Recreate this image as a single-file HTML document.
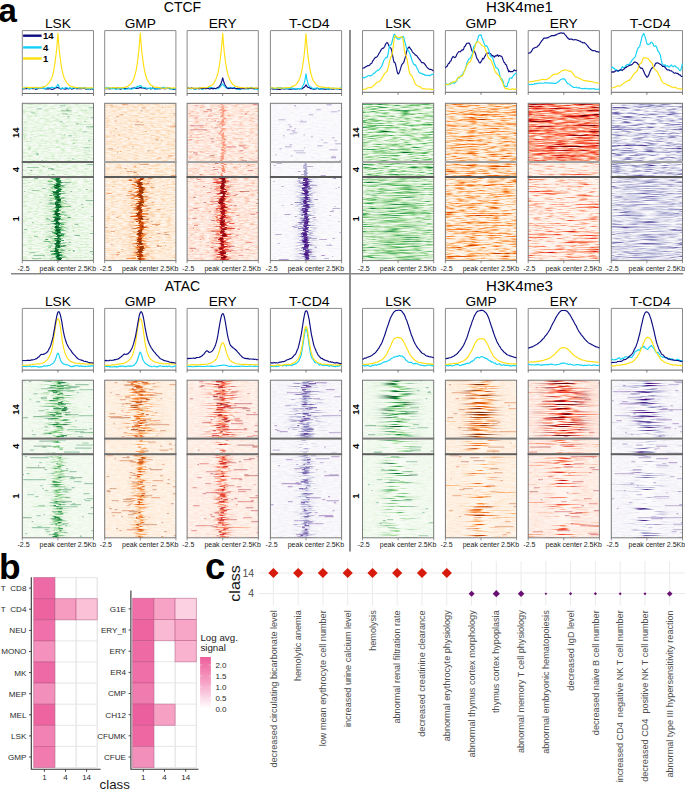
<!DOCTYPE html>
<html><head><meta charset="utf-8"><style>
html,body{margin:0;padding:0;background:#fff;}
body{width:685px;height:790px;overflow:hidden;}
svg{display:block;}
svg text{font-family:"Liberation Sans", sans-serif;}
</style></head><body>
<svg width="685" height="790" viewBox="0 0 685 790">
<defs><filter id="bl" x="-5%" y="-5%" width="110%" height="110%"><feGaussianBlur stdDeviation="0.7 0.3"/></filter>
<linearGradient id="gmN" x1="0" y1="0" x2="1" y2="0"><stop offset="0.000" stop-color="#fff" stop-opacity="0.000"/><stop offset="0.025" stop-color="#fff" stop-opacity="0.000"/><stop offset="0.050" stop-color="#fff" stop-opacity="0.000"/><stop offset="0.075" stop-color="#fff" stop-opacity="0.000"/><stop offset="0.100" stop-color="#fff" stop-opacity="0.000"/><stop offset="0.125" stop-color="#fff" stop-opacity="0.000"/><stop offset="0.150" stop-color="#fff" stop-opacity="0.000"/><stop offset="0.175" stop-color="#fff" stop-opacity="0.000"/><stop offset="0.200" stop-color="#fff" stop-opacity="0.000"/><stop offset="0.225" stop-color="#fff" stop-opacity="0.000"/><stop offset="0.250" stop-color="#fff" stop-opacity="0.000"/><stop offset="0.275" stop-color="#fff" stop-opacity="0.000"/><stop offset="0.300" stop-color="#fff" stop-opacity="0.000"/><stop offset="0.325" stop-color="#fff" stop-opacity="0.000"/><stop offset="0.350" stop-color="#fff" stop-opacity="0.000"/><stop offset="0.375" stop-color="#fff" stop-opacity="0.002"/><stop offset="0.400" stop-color="#fff" stop-opacity="0.017"/><stop offset="0.425" stop-color="#fff" stop-opacity="0.101"/><stop offset="0.450" stop-color="#fff" stop-opacity="0.360"/><stop offset="0.475" stop-color="#fff" stop-opacity="0.775"/><stop offset="0.500" stop-color="#fff" stop-opacity="1.000"/><stop offset="0.525" stop-color="#fff" stop-opacity="0.775"/><stop offset="0.550" stop-color="#fff" stop-opacity="0.360"/><stop offset="0.575" stop-color="#fff" stop-opacity="0.101"/><stop offset="0.600" stop-color="#fff" stop-opacity="0.017"/><stop offset="0.625" stop-color="#fff" stop-opacity="0.002"/><stop offset="0.650" stop-color="#fff" stop-opacity="0.000"/><stop offset="0.675" stop-color="#fff" stop-opacity="0.000"/><stop offset="0.700" stop-color="#fff" stop-opacity="0.000"/><stop offset="0.725" stop-color="#fff" stop-opacity="0.000"/><stop offset="0.750" stop-color="#fff" stop-opacity="0.000"/><stop offset="0.775" stop-color="#fff" stop-opacity="0.000"/><stop offset="0.800" stop-color="#fff" stop-opacity="0.000"/><stop offset="0.825" stop-color="#fff" stop-opacity="0.000"/><stop offset="0.850" stop-color="#fff" stop-opacity="0.000"/><stop offset="0.875" stop-color="#fff" stop-opacity="0.000"/><stop offset="0.900" stop-color="#fff" stop-opacity="0.000"/><stop offset="0.925" stop-color="#fff" stop-opacity="0.000"/><stop offset="0.950" stop-color="#fff" stop-opacity="0.000"/><stop offset="0.975" stop-color="#fff" stop-opacity="0.000"/><stop offset="1.000" stop-color="#fff" stop-opacity="0.000"/></linearGradient>
<mask id="mN" maskContentUnits="objectBoundingBox"><rect width="1" height="1" fill="url(#gmN)"/></mask>
<linearGradient id="gmM" x1="0" y1="0" x2="1" y2="0"><stop offset="0.000" stop-color="#fff" stop-opacity="0.000"/><stop offset="0.025" stop-color="#fff" stop-opacity="0.000"/><stop offset="0.050" stop-color="#fff" stop-opacity="0.000"/><stop offset="0.075" stop-color="#fff" stop-opacity="0.000"/><stop offset="0.100" stop-color="#fff" stop-opacity="0.000"/><stop offset="0.125" stop-color="#fff" stop-opacity="0.000"/><stop offset="0.150" stop-color="#fff" stop-opacity="0.000"/><stop offset="0.175" stop-color="#fff" stop-opacity="0.000"/><stop offset="0.200" stop-color="#fff" stop-opacity="0.000"/><stop offset="0.225" stop-color="#fff" stop-opacity="0.000"/><stop offset="0.250" stop-color="#fff" stop-opacity="0.002"/><stop offset="0.275" stop-color="#fff" stop-opacity="0.006"/><stop offset="0.300" stop-color="#fff" stop-opacity="0.017"/><stop offset="0.325" stop-color="#fff" stop-opacity="0.044"/><stop offset="0.350" stop-color="#fff" stop-opacity="0.101"/><stop offset="0.375" stop-color="#fff" stop-opacity="0.203"/><stop offset="0.400" stop-color="#fff" stop-opacity="0.360"/><stop offset="0.425" stop-color="#fff" stop-opacity="0.563"/><stop offset="0.450" stop-color="#fff" stop-opacity="0.775"/><stop offset="0.475" stop-color="#fff" stop-opacity="0.938"/><stop offset="0.500" stop-color="#fff" stop-opacity="1.000"/><stop offset="0.525" stop-color="#fff" stop-opacity="0.938"/><stop offset="0.550" stop-color="#fff" stop-opacity="0.775"/><stop offset="0.575" stop-color="#fff" stop-opacity="0.563"/><stop offset="0.600" stop-color="#fff" stop-opacity="0.360"/><stop offset="0.625" stop-color="#fff" stop-opacity="0.203"/><stop offset="0.650" stop-color="#fff" stop-opacity="0.101"/><stop offset="0.675" stop-color="#fff" stop-opacity="0.044"/><stop offset="0.700" stop-color="#fff" stop-opacity="0.017"/><stop offset="0.725" stop-color="#fff" stop-opacity="0.006"/><stop offset="0.750" stop-color="#fff" stop-opacity="0.002"/><stop offset="0.775" stop-color="#fff" stop-opacity="0.000"/><stop offset="0.800" stop-color="#fff" stop-opacity="0.000"/><stop offset="0.825" stop-color="#fff" stop-opacity="0.000"/><stop offset="0.850" stop-color="#fff" stop-opacity="0.000"/><stop offset="0.875" stop-color="#fff" stop-opacity="0.000"/><stop offset="0.900" stop-color="#fff" stop-opacity="0.000"/><stop offset="0.925" stop-color="#fff" stop-opacity="0.000"/><stop offset="0.950" stop-color="#fff" stop-opacity="0.000"/><stop offset="0.975" stop-color="#fff" stop-opacity="0.000"/><stop offset="1.000" stop-color="#fff" stop-opacity="0.000"/></linearGradient>
<mask id="mM" maskContentUnits="objectBoundingBox"><rect width="1" height="1" fill="url(#gmM)"/></mask>
<linearGradient id="gmW" x1="0" y1="0" x2="1" y2="0"><stop offset="0.000" stop-color="#fff" stop-opacity="0.001"/><stop offset="0.025" stop-color="#fff" stop-opacity="0.001"/><stop offset="0.050" stop-color="#fff" stop-opacity="0.003"/><stop offset="0.075" stop-color="#fff" stop-opacity="0.005"/><stop offset="0.100" stop-color="#fff" stop-opacity="0.009"/><stop offset="0.125" stop-color="#fff" stop-opacity="0.016"/><stop offset="0.150" stop-color="#fff" stop-opacity="0.027"/><stop offset="0.175" stop-color="#fff" stop-opacity="0.044"/><stop offset="0.200" stop-color="#fff" stop-opacity="0.070"/><stop offset="0.225" stop-color="#fff" stop-opacity="0.107"/><stop offset="0.250" stop-color="#fff" stop-opacity="0.157"/><stop offset="0.275" stop-color="#fff" stop-opacity="0.224"/><stop offset="0.300" stop-color="#fff" stop-opacity="0.306"/><stop offset="0.325" stop-color="#fff" stop-opacity="0.404"/><stop offset="0.350" stop-color="#fff" stop-opacity="0.514"/><stop offset="0.375" stop-color="#fff" stop-opacity="0.630"/><stop offset="0.400" stop-color="#fff" stop-opacity="0.744"/><stop offset="0.425" stop-color="#fff" stop-opacity="0.847"/><stop offset="0.450" stop-color="#fff" stop-opacity="0.929"/><stop offset="0.475" stop-color="#fff" stop-opacity="0.982"/><stop offset="0.500" stop-color="#fff" stop-opacity="1.000"/><stop offset="0.525" stop-color="#fff" stop-opacity="0.982"/><stop offset="0.550" stop-color="#fff" stop-opacity="0.929"/><stop offset="0.575" stop-color="#fff" stop-opacity="0.847"/><stop offset="0.600" stop-color="#fff" stop-opacity="0.744"/><stop offset="0.625" stop-color="#fff" stop-opacity="0.630"/><stop offset="0.650" stop-color="#fff" stop-opacity="0.514"/><stop offset="0.675" stop-color="#fff" stop-opacity="0.404"/><stop offset="0.700" stop-color="#fff" stop-opacity="0.306"/><stop offset="0.725" stop-color="#fff" stop-opacity="0.224"/><stop offset="0.750" stop-color="#fff" stop-opacity="0.157"/><stop offset="0.775" stop-color="#fff" stop-opacity="0.107"/><stop offset="0.800" stop-color="#fff" stop-opacity="0.070"/><stop offset="0.825" stop-color="#fff" stop-opacity="0.044"/><stop offset="0.850" stop-color="#fff" stop-opacity="0.027"/><stop offset="0.875" stop-color="#fff" stop-opacity="0.016"/><stop offset="0.900" stop-color="#fff" stop-opacity="0.009"/><stop offset="0.925" stop-color="#fff" stop-opacity="0.005"/><stop offset="0.950" stop-color="#fff" stop-opacity="0.003"/><stop offset="0.975" stop-color="#fff" stop-opacity="0.001"/><stop offset="1.000" stop-color="#fff" stop-opacity="0.001"/></linearGradient>
<mask id="mW" maskContentUnits="objectBoundingBox"><rect width="1" height="1" fill="url(#gmW)"/></mask>
<linearGradient id="gmX" x1="0" y1="0" x2="1" y2="0"><stop offset="0.000" stop-color="#fff" stop-opacity="0.031"/><stop offset="0.025" stop-color="#fff" stop-opacity="0.044"/><stop offset="0.050" stop-color="#fff" stop-opacity="0.061"/><stop offset="0.075" stop-color="#fff" stop-opacity="0.082"/><stop offset="0.100" stop-color="#fff" stop-opacity="0.109"/><stop offset="0.125" stop-color="#fff" stop-opacity="0.143"/><stop offset="0.150" stop-color="#fff" stop-opacity="0.183"/><stop offset="0.175" stop-color="#fff" stop-opacity="0.232"/><stop offset="0.200" stop-color="#fff" stop-opacity="0.287"/><stop offset="0.225" stop-color="#fff" stop-opacity="0.351"/><stop offset="0.250" stop-color="#fff" stop-opacity="0.421"/><stop offset="0.275" stop-color="#fff" stop-opacity="0.496"/><stop offset="0.300" stop-color="#fff" stop-opacity="0.575"/><stop offset="0.325" stop-color="#fff" stop-opacity="0.654"/><stop offset="0.350" stop-color="#fff" stop-opacity="0.732"/><stop offset="0.375" stop-color="#fff" stop-opacity="0.805"/><stop offset="0.400" stop-color="#fff" stop-opacity="0.871"/><stop offset="0.425" stop-color="#fff" stop-opacity="0.925"/><stop offset="0.450" stop-color="#fff" stop-opacity="0.966"/><stop offset="0.475" stop-color="#fff" stop-opacity="0.991"/><stop offset="0.500" stop-color="#fff" stop-opacity="1.000"/><stop offset="0.525" stop-color="#fff" stop-opacity="0.991"/><stop offset="0.550" stop-color="#fff" stop-opacity="0.966"/><stop offset="0.575" stop-color="#fff" stop-opacity="0.925"/><stop offset="0.600" stop-color="#fff" stop-opacity="0.871"/><stop offset="0.625" stop-color="#fff" stop-opacity="0.805"/><stop offset="0.650" stop-color="#fff" stop-opacity="0.732"/><stop offset="0.675" stop-color="#fff" stop-opacity="0.654"/><stop offset="0.700" stop-color="#fff" stop-opacity="0.575"/><stop offset="0.725" stop-color="#fff" stop-opacity="0.496"/><stop offset="0.750" stop-color="#fff" stop-opacity="0.421"/><stop offset="0.775" stop-color="#fff" stop-opacity="0.351"/><stop offset="0.800" stop-color="#fff" stop-opacity="0.287"/><stop offset="0.825" stop-color="#fff" stop-opacity="0.232"/><stop offset="0.850" stop-color="#fff" stop-opacity="0.183"/><stop offset="0.875" stop-color="#fff" stop-opacity="0.143"/><stop offset="0.900" stop-color="#fff" stop-opacity="0.109"/><stop offset="0.925" stop-color="#fff" stop-opacity="0.082"/><stop offset="0.950" stop-color="#fff" stop-opacity="0.061"/><stop offset="0.975" stop-color="#fff" stop-opacity="0.044"/><stop offset="1.000" stop-color="#fff" stop-opacity="0.031"/></linearGradient>
<mask id="mX" maskContentUnits="objectBoundingBox"><rect width="1" height="1" fill="url(#gmX)"/></mask>
<filter id="F0" x="0" y="0" width="1" height="1" color-interpolation-filters="sRGB"><feTurbulence type="fractalNoise" baseFrequency="0.18 0.7" numOctaves="2" seed="5"/><feColorMatrix type="matrix" values="0.5 0 0 0 -0.17 0.5 0 0 0 -0.17 0.5 0 0 0 -0.17 0 0 0 0 1" result="L0"/><feTurbulence type="fractalNoise" baseFrequency="0.25 0.8" numOctaves="2" seed="6"/><feColorMatrix type="matrix" values="3.0 0 0 0 -2.25 3.0 0 0 0 -2.25 3.0 0 0 0 -2.25 0 0 0 0 1" result="L1"/><feComposite in="L0" in2="L1" operator="arithmetic" k1="0" k2="1" k3="1" k4="0" result="S1"/><feComponentTransfer in="S1"><feFuncR type="table" tableValues="0.969 0.898 0.780 0.631 0.455 0.255 0.137 0.000 0.000"/><feFuncG type="table" tableValues="0.988 0.961 0.914 0.851 0.769 0.671 0.545 0.427 0.267"/><feFuncB type="table" tableValues="0.961 0.878 0.753 0.608 0.463 0.365 0.271 0.173 0.106"/><feFuncA type="linear" slope="0" intercept="1"/></feComponentTransfer></filter>
<clipPath id="c1"><rect x="22.3" y="103.3" width="71.2" height="57.7"/></clipPath>
<filter id="F1" x="0" y="0" width="1" height="1" color-interpolation-filters="sRGB"><feTurbulence type="fractalNoise" baseFrequency="0.18 0.7" numOctaves="2" seed="10"/><feColorMatrix type="matrix" values="0.5 0 0 0 -0.17 0.5 0 0 0 -0.17 0.5 0 0 0 -0.17 0 0 0 0 1" result="L0"/><feTurbulence type="fractalNoise" baseFrequency="0.25 0.8" numOctaves="2" seed="11"/><feColorMatrix type="matrix" values="3.0 0 0 0 -2.25 3.0 0 0 0 -2.25 3.0 0 0 0 -2.25 0 0 0 0 1" result="L1"/><feComposite in="L0" in2="L1" operator="arithmetic" k1="0" k2="1" k3="1" k4="0" result="S1"/><feComponentTransfer in="S1"><feFuncR type="table" tableValues="0.969 0.898 0.780 0.631 0.455 0.255 0.137 0.000 0.000"/><feFuncG type="table" tableValues="0.988 0.961 0.914 0.851 0.769 0.671 0.545 0.427 0.267"/><feFuncB type="table" tableValues="0.961 0.878 0.753 0.608 0.463 0.365 0.271 0.173 0.106"/><feFuncA type="linear" slope="0" intercept="1"/></feComponentTransfer></filter>
<clipPath id="c2"><rect x="22.3" y="163" width="71.2" height="13"/></clipPath>
<filter id="F2" x="0" y="0" width="1" height="1" color-interpolation-filters="sRGB"><feTurbulence type="fractalNoise" baseFrequency="0.18 0.7" numOctaves="2" seed="15"/><feColorMatrix type="matrix" values="0.5 0 0 0 -0.17 0.5 0 0 0 -0.17 0.5 0 0 0 -0.17 0 0 0 0 1" result="L0"/><feTurbulence type="fractalNoise" baseFrequency="0.25 0.8" numOctaves="2" seed="16"/><feColorMatrix type="matrix" values="3.0 0 0 0 -2.25 3.0 0 0 0 -2.25 3.0 0 0 0 -2.25 0 0 0 0 1" result="L1"/><feComposite in="L0" in2="L1" operator="arithmetic" k1="0" k2="1" k3="1" k4="0" result="S1"/><feComponentTransfer in="S1"><feFuncR type="table" tableValues="0.969 0.898 0.780 0.631 0.455 0.255 0.137 0.000 0.000"/><feFuncG type="table" tableValues="0.988 0.961 0.914 0.851 0.769 0.671 0.545 0.427 0.267"/><feFuncB type="table" tableValues="0.961 0.878 0.753 0.608 0.463 0.365 0.271 0.173 0.106"/><feFuncA type="linear" slope="0" intercept="1"/></feComponentTransfer></filter>
<filter id="F3" x="0" y="0" width="1" height="1" color-interpolation-filters="sRGB"><feTurbulence type="fractalNoise" baseFrequency="0.15 0.9" numOctaves="2" seed="100"/><feColorMatrix type="matrix" values="2.2 0 0 0 -0.8 2.2 0 0 0 -0.8 2.2 0 0 0 -0.8 0 0 0 0 1" result="L0"/><feComponentTransfer in="L0"><feFuncR type="table" tableValues="0.969 0.898 0.780 0.631 0.455 0.255 0.137 0.000 0.000"/><feFuncG type="table" tableValues="0.988 0.961 0.914 0.851 0.769 0.671 0.545 0.427 0.267"/><feFuncB type="table" tableValues="0.961 0.878 0.753 0.608 0.463 0.365 0.271 0.173 0.106"/><feFuncA type="linear" slope="0" intercept="1"/></feComponentTransfer></filter>
<clipPath id="c3"><rect x="22.3" y="178" width="71.2" height="82.6"/></clipPath>
<filter id="F4" x="0" y="0" width="1" height="1" color-interpolation-filters="sRGB"><feTurbulence type="fractalNoise" baseFrequency="0.18 0.7" numOctaves="2" seed="55"/><feColorMatrix type="matrix" values="0.5 0 0 0 -0.17 0.5 0 0 0 -0.17 0.5 0 0 0 -0.17 0 0 0 0 1" result="L0"/><feTurbulence type="fractalNoise" baseFrequency="0.25 0.8" numOctaves="2" seed="56"/><feColorMatrix type="matrix" values="3.0 0 0 0 -2.25 3.0 0 0 0 -2.25 3.0 0 0 0 -2.25 0 0 0 0 1" result="L1"/><feComposite in="L0" in2="L1" operator="arithmetic" k1="0" k2="1" k3="1" k4="0" result="S1"/><feComponentTransfer in="S1"><feFuncR type="table" tableValues="1.000 0.996 0.992 0.992 0.992 0.945 0.851 0.651 0.498"/><feFuncG type="table" tableValues="0.961 0.902 0.816 0.682 0.553 0.412 0.282 0.212 0.153"/><feFuncB type="table" tableValues="0.922 0.808 0.635 0.420 0.235 0.075 0.004 0.012 0.016"/><feFuncA type="linear" slope="0" intercept="1"/></feComponentTransfer></filter>
<clipPath id="c4"><rect x="104.7" y="103.3" width="71.2" height="57.7"/></clipPath>
<filter id="F5" x="0" y="0" width="1" height="1" color-interpolation-filters="sRGB"><feTurbulence type="fractalNoise" baseFrequency="0.18 0.7" numOctaves="2" seed="60"/><feColorMatrix type="matrix" values="0.5 0 0 0 -0.17 0.5 0 0 0 -0.17 0.5 0 0 0 -0.17 0 0 0 0 1" result="L0"/><feTurbulence type="fractalNoise" baseFrequency="0.25 0.8" numOctaves="2" seed="61"/><feColorMatrix type="matrix" values="3.0 0 0 0 -2.25 3.0 0 0 0 -2.25 3.0 0 0 0 -2.25 0 0 0 0 1" result="L1"/><feComposite in="L0" in2="L1" operator="arithmetic" k1="0" k2="1" k3="1" k4="0" result="S1"/><feComponentTransfer in="S1"><feFuncR type="table" tableValues="1.000 0.996 0.992 0.992 0.992 0.945 0.851 0.651 0.498"/><feFuncG type="table" tableValues="0.961 0.902 0.816 0.682 0.553 0.412 0.282 0.212 0.153"/><feFuncB type="table" tableValues="0.922 0.808 0.635 0.420 0.235 0.075 0.004 0.012 0.016"/><feFuncA type="linear" slope="0" intercept="1"/></feComponentTransfer></filter>
<clipPath id="c5"><rect x="104.7" y="163" width="71.2" height="13"/></clipPath>
<filter id="F6" x="0" y="0" width="1" height="1" color-interpolation-filters="sRGB"><feTurbulence type="fractalNoise" baseFrequency="0.18 0.7" numOctaves="2" seed="65"/><feColorMatrix type="matrix" values="0.5 0 0 0 -0.17 0.5 0 0 0 -0.17 0.5 0 0 0 -0.17 0 0 0 0 1" result="L0"/><feTurbulence type="fractalNoise" baseFrequency="0.25 0.8" numOctaves="2" seed="66"/><feColorMatrix type="matrix" values="3.0 0 0 0 -2.25 3.0 0 0 0 -2.25 3.0 0 0 0 -2.25 0 0 0 0 1" result="L1"/><feComposite in="L0" in2="L1" operator="arithmetic" k1="0" k2="1" k3="1" k4="0" result="S1"/><feComponentTransfer in="S1"><feFuncR type="table" tableValues="1.000 0.996 0.992 0.992 0.992 0.945 0.851 0.651 0.498"/><feFuncG type="table" tableValues="0.961 0.902 0.816 0.682 0.553 0.412 0.282 0.212 0.153"/><feFuncB type="table" tableValues="0.922 0.808 0.635 0.420 0.235 0.075 0.004 0.012 0.016"/><feFuncA type="linear" slope="0" intercept="1"/></feComponentTransfer></filter>
<filter id="F7" x="0" y="0" width="1" height="1" color-interpolation-filters="sRGB"><feTurbulence type="fractalNoise" baseFrequency="0.15 0.9" numOctaves="2" seed="150"/><feColorMatrix type="matrix" values="2.2 0 0 0 -0.8 2.2 0 0 0 -0.8 2.2 0 0 0 -0.8 0 0 0 0 1" result="L0"/><feComponentTransfer in="L0"><feFuncR type="table" tableValues="1.000 0.996 0.992 0.992 0.992 0.945 0.851 0.651 0.498"/><feFuncG type="table" tableValues="0.961 0.902 0.816 0.682 0.553 0.412 0.282 0.212 0.153"/><feFuncB type="table" tableValues="0.922 0.808 0.635 0.420 0.235 0.075 0.004 0.012 0.016"/><feFuncA type="linear" slope="0" intercept="1"/></feComponentTransfer></filter>
<clipPath id="c6"><rect x="104.7" y="178" width="71.2" height="82.6"/></clipPath>
<filter id="F8" x="0" y="0" width="1" height="1" color-interpolation-filters="sRGB"><feTurbulence type="fractalNoise" baseFrequency="0.18 0.7" numOctaves="2" seed="105"/><feColorMatrix type="matrix" values="0.5 0 0 0 -0.17 0.5 0 0 0 -0.17 0.5 0 0 0 -0.17 0 0 0 0 1" result="L0"/><feTurbulence type="fractalNoise" baseFrequency="0.25 0.8" numOctaves="2" seed="106"/><feColorMatrix type="matrix" values="3.0 0 0 0 -2.25 3.0 0 0 0 -2.25 3.0 0 0 0 -2.25 0 0 0 0 1" result="L1"/><feComposite in="L0" in2="L1" operator="arithmetic" k1="0" k2="1" k3="1" k4="0" result="S1"/><feComponentTransfer in="S1"><feFuncR type="table" tableValues="1.000 0.996 0.988 0.988 0.984 0.937 0.796 0.647 0.404"/><feFuncG type="table" tableValues="0.961 0.878 0.733 0.573 0.416 0.231 0.094 0.059 0.000"/><feFuncB type="table" tableValues="0.941 0.824 0.631 0.447 0.290 0.173 0.114 0.082 0.051"/><feFuncA type="linear" slope="0" intercept="1"/></feComponentTransfer></filter>
<clipPath id="c7"><rect x="187.1" y="103.3" width="71.2" height="57.7"/></clipPath>
<filter id="F9" x="0" y="0" width="1" height="1" color-interpolation-filters="sRGB"><feTurbulence type="fractalNoise" baseFrequency="0.18 0.7" numOctaves="2" seed="110"/><feColorMatrix type="matrix" values="0.5 0 0 0 -0.17 0.5 0 0 0 -0.17 0.5 0 0 0 -0.17 0 0 0 0 1" result="L0"/><feTurbulence type="fractalNoise" baseFrequency="0.25 0.8" numOctaves="2" seed="111"/><feColorMatrix type="matrix" values="3.0 0 0 0 -2.25 3.0 0 0 0 -2.25 3.0 0 0 0 -2.25 0 0 0 0 1" result="L1"/><feComposite in="L0" in2="L1" operator="arithmetic" k1="0" k2="1" k3="1" k4="0" result="S1"/><feComponentTransfer in="S1"><feFuncR type="table" tableValues="1.000 0.996 0.988 0.988 0.984 0.937 0.796 0.647 0.404"/><feFuncG type="table" tableValues="0.961 0.878 0.733 0.573 0.416 0.231 0.094 0.059 0.000"/><feFuncB type="table" tableValues="0.941 0.824 0.631 0.447 0.290 0.173 0.114 0.082 0.051"/><feFuncA type="linear" slope="0" intercept="1"/></feComponentTransfer></filter>
<clipPath id="c8"><rect x="187.1" y="163" width="71.2" height="13"/></clipPath>
<filter id="F10" x="0" y="0" width="1" height="1" color-interpolation-filters="sRGB"><feTurbulence type="fractalNoise" baseFrequency="0.18 0.7" numOctaves="2" seed="115"/><feColorMatrix type="matrix" values="0.5 0 0 0 -0.17 0.5 0 0 0 -0.17 0.5 0 0 0 -0.17 0 0 0 0 1" result="L0"/><feTurbulence type="fractalNoise" baseFrequency="0.25 0.8" numOctaves="2" seed="116"/><feColorMatrix type="matrix" values="3.0 0 0 0 -2.25 3.0 0 0 0 -2.25 3.0 0 0 0 -2.25 0 0 0 0 1" result="L1"/><feComposite in="L0" in2="L1" operator="arithmetic" k1="0" k2="1" k3="1" k4="0" result="S1"/><feComponentTransfer in="S1"><feFuncR type="table" tableValues="1.000 0.996 0.988 0.988 0.984 0.937 0.796 0.647 0.404"/><feFuncG type="table" tableValues="0.961 0.878 0.733 0.573 0.416 0.231 0.094 0.059 0.000"/><feFuncB type="table" tableValues="0.941 0.824 0.631 0.447 0.290 0.173 0.114 0.082 0.051"/><feFuncA type="linear" slope="0" intercept="1"/></feComponentTransfer></filter>
<filter id="F11" x="0" y="0" width="1" height="1" color-interpolation-filters="sRGB"><feTurbulence type="fractalNoise" baseFrequency="0.15 0.9" numOctaves="2" seed="200"/><feColorMatrix type="matrix" values="2.2 0 0 0 -0.8 2.2 0 0 0 -0.8 2.2 0 0 0 -0.8 0 0 0 0 1" result="L0"/><feComponentTransfer in="L0"><feFuncR type="table" tableValues="1.000 0.996 0.988 0.988 0.984 0.937 0.796 0.647 0.404"/><feFuncG type="table" tableValues="0.961 0.878 0.733 0.573 0.416 0.231 0.094 0.059 0.000"/><feFuncB type="table" tableValues="0.941 0.824 0.631 0.447 0.290 0.173 0.114 0.082 0.051"/><feFuncA type="linear" slope="0" intercept="1"/></feComponentTransfer></filter>
<clipPath id="c9"><rect x="187.1" y="178" width="71.2" height="82.6"/></clipPath>
<filter id="F12" x="0" y="0" width="1" height="1" color-interpolation-filters="sRGB"><feTurbulence type="fractalNoise" baseFrequency="0.18 0.7" numOctaves="2" seed="155"/><feColorMatrix type="matrix" values="0.2 0 0 0 -0.08 0.2 0 0 0 -0.08 0.2 0 0 0 -0.08 0 0 0 0 1" result="L0"/><feComponentTransfer in="L0"><feFuncR type="table" tableValues="0.988 0.937 0.855 0.737 0.620 0.502 0.416 0.329 0.247"/><feFuncG type="table" tableValues="0.984 0.929 0.855 0.741 0.604 0.490 0.318 0.153 0.000"/><feFuncB type="table" tableValues="0.992 0.961 0.922 0.863 0.784 0.729 0.639 0.561 0.490"/><feFuncA type="linear" slope="0" intercept="1"/></feComponentTransfer></filter>
<clipPath id="c10"><rect x="270.4" y="103.3" width="71.2" height="57.7"/></clipPath>
<filter id="F13" x="0" y="0" width="1" height="1" color-interpolation-filters="sRGB"><feTurbulence type="fractalNoise" baseFrequency="0.18 0.7" numOctaves="2" seed="160"/><feColorMatrix type="matrix" values="0.2 0 0 0 -0.08 0.2 0 0 0 -0.08 0.2 0 0 0 -0.08 0 0 0 0 1" result="L0"/><feComponentTransfer in="L0"><feFuncR type="table" tableValues="0.988 0.937 0.855 0.737 0.620 0.502 0.416 0.329 0.247"/><feFuncG type="table" tableValues="0.984 0.929 0.855 0.741 0.604 0.490 0.318 0.153 0.000"/><feFuncB type="table" tableValues="0.992 0.961 0.922 0.863 0.784 0.729 0.639 0.561 0.490"/><feFuncA type="linear" slope="0" intercept="1"/></feComponentTransfer></filter>
<clipPath id="c11"><rect x="270.4" y="163" width="71.2" height="13"/></clipPath>
<filter id="F14" x="0" y="0" width="1" height="1" color-interpolation-filters="sRGB"><feTurbulence type="fractalNoise" baseFrequency="0.18 0.7" numOctaves="2" seed="165"/><feColorMatrix type="matrix" values="0.2 0 0 0 -0.08 0.2 0 0 0 -0.08 0.2 0 0 0 -0.08 0 0 0 0 1" result="L0"/><feComponentTransfer in="L0"><feFuncR type="table" tableValues="0.988 0.937 0.855 0.737 0.620 0.502 0.416 0.329 0.247"/><feFuncG type="table" tableValues="0.984 0.929 0.855 0.741 0.604 0.490 0.318 0.153 0.000"/><feFuncB type="table" tableValues="0.992 0.961 0.922 0.863 0.784 0.729 0.639 0.561 0.490"/><feFuncA type="linear" slope="0" intercept="1"/></feComponentTransfer></filter>
<filter id="F15" x="0" y="0" width="1" height="1" color-interpolation-filters="sRGB"><feTurbulence type="fractalNoise" baseFrequency="0.15 0.9" numOctaves="2" seed="250"/><feColorMatrix type="matrix" values="2.2 0 0 0 -0.8 2.2 0 0 0 -0.8 2.2 0 0 0 -0.8 0 0 0 0 1" result="L0"/><feComponentTransfer in="L0"><feFuncR type="table" tableValues="0.988 0.937 0.855 0.737 0.620 0.502 0.416 0.329 0.247"/><feFuncG type="table" tableValues="0.984 0.929 0.855 0.741 0.604 0.490 0.318 0.153 0.000"/><feFuncB type="table" tableValues="0.992 0.961 0.922 0.863 0.784 0.729 0.639 0.561 0.490"/><feFuncA type="linear" slope="0" intercept="1"/></feComponentTransfer></filter>
<clipPath id="c12"><rect x="270.4" y="178" width="71.2" height="82.6"/></clipPath>
<filter id="F16" x="0" y="0" width="1" height="1" color-interpolation-filters="sRGB"><feTurbulence type="fractalNoise" baseFrequency="0.09 0.9" numOctaves="2" seed="5"/><feColorMatrix type="matrix" values="1.5 0 0 0 -0.54 1.5 0 0 0 -0.54 1.5 0 0 0 -0.54 0 0 0 0 1" result="L0"/><feTurbulence type="fractalNoise" baseFrequency="0.018 0.95" numOctaves="2" seed="6"/><feColorMatrix type="matrix" values="2.6 0 0 0 -1.6 2.6 0 0 0 -1.6 2.6 0 0 0 -1.6 0 0 0 0 1" result="L1"/><feComposite in="L0" in2="L1" operator="arithmetic" k1="0" k2="1" k3="1" k4="0" result="S1"/><feComponentTransfer in="S1"><feFuncR type="table" tableValues="0.969 0.898 0.780 0.631 0.455 0.255 0.137 0.000 0.000"/><feFuncG type="table" tableValues="0.988 0.961 0.914 0.851 0.769 0.671 0.545 0.427 0.267"/><feFuncB type="table" tableValues="0.961 0.878 0.753 0.608 0.463 0.365 0.271 0.173 0.106"/><feFuncA type="linear" slope="0" intercept="1"/></feComponentTransfer></filter>
<filter id="F17" x="0" y="0" width="1" height="1" color-interpolation-filters="sRGB"><feTurbulence type="fractalNoise" baseFrequency="0.09 0.9" numOctaves="2" seed="10"/><feColorMatrix type="matrix" values="1.5 0 0 0 -0.55 1.5 0 0 0 -0.55 1.5 0 0 0 -0.55 0 0 0 0 1" result="L0"/><feTurbulence type="fractalNoise" baseFrequency="0.018 0.95" numOctaves="2" seed="11"/><feColorMatrix type="matrix" values="2.6 0 0 0 -1.6 2.6 0 0 0 -1.6 2.6 0 0 0 -1.6 0 0 0 0 1" result="L1"/><feComposite in="L0" in2="L1" operator="arithmetic" k1="0" k2="1" k3="1" k4="0" result="S1"/><feComponentTransfer in="S1"><feFuncR type="table" tableValues="0.969 0.898 0.780 0.631 0.455 0.255 0.137 0.000 0.000"/><feFuncG type="table" tableValues="0.988 0.961 0.914 0.851 0.769 0.671 0.545 0.427 0.267"/><feFuncB type="table" tableValues="0.961 0.878 0.753 0.608 0.463 0.365 0.271 0.173 0.106"/><feFuncA type="linear" slope="0" intercept="1"/></feComponentTransfer></filter>
<filter id="F18" x="0" y="0" width="1" height="1" color-interpolation-filters="sRGB"><feTurbulence type="fractalNoise" baseFrequency="0.09 0.9" numOctaves="2" seed="15"/><feColorMatrix type="matrix" values="1.5 0 0 0 -0.6 1.5 0 0 0 -0.6 1.5 0 0 0 -0.6 0 0 0 0 1" result="L0"/><feTurbulence type="fractalNoise" baseFrequency="0.018 0.95" numOctaves="2" seed="16"/><feColorMatrix type="matrix" values="2.6 0 0 0 -1.6 2.6 0 0 0 -1.6 2.6 0 0 0 -1.6 0 0 0 0 1" result="L1"/><feComposite in="L0" in2="L1" operator="arithmetic" k1="0" k2="1" k3="1" k4="0" result="S1"/><feComponentTransfer in="S1"><feFuncR type="table" tableValues="0.969 0.898 0.780 0.631 0.455 0.255 0.137 0.000 0.000"/><feFuncG type="table" tableValues="0.988 0.961 0.914 0.851 0.769 0.671 0.545 0.427 0.267"/><feFuncB type="table" tableValues="0.961 0.878 0.753 0.608 0.463 0.365 0.271 0.173 0.106"/><feFuncA type="linear" slope="0" intercept="1"/></feComponentTransfer></filter>
<filter id="F19" x="0" y="0" width="1" height="1" color-interpolation-filters="sRGB"><feTurbulence type="fractalNoise" baseFrequency="0.05 0.9" numOctaves="2" seed="100"/><feColorMatrix type="matrix" values="1.5 0 0 0 -0.43 1.5 0 0 0 -0.43 1.5 0 0 0 -0.43 0 0 0 0 1" result="L0"/><feComponentTransfer in="L0"><feFuncR type="table" tableValues="0.969 0.898 0.780 0.631 0.455 0.255 0.137 0.000 0.000"/><feFuncG type="table" tableValues="0.988 0.961 0.914 0.851 0.769 0.671 0.545 0.427 0.267"/><feFuncB type="table" tableValues="0.961 0.878 0.753 0.608 0.463 0.365 0.271 0.173 0.106"/><feFuncA type="linear" slope="0" intercept="1"/></feComponentTransfer></filter>
<filter id="F20" x="0" y="0" width="1" height="1" color-interpolation-filters="sRGB"><feTurbulence type="fractalNoise" baseFrequency="0.09 0.9" numOctaves="2" seed="55"/><feColorMatrix type="matrix" values="1.5 0 0 0 -0.56 1.5 0 0 0 -0.56 1.5 0 0 0 -0.56 0 0 0 0 1" result="L0"/><feTurbulence type="fractalNoise" baseFrequency="0.018 0.95" numOctaves="2" seed="56"/><feColorMatrix type="matrix" values="2.6 0 0 0 -1.6 2.6 0 0 0 -1.6 2.6 0 0 0 -1.6 0 0 0 0 1" result="L1"/><feComposite in="L0" in2="L1" operator="arithmetic" k1="0" k2="1" k3="1" k4="0" result="S1"/><feComponentTransfer in="S1"><feFuncR type="table" tableValues="1.000 0.996 0.992 0.992 0.992 0.945 0.851 0.651 0.498"/><feFuncG type="table" tableValues="0.961 0.902 0.816 0.682 0.553 0.412 0.282 0.212 0.153"/><feFuncB type="table" tableValues="0.922 0.808 0.635 0.420 0.235 0.075 0.004 0.012 0.016"/><feFuncA type="linear" slope="0" intercept="1"/></feComponentTransfer></filter>
<filter id="F21" x="0" y="0" width="1" height="1" color-interpolation-filters="sRGB"><feTurbulence type="fractalNoise" baseFrequency="0.09 0.9" numOctaves="2" seed="60"/><feColorMatrix type="matrix" values="1.5 0 0 0 -0.57 1.5 0 0 0 -0.57 1.5 0 0 0 -0.57 0 0 0 0 1" result="L0"/><feTurbulence type="fractalNoise" baseFrequency="0.018 0.95" numOctaves="2" seed="61"/><feColorMatrix type="matrix" values="2.6 0 0 0 -1.6 2.6 0 0 0 -1.6 2.6 0 0 0 -1.6 0 0 0 0 1" result="L1"/><feComposite in="L0" in2="L1" operator="arithmetic" k1="0" k2="1" k3="1" k4="0" result="S1"/><feComponentTransfer in="S1"><feFuncR type="table" tableValues="1.000 0.996 0.992 0.992 0.992 0.945 0.851 0.651 0.498"/><feFuncG type="table" tableValues="0.961 0.902 0.816 0.682 0.553 0.412 0.282 0.212 0.153"/><feFuncB type="table" tableValues="0.922 0.808 0.635 0.420 0.235 0.075 0.004 0.012 0.016"/><feFuncA type="linear" slope="0" intercept="1"/></feComponentTransfer></filter>
<filter id="F22" x="0" y="0" width="1" height="1" color-interpolation-filters="sRGB"><feTurbulence type="fractalNoise" baseFrequency="0.09 0.9" numOctaves="2" seed="65"/><feColorMatrix type="matrix" values="1.5 0 0 0 -0.6 1.5 0 0 0 -0.6 1.5 0 0 0 -0.6 0 0 0 0 1" result="L0"/><feTurbulence type="fractalNoise" baseFrequency="0.018 0.95" numOctaves="2" seed="66"/><feColorMatrix type="matrix" values="2.6 0 0 0 -1.6 2.6 0 0 0 -1.6 2.6 0 0 0 -1.6 0 0 0 0 1" result="L1"/><feComposite in="L0" in2="L1" operator="arithmetic" k1="0" k2="1" k3="1" k4="0" result="S1"/><feComponentTransfer in="S1"><feFuncR type="table" tableValues="1.000 0.996 0.992 0.992 0.992 0.945 0.851 0.651 0.498"/><feFuncG type="table" tableValues="0.961 0.902 0.816 0.682 0.553 0.412 0.282 0.212 0.153"/><feFuncB type="table" tableValues="0.922 0.808 0.635 0.420 0.235 0.075 0.004 0.012 0.016"/><feFuncA type="linear" slope="0" intercept="1"/></feComponentTransfer></filter>
<filter id="F23" x="0" y="0" width="1" height="1" color-interpolation-filters="sRGB"><feTurbulence type="fractalNoise" baseFrequency="0.09 0.9" numOctaves="2" seed="105"/><feColorMatrix type="matrix" values="1.2 0 0 0 -0.3 1.2 0 0 0 -0.3 1.2 0 0 0 -0.3 0 0 0 0 1" result="L0"/><feTurbulence type="fractalNoise" baseFrequency="0.018 0.95" numOctaves="2" seed="106"/><feColorMatrix type="matrix" values="2.6 0 0 0 -1.4 2.6 0 0 0 -1.4 2.6 0 0 0 -1.4 0 0 0 0 1" result="L1"/><feComposite in="L0" in2="L1" operator="arithmetic" k1="0" k2="1" k3="1" k4="0" result="S1"/><feComponentTransfer in="S1"><feFuncR type="table" tableValues="1.000 0.996 0.988 0.988 0.984 0.937 0.796 0.647 0.404"/><feFuncG type="table" tableValues="0.961 0.878 0.733 0.573 0.416 0.231 0.094 0.059 0.000"/><feFuncB type="table" tableValues="0.941 0.824 0.631 0.447 0.290 0.173 0.114 0.082 0.051"/><feFuncA type="linear" slope="0" intercept="1"/></feComponentTransfer></filter>
<filter id="F24" x="0" y="0" width="1" height="1" color-interpolation-filters="sRGB"><feTurbulence type="fractalNoise" baseFrequency="0.09 0.9" numOctaves="2" seed="110"/><feColorMatrix type="matrix" values="0.8 0 0 0 -0.34 0.8 0 0 0 -0.34 0.8 0 0 0 -0.34 0 0 0 0 1" result="L0"/><feTurbulence type="fractalNoise" baseFrequency="0.018 0.95" numOctaves="2" seed="111"/><feColorMatrix type="matrix" values="2.6 0 0 0 -1.8 2.6 0 0 0 -1.8 2.6 0 0 0 -1.8 0 0 0 0 1" result="L1"/><feComposite in="L0" in2="L1" operator="arithmetic" k1="0" k2="1" k3="1" k4="0" result="S1"/><feComponentTransfer in="S1"><feFuncR type="table" tableValues="1.000 0.996 0.988 0.988 0.984 0.937 0.796 0.647 0.404"/><feFuncG type="table" tableValues="0.961 0.878 0.733 0.573 0.416 0.231 0.094 0.059 0.000"/><feFuncB type="table" tableValues="0.941 0.824 0.631 0.447 0.290 0.173 0.114 0.082 0.051"/><feFuncA type="linear" slope="0" intercept="1"/></feComponentTransfer></filter>
<filter id="F25" x="0" y="0" width="1" height="1" color-interpolation-filters="sRGB"><feTurbulence type="fractalNoise" baseFrequency="0.09 0.9" numOctaves="2" seed="115"/><feColorMatrix type="matrix" values="1.2 0 0 0 -0.56 1.2 0 0 0 -0.56 1.2 0 0 0 -0.56 0 0 0 0 1" result="L0"/><feTurbulence type="fractalNoise" baseFrequency="0.018 0.95" numOctaves="2" seed="116"/><feColorMatrix type="matrix" values="2.6 0 0 0 -1.52 2.6 0 0 0 -1.52 2.6 0 0 0 -1.52 0 0 0 0 1" result="L1"/><feComposite in="L0" in2="L1" operator="arithmetic" k1="0" k2="1" k3="1" k4="0" result="S1"/><feComponentTransfer in="S1"><feFuncR type="table" tableValues="1.000 0.996 0.988 0.988 0.984 0.937 0.796 0.647 0.404"/><feFuncG type="table" tableValues="0.961 0.878 0.733 0.573 0.416 0.231 0.094 0.059 0.000"/><feFuncB type="table" tableValues="0.941 0.824 0.631 0.447 0.290 0.173 0.114 0.082 0.051"/><feFuncA type="linear" slope="0" intercept="1"/></feComponentTransfer></filter>
<filter id="F26" x="0" y="0" width="1" height="1" color-interpolation-filters="sRGB"><feTurbulence type="fractalNoise" baseFrequency="0.09 0.9" numOctaves="2" seed="155"/><feColorMatrix type="matrix" values="1.5 0 0 0 -0.55 1.5 0 0 0 -0.55 1.5 0 0 0 -0.55 0 0 0 0 1" result="L0"/><feTurbulence type="fractalNoise" baseFrequency="0.018 0.95" numOctaves="2" seed="156"/><feColorMatrix type="matrix" values="2.6 0 0 0 -1.6 2.6 0 0 0 -1.6 2.6 0 0 0 -1.6 0 0 0 0 1" result="L1"/><feComposite in="L0" in2="L1" operator="arithmetic" k1="0" k2="1" k3="1" k4="0" result="S1"/><feComponentTransfer in="S1"><feFuncR type="table" tableValues="0.988 0.937 0.855 0.737 0.620 0.502 0.416 0.329 0.247"/><feFuncG type="table" tableValues="0.984 0.929 0.855 0.741 0.604 0.490 0.318 0.153 0.000"/><feFuncB type="table" tableValues="0.992 0.961 0.922 0.863 0.784 0.729 0.639 0.561 0.490"/><feFuncA type="linear" slope="0" intercept="1"/></feComponentTransfer></filter>
<filter id="F27" x="0" y="0" width="1" height="1" color-interpolation-filters="sRGB"><feTurbulence type="fractalNoise" baseFrequency="0.09 0.9" numOctaves="2" seed="160"/><feColorMatrix type="matrix" values="1.5 0 0 0 -0.55 1.5 0 0 0 -0.55 1.5 0 0 0 -0.55 0 0 0 0 1" result="L0"/><feTurbulence type="fractalNoise" baseFrequency="0.018 0.95" numOctaves="2" seed="161"/><feColorMatrix type="matrix" values="2.6 0 0 0 -1.6 2.6 0 0 0 -1.6 2.6 0 0 0 -1.6 0 0 0 0 1" result="L1"/><feComposite in="L0" in2="L1" operator="arithmetic" k1="0" k2="1" k3="1" k4="0" result="S1"/><feComponentTransfer in="S1"><feFuncR type="table" tableValues="0.988 0.937 0.855 0.737 0.620 0.502 0.416 0.329 0.247"/><feFuncG type="table" tableValues="0.984 0.929 0.855 0.741 0.604 0.490 0.318 0.153 0.000"/><feFuncB type="table" tableValues="0.992 0.961 0.922 0.863 0.784 0.729 0.639 0.561 0.490"/><feFuncA type="linear" slope="0" intercept="1"/></feComponentTransfer></filter>
<filter id="F28" x="0" y="0" width="1" height="1" color-interpolation-filters="sRGB"><feTurbulence type="fractalNoise" baseFrequency="0.09 0.9" numOctaves="2" seed="165"/><feColorMatrix type="matrix" values="1.5 0 0 0 -0.59 1.5 0 0 0 -0.59 1.5 0 0 0 -0.59 0 0 0 0 1" result="L0"/><feTurbulence type="fractalNoise" baseFrequency="0.018 0.95" numOctaves="2" seed="166"/><feColorMatrix type="matrix" values="2.6 0 0 0 -1.6 2.6 0 0 0 -1.6 2.6 0 0 0 -1.6 0 0 0 0 1" result="L1"/><feComposite in="L0" in2="L1" operator="arithmetic" k1="0" k2="1" k3="1" k4="0" result="S1"/><feComponentTransfer in="S1"><feFuncR type="table" tableValues="0.988 0.937 0.855 0.737 0.620 0.502 0.416 0.329 0.247"/><feFuncG type="table" tableValues="0.984 0.929 0.855 0.741 0.604 0.490 0.318 0.153 0.000"/><feFuncB type="table" tableValues="0.992 0.961 0.922 0.863 0.784 0.729 0.639 0.561 0.490"/><feFuncA type="linear" slope="0" intercept="1"/></feComponentTransfer></filter>
<filter id="F29" x="0" y="0" width="1" height="1" color-interpolation-filters="sRGB"><feTurbulence type="fractalNoise" baseFrequency="0.05 0.9" numOctaves="2" seed="250"/><feColorMatrix type="matrix" values="1.5 0 0 0 -0.49 1.5 0 0 0 -0.49 1.5 0 0 0 -0.49 0 0 0 0 1" result="L0"/><feComponentTransfer in="L0"><feFuncR type="table" tableValues="0.988 0.937 0.855 0.737 0.620 0.502 0.416 0.329 0.247"/><feFuncG type="table" tableValues="0.984 0.929 0.855 0.741 0.604 0.490 0.318 0.153 0.000"/><feFuncB type="table" tableValues="0.992 0.961 0.922 0.863 0.784 0.729 0.639 0.561 0.490"/><feFuncA type="linear" slope="0" intercept="1"/></feComponentTransfer></filter>
<filter id="F30" x="0" y="0" width="1" height="1" color-interpolation-filters="sRGB"><feTurbulence type="fractalNoise" baseFrequency="0.18 0.7" numOctaves="2" seed="5"/><feColorMatrix type="matrix" values="0.2 0 0 0 -0.06 0.2 0 0 0 -0.06 0.2 0 0 0 -0.06 0 0 0 0 1" result="L0"/><feTurbulence type="fractalNoise" baseFrequency="0.015 0.9" numOctaves="2" seed="6"/><feColorMatrix type="matrix" values="2.6 0 0 0 -2.0 2.6 0 0 0 -2.0 2.6 0 0 0 -2.0 0 0 0 0 1" result="L1"/><feComposite in="L0" in2="L1" operator="arithmetic" k1="0" k2="1" k3="1" k4="0" result="S1"/><feComponentTransfer in="S1"><feFuncR type="table" tableValues="0.969 0.898 0.780 0.631 0.455 0.255 0.137 0.000 0.000"/><feFuncG type="table" tableValues="0.988 0.961 0.914 0.851 0.769 0.671 0.545 0.427 0.267"/><feFuncB type="table" tableValues="0.961 0.878 0.753 0.608 0.463 0.365 0.271 0.173 0.106"/><feFuncA type="linear" slope="0" intercept="1"/></feComponentTransfer></filter>
<filter id="F31" x="0" y="0" width="1" height="1" color-interpolation-filters="sRGB"><feTurbulence type="fractalNoise" baseFrequency="0.07 0.9" numOctaves="3" seed="90"/><feColorMatrix type="matrix" values="2.6 0 0 0 -1.2 2.6 0 0 0 -1.2 2.6 0 0 0 -1.2 0 0 0 0 1" result="L0"/><feComponentTransfer in="L0"><feFuncR type="table" tableValues="0.969 0.898 0.780 0.631 0.455 0.255 0.137 0.000 0.000"/><feFuncG type="table" tableValues="0.988 0.961 0.914 0.851 0.769 0.671 0.545 0.427 0.267"/><feFuncB type="table" tableValues="0.961 0.878 0.753 0.608 0.463 0.365 0.271 0.173 0.106"/><feFuncA type="linear" slope="0" intercept="1"/></feComponentTransfer></filter>
<filter id="F32" x="0" y="0" width="1" height="1" color-interpolation-filters="sRGB"><feTurbulence type="fractalNoise" baseFrequency="0.1 0.9" numOctaves="3" seed="95"/><feColorMatrix type="matrix" values="1.6 0 0 0 -0.5 1.6 0 0 0 -0.5 1.6 0 0 0 -0.5 0 0 0 0 1" result="L0"/><feComponentTransfer in="L0"><feFuncR type="table" tableValues="0.969 0.898 0.780 0.631 0.455 0.255 0.137 0.000 0.000"/><feFuncG type="table" tableValues="0.988 0.961 0.914 0.851 0.769 0.671 0.545 0.427 0.267"/><feFuncB type="table" tableValues="0.961 0.878 0.753 0.608 0.463 0.365 0.271 0.173 0.106"/><feFuncA type="linear" slope="0" intercept="1"/></feComponentTransfer></filter>
<clipPath id="c13"><rect x="22.3" y="380.2" width="71.2" height="57.4"/></clipPath>
<filter id="F33" x="0" y="0" width="1" height="1" color-interpolation-filters="sRGB"><feTurbulence type="fractalNoise" baseFrequency="0.18 0.7" numOctaves="2" seed="10"/><feColorMatrix type="matrix" values="0.2 0 0 0 -0.06 0.2 0 0 0 -0.06 0.2 0 0 0 -0.06 0 0 0 0 1" result="L0"/><feTurbulence type="fractalNoise" baseFrequency="0.015 0.9" numOctaves="2" seed="11"/><feColorMatrix type="matrix" values="2.6 0 0 0 -2.0 2.6 0 0 0 -2.0 2.6 0 0 0 -2.0 0 0 0 0 1" result="L1"/><feComposite in="L0" in2="L1" operator="arithmetic" k1="0" k2="1" k3="1" k4="0" result="S1"/><feComponentTransfer in="S1"><feFuncR type="table" tableValues="0.969 0.898 0.780 0.631 0.455 0.255 0.137 0.000 0.000"/><feFuncG type="table" tableValues="0.988 0.961 0.914 0.851 0.769 0.671 0.545 0.427 0.267"/><feFuncB type="table" tableValues="0.961 0.878 0.753 0.608 0.463 0.365 0.271 0.173 0.106"/><feFuncA type="linear" slope="0" intercept="1"/></feComponentTransfer></filter>
<filter id="F34" x="0" y="0" width="1" height="1" color-interpolation-filters="sRGB"><feTurbulence type="fractalNoise" baseFrequency="0.08 0.9" numOctaves="3" seed="95"/><feColorMatrix type="matrix" values="2.4 0 0 0 -1.25 2.4 0 0 0 -1.25 2.4 0 0 0 -1.25 0 0 0 0 1" result="L0"/><feComponentTransfer in="L0"><feFuncR type="table" tableValues="0.969 0.898 0.780 0.631 0.455 0.255 0.137 0.000 0.000"/><feFuncG type="table" tableValues="0.988 0.961 0.914 0.851 0.769 0.671 0.545 0.427 0.267"/><feFuncB type="table" tableValues="0.961 0.878 0.753 0.608 0.463 0.365 0.271 0.173 0.106"/><feFuncA type="linear" slope="0" intercept="1"/></feComponentTransfer></filter>
<clipPath id="c14"><rect x="22.3" y="439.6" width="71.2" height="13.6"/></clipPath>
<filter id="F35" x="0" y="0" width="1" height="1" color-interpolation-filters="sRGB"><feTurbulence type="fractalNoise" baseFrequency="0.18 0.7" numOctaves="2" seed="15"/><feColorMatrix type="matrix" values="0.2 0 0 0 -0.06 0.2 0 0 0 -0.06 0.2 0 0 0 -0.06 0 0 0 0 1" result="L0"/><feTurbulence type="fractalNoise" baseFrequency="0.015 0.9" numOctaves="2" seed="16"/><feColorMatrix type="matrix" values="2.6 0 0 0 -2.0 2.6 0 0 0 -2.0 2.6 0 0 0 -2.0 0 0 0 0 1" result="L1"/><feComposite in="L0" in2="L1" operator="arithmetic" k1="0" k2="1" k3="1" k4="0" result="S1"/><feComponentTransfer in="S1"><feFuncR type="table" tableValues="0.969 0.898 0.780 0.631 0.455 0.255 0.137 0.000 0.000"/><feFuncG type="table" tableValues="0.988 0.961 0.914 0.851 0.769 0.671 0.545 0.427 0.267"/><feFuncB type="table" tableValues="0.961 0.878 0.753 0.608 0.463 0.365 0.271 0.173 0.106"/><feFuncA type="linear" slope="0" intercept="1"/></feComponentTransfer></filter>
<filter id="F36" x="0" y="0" width="1" height="1" color-interpolation-filters="sRGB"><feTurbulence type="fractalNoise" baseFrequency="0.08 0.9" numOctaves="3" seed="100"/><feColorMatrix type="matrix" values="2.6 0 0 0 -1.24 2.6 0 0 0 -1.24 2.6 0 0 0 -1.24 0 0 0 0 1" result="L0"/><feComponentTransfer in="L0"><feFuncR type="table" tableValues="0.969 0.898 0.780 0.631 0.455 0.255 0.137 0.000 0.000"/><feFuncG type="table" tableValues="0.988 0.961 0.914 0.851 0.769 0.671 0.545 0.427 0.267"/><feFuncB type="table" tableValues="0.961 0.878 0.753 0.608 0.463 0.365 0.271 0.173 0.106"/><feFuncA type="linear" slope="0" intercept="1"/></feComponentTransfer></filter>
<filter id="F37" x="0" y="0" width="1" height="1" color-interpolation-filters="sRGB"><feTurbulence type="fractalNoise" baseFrequency="0.1 0.9" numOctaves="3" seed="105"/><feColorMatrix type="matrix" values="1.6 0 0 0 -0.52 1.6 0 0 0 -0.52 1.6 0 0 0 -0.52 0 0 0 0 1" result="L0"/><feComponentTransfer in="L0"><feFuncR type="table" tableValues="0.969 0.898 0.780 0.631 0.455 0.255 0.137 0.000 0.000"/><feFuncG type="table" tableValues="0.988 0.961 0.914 0.851 0.769 0.671 0.545 0.427 0.267"/><feFuncB type="table" tableValues="0.961 0.878 0.753 0.608 0.463 0.365 0.271 0.173 0.106"/><feFuncA type="linear" slope="0" intercept="1"/></feComponentTransfer></filter>
<clipPath id="c15"><rect x="22.3" y="455.2" width="71.2" height="82.6"/></clipPath>
<filter id="F38" x="0" y="0" width="1" height="1" color-interpolation-filters="sRGB"><feTurbulence type="fractalNoise" baseFrequency="0.18 0.7" numOctaves="2" seed="55"/><feColorMatrix type="matrix" values="0.2 0 0 0 -0.06 0.2 0 0 0 -0.06 0.2 0 0 0 -0.06 0 0 0 0 1" result="L0"/><feTurbulence type="fractalNoise" baseFrequency="0.015 0.9" numOctaves="2" seed="56"/><feColorMatrix type="matrix" values="2.6 0 0 0 -2.0 2.6 0 0 0 -2.0 2.6 0 0 0 -2.0 0 0 0 0 1" result="L1"/><feComposite in="L0" in2="L1" operator="arithmetic" k1="0" k2="1" k3="1" k4="0" result="S1"/><feComponentTransfer in="S1"><feFuncR type="table" tableValues="1.000 0.996 0.992 0.992 0.992 0.945 0.851 0.651 0.498"/><feFuncG type="table" tableValues="0.961 0.902 0.816 0.682 0.553 0.412 0.282 0.212 0.153"/><feFuncB type="table" tableValues="0.922 0.808 0.635 0.420 0.235 0.075 0.004 0.012 0.016"/><feFuncA type="linear" slope="0" intercept="1"/></feComponentTransfer></filter>
<filter id="F39" x="0" y="0" width="1" height="1" color-interpolation-filters="sRGB"><feTurbulence type="fractalNoise" baseFrequency="0.07 0.9" numOctaves="3" seed="140"/><feColorMatrix type="matrix" values="2.6 0 0 0 -1.2 2.6 0 0 0 -1.2 2.6 0 0 0 -1.2 0 0 0 0 1" result="L0"/><feComponentTransfer in="L0"><feFuncR type="table" tableValues="1.000 0.996 0.992 0.992 0.992 0.945 0.851 0.651 0.498"/><feFuncG type="table" tableValues="0.961 0.902 0.816 0.682 0.553 0.412 0.282 0.212 0.153"/><feFuncB type="table" tableValues="0.922 0.808 0.635 0.420 0.235 0.075 0.004 0.012 0.016"/><feFuncA type="linear" slope="0" intercept="1"/></feComponentTransfer></filter>
<filter id="F40" x="0" y="0" width="1" height="1" color-interpolation-filters="sRGB"><feTurbulence type="fractalNoise" baseFrequency="0.1 0.9" numOctaves="3" seed="145"/><feColorMatrix type="matrix" values="1.6 0 0 0 -0.5 1.6 0 0 0 -0.5 1.6 0 0 0 -0.5 0 0 0 0 1" result="L0"/><feComponentTransfer in="L0"><feFuncR type="table" tableValues="1.000 0.996 0.992 0.992 0.992 0.945 0.851 0.651 0.498"/><feFuncG type="table" tableValues="0.961 0.902 0.816 0.682 0.553 0.412 0.282 0.212 0.153"/><feFuncB type="table" tableValues="0.922 0.808 0.635 0.420 0.235 0.075 0.004 0.012 0.016"/><feFuncA type="linear" slope="0" intercept="1"/></feComponentTransfer></filter>
<clipPath id="c16"><rect x="104.7" y="380.2" width="71.2" height="57.4"/></clipPath>
<filter id="F41" x="0" y="0" width="1" height="1" color-interpolation-filters="sRGB"><feTurbulence type="fractalNoise" baseFrequency="0.18 0.7" numOctaves="2" seed="60"/><feColorMatrix type="matrix" values="0.2 0 0 0 -0.06 0.2 0 0 0 -0.06 0.2 0 0 0 -0.06 0 0 0 0 1" result="L0"/><feTurbulence type="fractalNoise" baseFrequency="0.015 0.9" numOctaves="2" seed="61"/><feColorMatrix type="matrix" values="2.6 0 0 0 -2.0 2.6 0 0 0 -2.0 2.6 0 0 0 -2.0 0 0 0 0 1" result="L1"/><feComposite in="L0" in2="L1" operator="arithmetic" k1="0" k2="1" k3="1" k4="0" result="S1"/><feComponentTransfer in="S1"><feFuncR type="table" tableValues="1.000 0.996 0.992 0.992 0.992 0.945 0.851 0.651 0.498"/><feFuncG type="table" tableValues="0.961 0.902 0.816 0.682 0.553 0.412 0.282 0.212 0.153"/><feFuncB type="table" tableValues="0.922 0.808 0.635 0.420 0.235 0.075 0.004 0.012 0.016"/><feFuncA type="linear" slope="0" intercept="1"/></feComponentTransfer></filter>
<filter id="F42" x="0" y="0" width="1" height="1" color-interpolation-filters="sRGB"><feTurbulence type="fractalNoise" baseFrequency="0.08 0.9" numOctaves="3" seed="145"/><feColorMatrix type="matrix" values="2.4 0 0 0 -1.25 2.4 0 0 0 -1.25 2.4 0 0 0 -1.25 0 0 0 0 1" result="L0"/><feComponentTransfer in="L0"><feFuncR type="table" tableValues="1.000 0.996 0.992 0.992 0.992 0.945 0.851 0.651 0.498"/><feFuncG type="table" tableValues="0.961 0.902 0.816 0.682 0.553 0.412 0.282 0.212 0.153"/><feFuncB type="table" tableValues="0.922 0.808 0.635 0.420 0.235 0.075 0.004 0.012 0.016"/><feFuncA type="linear" slope="0" intercept="1"/></feComponentTransfer></filter>
<clipPath id="c17"><rect x="104.7" y="439.6" width="71.2" height="13.6"/></clipPath>
<filter id="F43" x="0" y="0" width="1" height="1" color-interpolation-filters="sRGB"><feTurbulence type="fractalNoise" baseFrequency="0.18 0.7" numOctaves="2" seed="65"/><feColorMatrix type="matrix" values="0.2 0 0 0 -0.06 0.2 0 0 0 -0.06 0.2 0 0 0 -0.06 0 0 0 0 1" result="L0"/><feTurbulence type="fractalNoise" baseFrequency="0.015 0.9" numOctaves="2" seed="66"/><feColorMatrix type="matrix" values="2.6 0 0 0 -2.0 2.6 0 0 0 -2.0 2.6 0 0 0 -2.0 0 0 0 0 1" result="L1"/><feComposite in="L0" in2="L1" operator="arithmetic" k1="0" k2="1" k3="1" k4="0" result="S1"/><feComponentTransfer in="S1"><feFuncR type="table" tableValues="1.000 0.996 0.992 0.992 0.992 0.945 0.851 0.651 0.498"/><feFuncG type="table" tableValues="0.961 0.902 0.816 0.682 0.553 0.412 0.282 0.212 0.153"/><feFuncB type="table" tableValues="0.922 0.808 0.635 0.420 0.235 0.075 0.004 0.012 0.016"/><feFuncA type="linear" slope="0" intercept="1"/></feComponentTransfer></filter>
<filter id="F44" x="0" y="0" width="1" height="1" color-interpolation-filters="sRGB"><feTurbulence type="fractalNoise" baseFrequency="0.08 0.9" numOctaves="3" seed="150"/><feColorMatrix type="matrix" values="2.6 0 0 0 -1.24 2.6 0 0 0 -1.24 2.6 0 0 0 -1.24 0 0 0 0 1" result="L0"/><feComponentTransfer in="L0"><feFuncR type="table" tableValues="1.000 0.996 0.992 0.992 0.992 0.945 0.851 0.651 0.498"/><feFuncG type="table" tableValues="0.961 0.902 0.816 0.682 0.553 0.412 0.282 0.212 0.153"/><feFuncB type="table" tableValues="0.922 0.808 0.635 0.420 0.235 0.075 0.004 0.012 0.016"/><feFuncA type="linear" slope="0" intercept="1"/></feComponentTransfer></filter>
<filter id="F45" x="0" y="0" width="1" height="1" color-interpolation-filters="sRGB"><feTurbulence type="fractalNoise" baseFrequency="0.1 0.9" numOctaves="3" seed="155"/><feColorMatrix type="matrix" values="1.6 0 0 0 -0.52 1.6 0 0 0 -0.52 1.6 0 0 0 -0.52 0 0 0 0 1" result="L0"/><feComponentTransfer in="L0"><feFuncR type="table" tableValues="1.000 0.996 0.992 0.992 0.992 0.945 0.851 0.651 0.498"/><feFuncG type="table" tableValues="0.961 0.902 0.816 0.682 0.553 0.412 0.282 0.212 0.153"/><feFuncB type="table" tableValues="0.922 0.808 0.635 0.420 0.235 0.075 0.004 0.012 0.016"/><feFuncA type="linear" slope="0" intercept="1"/></feComponentTransfer></filter>
<clipPath id="c18"><rect x="104.7" y="455.2" width="71.2" height="82.6"/></clipPath>
<filter id="F46" x="0" y="0" width="1" height="1" color-interpolation-filters="sRGB"><feTurbulence type="fractalNoise" baseFrequency="0.18 0.7" numOctaves="2" seed="105"/><feColorMatrix type="matrix" values="0.2 0 0 0 -0.06 0.2 0 0 0 -0.06 0.2 0 0 0 -0.06 0 0 0 0 1" result="L0"/><feTurbulence type="fractalNoise" baseFrequency="0.015 0.9" numOctaves="2" seed="106"/><feColorMatrix type="matrix" values="2.6 0 0 0 -2.0 2.6 0 0 0 -2.0 2.6 0 0 0 -2.0 0 0 0 0 1" result="L1"/><feComposite in="L0" in2="L1" operator="arithmetic" k1="0" k2="1" k3="1" k4="0" result="S1"/><feComponentTransfer in="S1"><feFuncR type="table" tableValues="1.000 0.996 0.988 0.988 0.984 0.937 0.796 0.647 0.404"/><feFuncG type="table" tableValues="0.961 0.878 0.733 0.573 0.416 0.231 0.094 0.059 0.000"/><feFuncB type="table" tableValues="0.941 0.824 0.631 0.447 0.290 0.173 0.114 0.082 0.051"/><feFuncA type="linear" slope="0" intercept="1"/></feComponentTransfer></filter>
<filter id="F47" x="0" y="0" width="1" height="1" color-interpolation-filters="sRGB"><feTurbulence type="fractalNoise" baseFrequency="0.07 0.9" numOctaves="3" seed="190"/><feColorMatrix type="matrix" values="2.6 0 0 0 -1.2 2.6 0 0 0 -1.2 2.6 0 0 0 -1.2 0 0 0 0 1" result="L0"/><feComponentTransfer in="L0"><feFuncR type="table" tableValues="1.000 0.996 0.988 0.988 0.984 0.937 0.796 0.647 0.404"/><feFuncG type="table" tableValues="0.961 0.878 0.733 0.573 0.416 0.231 0.094 0.059 0.000"/><feFuncB type="table" tableValues="0.941 0.824 0.631 0.447 0.290 0.173 0.114 0.082 0.051"/><feFuncA type="linear" slope="0" intercept="1"/></feComponentTransfer></filter>
<filter id="F48" x="0" y="0" width="1" height="1" color-interpolation-filters="sRGB"><feTurbulence type="fractalNoise" baseFrequency="0.1 0.9" numOctaves="3" seed="195"/><feColorMatrix type="matrix" values="1.6 0 0 0 -0.5 1.6 0 0 0 -0.5 1.6 0 0 0 -0.5 0 0 0 0 1" result="L0"/><feComponentTransfer in="L0"><feFuncR type="table" tableValues="1.000 0.996 0.988 0.988 0.984 0.937 0.796 0.647 0.404"/><feFuncG type="table" tableValues="0.961 0.878 0.733 0.573 0.416 0.231 0.094 0.059 0.000"/><feFuncB type="table" tableValues="0.941 0.824 0.631 0.447 0.290 0.173 0.114 0.082 0.051"/><feFuncA type="linear" slope="0" intercept="1"/></feComponentTransfer></filter>
<clipPath id="c19"><rect x="187.1" y="380.2" width="71.2" height="57.4"/></clipPath>
<filter id="F49" x="0" y="0" width="1" height="1" color-interpolation-filters="sRGB"><feTurbulence type="fractalNoise" baseFrequency="0.18 0.7" numOctaves="2" seed="110"/><feColorMatrix type="matrix" values="0.2 0 0 0 -0.06 0.2 0 0 0 -0.06 0.2 0 0 0 -0.06 0 0 0 0 1" result="L0"/><feTurbulence type="fractalNoise" baseFrequency="0.015 0.9" numOctaves="2" seed="111"/><feColorMatrix type="matrix" values="2.6 0 0 0 -2.0 2.6 0 0 0 -2.0 2.6 0 0 0 -2.0 0 0 0 0 1" result="L1"/><feComposite in="L0" in2="L1" operator="arithmetic" k1="0" k2="1" k3="1" k4="0" result="S1"/><feComponentTransfer in="S1"><feFuncR type="table" tableValues="1.000 0.996 0.988 0.988 0.984 0.937 0.796 0.647 0.404"/><feFuncG type="table" tableValues="0.961 0.878 0.733 0.573 0.416 0.231 0.094 0.059 0.000"/><feFuncB type="table" tableValues="0.941 0.824 0.631 0.447 0.290 0.173 0.114 0.082 0.051"/><feFuncA type="linear" slope="0" intercept="1"/></feComponentTransfer></filter>
<filter id="F50" x="0" y="0" width="1" height="1" color-interpolation-filters="sRGB"><feTurbulence type="fractalNoise" baseFrequency="0.08 0.9" numOctaves="3" seed="195"/><feColorMatrix type="matrix" values="2.4 0 0 0 -1.3 2.4 0 0 0 -1.3 2.4 0 0 0 -1.3 0 0 0 0 1" result="L0"/><feComponentTransfer in="L0"><feFuncR type="table" tableValues="1.000 0.996 0.988 0.988 0.984 0.937 0.796 0.647 0.404"/><feFuncG type="table" tableValues="0.961 0.878 0.733 0.573 0.416 0.231 0.094 0.059 0.000"/><feFuncB type="table" tableValues="0.941 0.824 0.631 0.447 0.290 0.173 0.114 0.082 0.051"/><feFuncA type="linear" slope="0" intercept="1"/></feComponentTransfer></filter>
<clipPath id="c20"><rect x="187.1" y="439.6" width="71.2" height="13.6"/></clipPath>
<filter id="F51" x="0" y="0" width="1" height="1" color-interpolation-filters="sRGB"><feTurbulence type="fractalNoise" baseFrequency="0.18 0.7" numOctaves="2" seed="115"/><feColorMatrix type="matrix" values="0.2 0 0 0 -0.06 0.2 0 0 0 -0.06 0.2 0 0 0 -0.06 0 0 0 0 1" result="L0"/><feTurbulence type="fractalNoise" baseFrequency="0.015 0.9" numOctaves="2" seed="116"/><feColorMatrix type="matrix" values="2.6 0 0 0 -2.0 2.6 0 0 0 -2.0 2.6 0 0 0 -2.0 0 0 0 0 1" result="L1"/><feComposite in="L0" in2="L1" operator="arithmetic" k1="0" k2="1" k3="1" k4="0" result="S1"/><feComponentTransfer in="S1"><feFuncR type="table" tableValues="1.000 0.996 0.988 0.988 0.984 0.937 0.796 0.647 0.404"/><feFuncG type="table" tableValues="0.961 0.878 0.733 0.573 0.416 0.231 0.094 0.059 0.000"/><feFuncB type="table" tableValues="0.941 0.824 0.631 0.447 0.290 0.173 0.114 0.082 0.051"/><feFuncA type="linear" slope="0" intercept="1"/></feComponentTransfer></filter>
<filter id="F52" x="0" y="0" width="1" height="1" color-interpolation-filters="sRGB"><feTurbulence type="fractalNoise" baseFrequency="0.08 0.9" numOctaves="3" seed="200"/><feColorMatrix type="matrix" values="2.6 0 0 0 -1.24 2.6 0 0 0 -1.24 2.6 0 0 0 -1.24 0 0 0 0 1" result="L0"/><feComponentTransfer in="L0"><feFuncR type="table" tableValues="1.000 0.996 0.988 0.988 0.984 0.937 0.796 0.647 0.404"/><feFuncG type="table" tableValues="0.961 0.878 0.733 0.573 0.416 0.231 0.094 0.059 0.000"/><feFuncB type="table" tableValues="0.941 0.824 0.631 0.447 0.290 0.173 0.114 0.082 0.051"/><feFuncA type="linear" slope="0" intercept="1"/></feComponentTransfer></filter>
<filter id="F53" x="0" y="0" width="1" height="1" color-interpolation-filters="sRGB"><feTurbulence type="fractalNoise" baseFrequency="0.1 0.9" numOctaves="3" seed="205"/><feColorMatrix type="matrix" values="1.6 0 0 0 -0.52 1.6 0 0 0 -0.52 1.6 0 0 0 -0.52 0 0 0 0 1" result="L0"/><feComponentTransfer in="L0"><feFuncR type="table" tableValues="1.000 0.996 0.988 0.988 0.984 0.937 0.796 0.647 0.404"/><feFuncG type="table" tableValues="0.961 0.878 0.733 0.573 0.416 0.231 0.094 0.059 0.000"/><feFuncB type="table" tableValues="0.941 0.824 0.631 0.447 0.290 0.173 0.114 0.082 0.051"/><feFuncA type="linear" slope="0" intercept="1"/></feComponentTransfer></filter>
<clipPath id="c21"><rect x="187.1" y="455.2" width="71.2" height="82.6"/></clipPath>
<filter id="F54" x="0" y="0" width="1" height="1" color-interpolation-filters="sRGB"><feTurbulence type="fractalNoise" baseFrequency="0.18 0.7" numOctaves="2" seed="155"/><feColorMatrix type="matrix" values="0.2 0 0 0 -0.06 0.2 0 0 0 -0.06 0.2 0 0 0 -0.06 0 0 0 0 1" result="L0"/><feTurbulence type="fractalNoise" baseFrequency="0.015 0.9" numOctaves="2" seed="156"/><feColorMatrix type="matrix" values="2.6 0 0 0 -2.0 2.6 0 0 0 -2.0 2.6 0 0 0 -2.0 0 0 0 0 1" result="L1"/><feComposite in="L0" in2="L1" operator="arithmetic" k1="0" k2="1" k3="1" k4="0" result="S1"/><feComponentTransfer in="S1"><feFuncR type="table" tableValues="0.988 0.937 0.855 0.737 0.620 0.502 0.416 0.329 0.247"/><feFuncG type="table" tableValues="0.984 0.929 0.855 0.741 0.604 0.490 0.318 0.153 0.000"/><feFuncB type="table" tableValues="0.992 0.961 0.922 0.863 0.784 0.729 0.639 0.561 0.490"/><feFuncA type="linear" slope="0" intercept="1"/></feComponentTransfer></filter>
<filter id="F55" x="0" y="0" width="1" height="1" color-interpolation-filters="sRGB"><feTurbulence type="fractalNoise" baseFrequency="0.07 0.9" numOctaves="3" seed="240"/><feColorMatrix type="matrix" values="2.6 0 0 0 -1.2 2.6 0 0 0 -1.2 2.6 0 0 0 -1.2 0 0 0 0 1" result="L0"/><feComponentTransfer in="L0"><feFuncR type="table" tableValues="0.988 0.937 0.855 0.737 0.620 0.502 0.416 0.329 0.247"/><feFuncG type="table" tableValues="0.984 0.929 0.855 0.741 0.604 0.490 0.318 0.153 0.000"/><feFuncB type="table" tableValues="0.992 0.961 0.922 0.863 0.784 0.729 0.639 0.561 0.490"/><feFuncA type="linear" slope="0" intercept="1"/></feComponentTransfer></filter>
<filter id="F56" x="0" y="0" width="1" height="1" color-interpolation-filters="sRGB"><feTurbulence type="fractalNoise" baseFrequency="0.1 0.9" numOctaves="3" seed="245"/><feColorMatrix type="matrix" values="1.6 0 0 0 -0.5 1.6 0 0 0 -0.5 1.6 0 0 0 -0.5 0 0 0 0 1" result="L0"/><feComponentTransfer in="L0"><feFuncR type="table" tableValues="0.988 0.937 0.855 0.737 0.620 0.502 0.416 0.329 0.247"/><feFuncG type="table" tableValues="0.984 0.929 0.855 0.741 0.604 0.490 0.318 0.153 0.000"/><feFuncB type="table" tableValues="0.992 0.961 0.922 0.863 0.784 0.729 0.639 0.561 0.490"/><feFuncA type="linear" slope="0" intercept="1"/></feComponentTransfer></filter>
<clipPath id="c22"><rect x="270.4" y="380.2" width="71.2" height="57.4"/></clipPath>
<filter id="F57" x="0" y="0" width="1" height="1" color-interpolation-filters="sRGB"><feTurbulence type="fractalNoise" baseFrequency="0.18 0.7" numOctaves="2" seed="160"/><feColorMatrix type="matrix" values="0.2 0 0 0 -0.06 0.2 0 0 0 -0.06 0.2 0 0 0 -0.06 0 0 0 0 1" result="L0"/><feTurbulence type="fractalNoise" baseFrequency="0.015 0.9" numOctaves="2" seed="161"/><feColorMatrix type="matrix" values="2.6 0 0 0 -2.0 2.6 0 0 0 -2.0 2.6 0 0 0 -2.0 0 0 0 0 1" result="L1"/><feComposite in="L0" in2="L1" operator="arithmetic" k1="0" k2="1" k3="1" k4="0" result="S1"/><feComponentTransfer in="S1"><feFuncR type="table" tableValues="0.988 0.937 0.855 0.737 0.620 0.502 0.416 0.329 0.247"/><feFuncG type="table" tableValues="0.984 0.929 0.855 0.741 0.604 0.490 0.318 0.153 0.000"/><feFuncB type="table" tableValues="0.992 0.961 0.922 0.863 0.784 0.729 0.639 0.561 0.490"/><feFuncA type="linear" slope="0" intercept="1"/></feComponentTransfer></filter>
<filter id="F58" x="0" y="0" width="1" height="1" color-interpolation-filters="sRGB"><feTurbulence type="fractalNoise" baseFrequency="0.08 0.9" numOctaves="3" seed="245"/><feColorMatrix type="matrix" values="2.4 0 0 0 -1.25 2.4 0 0 0 -1.25 2.4 0 0 0 -1.25 0 0 0 0 1" result="L0"/><feComponentTransfer in="L0"><feFuncR type="table" tableValues="0.988 0.937 0.855 0.737 0.620 0.502 0.416 0.329 0.247"/><feFuncG type="table" tableValues="0.984 0.929 0.855 0.741 0.604 0.490 0.318 0.153 0.000"/><feFuncB type="table" tableValues="0.992 0.961 0.922 0.863 0.784 0.729 0.639 0.561 0.490"/><feFuncA type="linear" slope="0" intercept="1"/></feComponentTransfer></filter>
<clipPath id="c23"><rect x="270.4" y="439.6" width="71.2" height="13.6"/></clipPath>
<filter id="F59" x="0" y="0" width="1" height="1" color-interpolation-filters="sRGB"><feTurbulence type="fractalNoise" baseFrequency="0.18 0.7" numOctaves="2" seed="165"/><feColorMatrix type="matrix" values="0.2 0 0 0 -0.06 0.2 0 0 0 -0.06 0.2 0 0 0 -0.06 0 0 0 0 1" result="L0"/><feTurbulence type="fractalNoise" baseFrequency="0.015 0.9" numOctaves="2" seed="166"/><feColorMatrix type="matrix" values="2.6 0 0 0 -2.0 2.6 0 0 0 -2.0 2.6 0 0 0 -2.0 0 0 0 0 1" result="L1"/><feComposite in="L0" in2="L1" operator="arithmetic" k1="0" k2="1" k3="1" k4="0" result="S1"/><feComponentTransfer in="S1"><feFuncR type="table" tableValues="0.988 0.937 0.855 0.737 0.620 0.502 0.416 0.329 0.247"/><feFuncG type="table" tableValues="0.984 0.929 0.855 0.741 0.604 0.490 0.318 0.153 0.000"/><feFuncB type="table" tableValues="0.992 0.961 0.922 0.863 0.784 0.729 0.639 0.561 0.490"/><feFuncA type="linear" slope="0" intercept="1"/></feComponentTransfer></filter>
<filter id="F60" x="0" y="0" width="1" height="1" color-interpolation-filters="sRGB"><feTurbulence type="fractalNoise" baseFrequency="0.08 0.9" numOctaves="3" seed="250"/><feColorMatrix type="matrix" values="2.6 0 0 0 -1.24 2.6 0 0 0 -1.24 2.6 0 0 0 -1.24 0 0 0 0 1" result="L0"/><feComponentTransfer in="L0"><feFuncR type="table" tableValues="0.988 0.937 0.855 0.737 0.620 0.502 0.416 0.329 0.247"/><feFuncG type="table" tableValues="0.984 0.929 0.855 0.741 0.604 0.490 0.318 0.153 0.000"/><feFuncB type="table" tableValues="0.992 0.961 0.922 0.863 0.784 0.729 0.639 0.561 0.490"/><feFuncA type="linear" slope="0" intercept="1"/></feComponentTransfer></filter>
<filter id="F61" x="0" y="0" width="1" height="1" color-interpolation-filters="sRGB"><feTurbulence type="fractalNoise" baseFrequency="0.1 0.9" numOctaves="3" seed="255"/><feColorMatrix type="matrix" values="1.6 0 0 0 -0.52 1.6 0 0 0 -0.52 1.6 0 0 0 -0.52 0 0 0 0 1" result="L0"/><feComponentTransfer in="L0"><feFuncR type="table" tableValues="0.988 0.937 0.855 0.737 0.620 0.502 0.416 0.329 0.247"/><feFuncG type="table" tableValues="0.984 0.929 0.855 0.741 0.604 0.490 0.318 0.153 0.000"/><feFuncB type="table" tableValues="0.992 0.961 0.922 0.863 0.784 0.729 0.639 0.561 0.490"/><feFuncA type="linear" slope="0" intercept="1"/></feComponentTransfer></filter>
<clipPath id="c24"><rect x="270.4" y="455.2" width="71.2" height="82.6"/></clipPath>
<filter id="F62" x="0" y="0" width="1" height="1" color-interpolation-filters="sRGB"><feTurbulence type="fractalNoise" baseFrequency="0.18 0.7" numOctaves="2" seed="5"/><feColorMatrix type="matrix" values="0.2 0 0 0 -0.06 0.2 0 0 0 -0.06 0.2 0 0 0 -0.06 0 0 0 0 1" result="L0"/><feTurbulence type="fractalNoise" baseFrequency="0.015 0.9" numOctaves="2" seed="6"/><feColorMatrix type="matrix" values="2.6 0 0 0 -1.85 2.6 0 0 0 -1.85 2.6 0 0 0 -1.85 0 0 0 0 1" result="L1"/><feComposite in="L0" in2="L1" operator="arithmetic" k1="0" k2="1" k3="1" k4="0" result="S1"/><feComponentTransfer in="S1"><feFuncR type="table" tableValues="0.969 0.898 0.780 0.631 0.455 0.255 0.137 0.000 0.000"/><feFuncG type="table" tableValues="0.988 0.961 0.914 0.851 0.769 0.671 0.545 0.427 0.267"/><feFuncB type="table" tableValues="0.961 0.878 0.753 0.608 0.463 0.365 0.271 0.173 0.106"/><feFuncA type="linear" slope="0" intercept="1"/></feComponentTransfer></filter>
<filter id="F63" x="0" y="0" width="1" height="1" color-interpolation-filters="sRGB"><feTurbulence type="fractalNoise" baseFrequency="0.035 0.9" numOctaves="3" seed="90"/><feColorMatrix type="matrix" values="3.4 0 0 0 -1.44 3.4 0 0 0 -1.44 3.4 0 0 0 -1.44 0 0 0 0 1" result="L0"/><feComponentTransfer in="L0"><feFuncR type="table" tableValues="0.969 0.898 0.780 0.631 0.455 0.255 0.137 0.000 0.000"/><feFuncG type="table" tableValues="0.988 0.961 0.914 0.851 0.769 0.671 0.545 0.427 0.267"/><feFuncB type="table" tableValues="0.961 0.878 0.753 0.608 0.463 0.365 0.271 0.173 0.106"/><feFuncA type="linear" slope="0" intercept="1"/></feComponentTransfer></filter>
<clipPath id="c25"><rect x="362.5" y="380.2" width="71.2" height="57.4"/></clipPath>
<filter id="F64" x="0" y="0" width="1" height="1" color-interpolation-filters="sRGB"><feTurbulence type="fractalNoise" baseFrequency="0.18 0.7" numOctaves="2" seed="10"/><feColorMatrix type="matrix" values="0.2 0 0 0 -0.06 0.2 0 0 0 -0.06 0.2 0 0 0 -0.06 0 0 0 0 1" result="L0"/><feTurbulence type="fractalNoise" baseFrequency="0.015 0.9" numOctaves="2" seed="11"/><feColorMatrix type="matrix" values="2.6 0 0 0 -1.85 2.6 0 0 0 -1.85 2.6 0 0 0 -1.85 0 0 0 0 1" result="L1"/><feComposite in="L0" in2="L1" operator="arithmetic" k1="0" k2="1" k3="1" k4="0" result="S1"/><feComponentTransfer in="S1"><feFuncR type="table" tableValues="0.969 0.898 0.780 0.631 0.455 0.255 0.137 0.000 0.000"/><feFuncG type="table" tableValues="0.988 0.961 0.914 0.851 0.769 0.671 0.545 0.427 0.267"/><feFuncB type="table" tableValues="0.961 0.878 0.753 0.608 0.463 0.365 0.271 0.173 0.106"/><feFuncA type="linear" slope="0" intercept="1"/></feComponentTransfer></filter>
<filter id="F65" x="0" y="0" width="1" height="1" color-interpolation-filters="sRGB"><feTurbulence type="fractalNoise" baseFrequency="0.035 0.9" numOctaves="3" seed="95"/><feColorMatrix type="matrix" values="3.0 0 0 0 -1.5 3.0 0 0 0 -1.5 3.0 0 0 0 -1.5 0 0 0 0 1" result="L0"/><feComponentTransfer in="L0"><feFuncR type="table" tableValues="0.969 0.898 0.780 0.631 0.455 0.255 0.137 0.000 0.000"/><feFuncG type="table" tableValues="0.988 0.961 0.914 0.851 0.769 0.671 0.545 0.427 0.267"/><feFuncB type="table" tableValues="0.961 0.878 0.753 0.608 0.463 0.365 0.271 0.173 0.106"/><feFuncA type="linear" slope="0" intercept="1"/></feComponentTransfer></filter>
<clipPath id="c26"><rect x="362.5" y="439.6" width="71.2" height="13.6"/></clipPath>
<filter id="F66" x="0" y="0" width="1" height="1" color-interpolation-filters="sRGB"><feTurbulence type="fractalNoise" baseFrequency="0.18 0.7" numOctaves="2" seed="15"/><feColorMatrix type="matrix" values="0.2 0 0 0 -0.06 0.2 0 0 0 -0.06 0.2 0 0 0 -0.06 0 0 0 0 1" result="L0"/><feTurbulence type="fractalNoise" baseFrequency="0.015 0.9" numOctaves="2" seed="16"/><feColorMatrix type="matrix" values="2.6 0 0 0 -1.85 2.6 0 0 0 -1.85 2.6 0 0 0 -1.85 0 0 0 0 1" result="L1"/><feComposite in="L0" in2="L1" operator="arithmetic" k1="0" k2="1" k3="1" k4="0" result="S1"/><feComponentTransfer in="S1"><feFuncR type="table" tableValues="0.969 0.898 0.780 0.631 0.455 0.255 0.137 0.000 0.000"/><feFuncG type="table" tableValues="0.988 0.961 0.914 0.851 0.769 0.671 0.545 0.427 0.267"/><feFuncB type="table" tableValues="0.961 0.878 0.753 0.608 0.463 0.365 0.271 0.173 0.106"/><feFuncA type="linear" slope="0" intercept="1"/></feComponentTransfer></filter>
<filter id="F67" x="0" y="0" width="1" height="1" color-interpolation-filters="sRGB"><feTurbulence type="fractalNoise" baseFrequency="0.035 0.9" numOctaves="3" seed="100"/><feColorMatrix type="matrix" values="3.2 0 0 0 -1.68 3.2 0 0 0 -1.68 3.2 0 0 0 -1.68 0 0 0 0 1" result="L0"/><feComponentTransfer in="L0"><feFuncR type="table" tableValues="0.969 0.898 0.780 0.631 0.455 0.255 0.137 0.000 0.000"/><feFuncG type="table" tableValues="0.988 0.961 0.914 0.851 0.769 0.671 0.545 0.427 0.267"/><feFuncB type="table" tableValues="0.961 0.878 0.753 0.608 0.463 0.365 0.271 0.173 0.106"/><feFuncA type="linear" slope="0" intercept="1"/></feComponentTransfer></filter>
<clipPath id="c27"><rect x="362.5" y="455.2" width="71.2" height="82.6"/></clipPath>
<filter id="F68" x="0" y="0" width="1" height="1" color-interpolation-filters="sRGB"><feTurbulence type="fractalNoise" baseFrequency="0.18 0.7" numOctaves="2" seed="55"/><feColorMatrix type="matrix" values="0.2 0 0 0 -0.06 0.2 0 0 0 -0.06 0.2 0 0 0 -0.06 0 0 0 0 1" result="L0"/><feTurbulence type="fractalNoise" baseFrequency="0.015 0.9" numOctaves="2" seed="56"/><feColorMatrix type="matrix" values="2.6 0 0 0 -1.85 2.6 0 0 0 -1.85 2.6 0 0 0 -1.85 0 0 0 0 1" result="L1"/><feComposite in="L0" in2="L1" operator="arithmetic" k1="0" k2="1" k3="1" k4="0" result="S1"/><feComponentTransfer in="S1"><feFuncR type="table" tableValues="1.000 0.996 0.992 0.992 0.992 0.945 0.851 0.651 0.498"/><feFuncG type="table" tableValues="0.961 0.902 0.816 0.682 0.553 0.412 0.282 0.212 0.153"/><feFuncB type="table" tableValues="0.922 0.808 0.635 0.420 0.235 0.075 0.004 0.012 0.016"/><feFuncA type="linear" slope="0" intercept="1"/></feComponentTransfer></filter>
<filter id="F69" x="0" y="0" width="1" height="1" color-interpolation-filters="sRGB"><feTurbulence type="fractalNoise" baseFrequency="0.035 0.9" numOctaves="3" seed="140"/><feColorMatrix type="matrix" values="3.4 0 0 0 -1.44 3.4 0 0 0 -1.44 3.4 0 0 0 -1.44 0 0 0 0 1" result="L0"/><feComponentTransfer in="L0"><feFuncR type="table" tableValues="1.000 0.996 0.992 0.992 0.992 0.945 0.851 0.651 0.498"/><feFuncG type="table" tableValues="0.961 0.902 0.816 0.682 0.553 0.412 0.282 0.212 0.153"/><feFuncB type="table" tableValues="0.922 0.808 0.635 0.420 0.235 0.075 0.004 0.012 0.016"/><feFuncA type="linear" slope="0" intercept="1"/></feComponentTransfer></filter>
<clipPath id="c28"><rect x="445.4" y="380.2" width="71.2" height="57.4"/></clipPath>
<filter id="F70" x="0" y="0" width="1" height="1" color-interpolation-filters="sRGB"><feTurbulence type="fractalNoise" baseFrequency="0.18 0.7" numOctaves="2" seed="60"/><feColorMatrix type="matrix" values="0.2 0 0 0 -0.06 0.2 0 0 0 -0.06 0.2 0 0 0 -0.06 0 0 0 0 1" result="L0"/><feTurbulence type="fractalNoise" baseFrequency="0.015 0.9" numOctaves="2" seed="61"/><feColorMatrix type="matrix" values="2.6 0 0 0 -1.85 2.6 0 0 0 -1.85 2.6 0 0 0 -1.85 0 0 0 0 1" result="L1"/><feComposite in="L0" in2="L1" operator="arithmetic" k1="0" k2="1" k3="1" k4="0" result="S1"/><feComponentTransfer in="S1"><feFuncR type="table" tableValues="1.000 0.996 0.992 0.992 0.992 0.945 0.851 0.651 0.498"/><feFuncG type="table" tableValues="0.961 0.902 0.816 0.682 0.553 0.412 0.282 0.212 0.153"/><feFuncB type="table" tableValues="0.922 0.808 0.635 0.420 0.235 0.075 0.004 0.012 0.016"/><feFuncA type="linear" slope="0" intercept="1"/></feComponentTransfer></filter>
<filter id="F71" x="0" y="0" width="1" height="1" color-interpolation-filters="sRGB"><feTurbulence type="fractalNoise" baseFrequency="0.035 0.9" numOctaves="3" seed="145"/><feColorMatrix type="matrix" values="3.0 0 0 0 -1.5 3.0 0 0 0 -1.5 3.0 0 0 0 -1.5 0 0 0 0 1" result="L0"/><feComponentTransfer in="L0"><feFuncR type="table" tableValues="1.000 0.996 0.992 0.992 0.992 0.945 0.851 0.651 0.498"/><feFuncG type="table" tableValues="0.961 0.902 0.816 0.682 0.553 0.412 0.282 0.212 0.153"/><feFuncB type="table" tableValues="0.922 0.808 0.635 0.420 0.235 0.075 0.004 0.012 0.016"/><feFuncA type="linear" slope="0" intercept="1"/></feComponentTransfer></filter>
<clipPath id="c29"><rect x="445.4" y="439.6" width="71.2" height="13.6"/></clipPath>
<filter id="F72" x="0" y="0" width="1" height="1" color-interpolation-filters="sRGB"><feTurbulence type="fractalNoise" baseFrequency="0.18 0.7" numOctaves="2" seed="65"/><feColorMatrix type="matrix" values="0.2 0 0 0 -0.06 0.2 0 0 0 -0.06 0.2 0 0 0 -0.06 0 0 0 0 1" result="L0"/><feTurbulence type="fractalNoise" baseFrequency="0.015 0.9" numOctaves="2" seed="66"/><feColorMatrix type="matrix" values="2.6 0 0 0 -1.85 2.6 0 0 0 -1.85 2.6 0 0 0 -1.85 0 0 0 0 1" result="L1"/><feComposite in="L0" in2="L1" operator="arithmetic" k1="0" k2="1" k3="1" k4="0" result="S1"/><feComponentTransfer in="S1"><feFuncR type="table" tableValues="1.000 0.996 0.992 0.992 0.992 0.945 0.851 0.651 0.498"/><feFuncG type="table" tableValues="0.961 0.902 0.816 0.682 0.553 0.412 0.282 0.212 0.153"/><feFuncB type="table" tableValues="0.922 0.808 0.635 0.420 0.235 0.075 0.004 0.012 0.016"/><feFuncA type="linear" slope="0" intercept="1"/></feComponentTransfer></filter>
<filter id="F73" x="0" y="0" width="1" height="1" color-interpolation-filters="sRGB"><feTurbulence type="fractalNoise" baseFrequency="0.035 0.9" numOctaves="3" seed="150"/><feColorMatrix type="matrix" values="3.2 0 0 0 -1.7 3.2 0 0 0 -1.7 3.2 0 0 0 -1.7 0 0 0 0 1" result="L0"/><feComponentTransfer in="L0"><feFuncR type="table" tableValues="1.000 0.996 0.992 0.992 0.992 0.945 0.851 0.651 0.498"/><feFuncG type="table" tableValues="0.961 0.902 0.816 0.682 0.553 0.412 0.282 0.212 0.153"/><feFuncB type="table" tableValues="0.922 0.808 0.635 0.420 0.235 0.075 0.004 0.012 0.016"/><feFuncA type="linear" slope="0" intercept="1"/></feComponentTransfer></filter>
<clipPath id="c30"><rect x="445.4" y="455.2" width="71.2" height="82.6"/></clipPath>
<filter id="F74" x="0" y="0" width="1" height="1" color-interpolation-filters="sRGB"><feTurbulence type="fractalNoise" baseFrequency="0.18 0.7" numOctaves="2" seed="105"/><feColorMatrix type="matrix" values="0.2 0 0 0 -0.05 0.2 0 0 0 -0.05 0.2 0 0 0 -0.05 0 0 0 0 1" result="L0"/><feTurbulence type="fractalNoise" baseFrequency="0.015 0.9" numOctaves="2" seed="106"/><feColorMatrix type="matrix" values="2.6 0 0 0 -1.65 2.6 0 0 0 -1.65 2.6 0 0 0 -1.65 0 0 0 0 1" result="L1"/><feComposite in="L0" in2="L1" operator="arithmetic" k1="0" k2="1" k3="1" k4="0" result="S1"/><feComponentTransfer in="S1"><feFuncR type="table" tableValues="1.000 0.996 0.988 0.988 0.984 0.937 0.796 0.647 0.404"/><feFuncG type="table" tableValues="0.961 0.878 0.733 0.573 0.416 0.231 0.094 0.059 0.000"/><feFuncB type="table" tableValues="0.941 0.824 0.631 0.447 0.290 0.173 0.114 0.082 0.051"/><feFuncA type="linear" slope="0" intercept="1"/></feComponentTransfer></filter>
<filter id="F75" x="0" y="0" width="1" height="1" color-interpolation-filters="sRGB"><feTurbulence type="fractalNoise" baseFrequency="0.035 0.9" numOctaves="3" seed="190"/><feColorMatrix type="matrix" values="3.4 0 0 0 -1.4 3.4 0 0 0 -1.4 3.4 0 0 0 -1.4 0 0 0 0 1" result="L0"/><feComponentTransfer in="L0"><feFuncR type="table" tableValues="1.000 0.996 0.988 0.988 0.984 0.937 0.796 0.647 0.404"/><feFuncG type="table" tableValues="0.961 0.878 0.733 0.573 0.416 0.231 0.094 0.059 0.000"/><feFuncB type="table" tableValues="0.941 0.824 0.631 0.447 0.290 0.173 0.114 0.082 0.051"/><feFuncA type="linear" slope="0" intercept="1"/></feComponentTransfer></filter>
<clipPath id="c31"><rect x="528.2" y="380.2" width="71.2" height="57.4"/></clipPath>
<filter id="F76" x="0" y="0" width="1" height="1" color-interpolation-filters="sRGB"><feTurbulence type="fractalNoise" baseFrequency="0.18 0.7" numOctaves="2" seed="110"/><feColorMatrix type="matrix" values="0.2 0 0 0 -0.05 0.2 0 0 0 -0.05 0.2 0 0 0 -0.05 0 0 0 0 1" result="L0"/><feTurbulence type="fractalNoise" baseFrequency="0.015 0.9" numOctaves="2" seed="111"/><feColorMatrix type="matrix" values="2.6 0 0 0 -1.65 2.6 0 0 0 -1.65 2.6 0 0 0 -1.65 0 0 0 0 1" result="L1"/><feComposite in="L0" in2="L1" operator="arithmetic" k1="0" k2="1" k3="1" k4="0" result="S1"/><feComponentTransfer in="S1"><feFuncR type="table" tableValues="1.000 0.996 0.988 0.988 0.984 0.937 0.796 0.647 0.404"/><feFuncG type="table" tableValues="0.961 0.878 0.733 0.573 0.416 0.231 0.094 0.059 0.000"/><feFuncB type="table" tableValues="0.941 0.824 0.631 0.447 0.290 0.173 0.114 0.082 0.051"/><feFuncA type="linear" slope="0" intercept="1"/></feComponentTransfer></filter>
<filter id="F77" x="0" y="0" width="1" height="1" color-interpolation-filters="sRGB"><feTurbulence type="fractalNoise" baseFrequency="0.035 0.9" numOctaves="3" seed="195"/><feColorMatrix type="matrix" values="3.0 0 0 0 -1.6 3.0 0 0 0 -1.6 3.0 0 0 0 -1.6 0 0 0 0 1" result="L0"/><feComponentTransfer in="L0"><feFuncR type="table" tableValues="1.000 0.996 0.988 0.988 0.984 0.937 0.796 0.647 0.404"/><feFuncG type="table" tableValues="0.961 0.878 0.733 0.573 0.416 0.231 0.094 0.059 0.000"/><feFuncB type="table" tableValues="0.941 0.824 0.631 0.447 0.290 0.173 0.114 0.082 0.051"/><feFuncA type="linear" slope="0" intercept="1"/></feComponentTransfer></filter>
<clipPath id="c32"><rect x="528.2" y="439.6" width="71.2" height="13.6"/></clipPath>
<filter id="F78" x="0" y="0" width="1" height="1" color-interpolation-filters="sRGB"><feTurbulence type="fractalNoise" baseFrequency="0.18 0.7" numOctaves="2" seed="115"/><feColorMatrix type="matrix" values="0.2 0 0 0 -0.05 0.2 0 0 0 -0.05 0.2 0 0 0 -0.05 0 0 0 0 1" result="L0"/><feTurbulence type="fractalNoise" baseFrequency="0.015 0.9" numOctaves="2" seed="116"/><feColorMatrix type="matrix" values="2.6 0 0 0 -1.65 2.6 0 0 0 -1.65 2.6 0 0 0 -1.65 0 0 0 0 1" result="L1"/><feComposite in="L0" in2="L1" operator="arithmetic" k1="0" k2="1" k3="1" k4="0" result="S1"/><feComponentTransfer in="S1"><feFuncR type="table" tableValues="1.000 0.996 0.988 0.988 0.984 0.937 0.796 0.647 0.404"/><feFuncG type="table" tableValues="0.961 0.878 0.733 0.573 0.416 0.231 0.094 0.059 0.000"/><feFuncB type="table" tableValues="0.941 0.824 0.631 0.447 0.290 0.173 0.114 0.082 0.051"/><feFuncA type="linear" slope="0" intercept="1"/></feComponentTransfer></filter>
<filter id="F79" x="0" y="0" width="1" height="1" color-interpolation-filters="sRGB"><feTurbulence type="fractalNoise" baseFrequency="0.035 0.9" numOctaves="3" seed="200"/><feColorMatrix type="matrix" values="3.2 0 0 0 -1.76 3.2 0 0 0 -1.76 3.2 0 0 0 -1.76 0 0 0 0 1" result="L0"/><feComponentTransfer in="L0"><feFuncR type="table" tableValues="1.000 0.996 0.988 0.988 0.984 0.937 0.796 0.647 0.404"/><feFuncG type="table" tableValues="0.961 0.878 0.733 0.573 0.416 0.231 0.094 0.059 0.000"/><feFuncB type="table" tableValues="0.941 0.824 0.631 0.447 0.290 0.173 0.114 0.082 0.051"/><feFuncA type="linear" slope="0" intercept="1"/></feComponentTransfer></filter>
<clipPath id="c33"><rect x="528.2" y="455.2" width="71.2" height="82.6"/></clipPath>
<filter id="F80" x="0" y="0" width="1" height="1" color-interpolation-filters="sRGB"><feTurbulence type="fractalNoise" baseFrequency="0.18 0.7" numOctaves="2" seed="155"/><feColorMatrix type="matrix" values="0.2 0 0 0 -0.06 0.2 0 0 0 -0.06 0.2 0 0 0 -0.06 0 0 0 0 1" result="L0"/><feTurbulence type="fractalNoise" baseFrequency="0.015 0.9" numOctaves="2" seed="156"/><feColorMatrix type="matrix" values="2.6 0 0 0 -1.85 2.6 0 0 0 -1.85 2.6 0 0 0 -1.85 0 0 0 0 1" result="L1"/><feComposite in="L0" in2="L1" operator="arithmetic" k1="0" k2="1" k3="1" k4="0" result="S1"/><feComponentTransfer in="S1"><feFuncR type="table" tableValues="0.988 0.937 0.855 0.737 0.620 0.502 0.416 0.329 0.247"/><feFuncG type="table" tableValues="0.984 0.929 0.855 0.741 0.604 0.490 0.318 0.153 0.000"/><feFuncB type="table" tableValues="0.992 0.961 0.922 0.863 0.784 0.729 0.639 0.561 0.490"/><feFuncA type="linear" slope="0" intercept="1"/></feComponentTransfer></filter>
<filter id="F81" x="0" y="0" width="1" height="1" color-interpolation-filters="sRGB"><feTurbulence type="fractalNoise" baseFrequency="0.035 0.9" numOctaves="3" seed="240"/><feColorMatrix type="matrix" values="3.4 0 0 0 -1.44 3.4 0 0 0 -1.44 3.4 0 0 0 -1.44 0 0 0 0 1" result="L0"/><feComponentTransfer in="L0"><feFuncR type="table" tableValues="0.988 0.937 0.855 0.737 0.620 0.502 0.416 0.329 0.247"/><feFuncG type="table" tableValues="0.984 0.929 0.855 0.741 0.604 0.490 0.318 0.153 0.000"/><feFuncB type="table" tableValues="0.992 0.961 0.922 0.863 0.784 0.729 0.639 0.561 0.490"/><feFuncA type="linear" slope="0" intercept="1"/></feComponentTransfer></filter>
<clipPath id="c34"><rect x="611.3" y="380.2" width="71.2" height="57.4"/></clipPath>
<filter id="F82" x="0" y="0" width="1" height="1" color-interpolation-filters="sRGB"><feTurbulence type="fractalNoise" baseFrequency="0.18 0.7" numOctaves="2" seed="160"/><feColorMatrix type="matrix" values="0.2 0 0 0 -0.06 0.2 0 0 0 -0.06 0.2 0 0 0 -0.06 0 0 0 0 1" result="L0"/><feTurbulence type="fractalNoise" baseFrequency="0.015 0.9" numOctaves="2" seed="161"/><feColorMatrix type="matrix" values="2.6 0 0 0 -1.85 2.6 0 0 0 -1.85 2.6 0 0 0 -1.85 0 0 0 0 1" result="L1"/><feComposite in="L0" in2="L1" operator="arithmetic" k1="0" k2="1" k3="1" k4="0" result="S1"/><feComponentTransfer in="S1"><feFuncR type="table" tableValues="0.988 0.937 0.855 0.737 0.620 0.502 0.416 0.329 0.247"/><feFuncG type="table" tableValues="0.984 0.929 0.855 0.741 0.604 0.490 0.318 0.153 0.000"/><feFuncB type="table" tableValues="0.992 0.961 0.922 0.863 0.784 0.729 0.639 0.561 0.490"/><feFuncA type="linear" slope="0" intercept="1"/></feComponentTransfer></filter>
<filter id="F83" x="0" y="0" width="1" height="1" color-interpolation-filters="sRGB"><feTurbulence type="fractalNoise" baseFrequency="0.035 0.9" numOctaves="3" seed="245"/><feColorMatrix type="matrix" values="3.0 0 0 0 -1.5 3.0 0 0 0 -1.5 3.0 0 0 0 -1.5 0 0 0 0 1" result="L0"/><feComponentTransfer in="L0"><feFuncR type="table" tableValues="0.988 0.937 0.855 0.737 0.620 0.502 0.416 0.329 0.247"/><feFuncG type="table" tableValues="0.984 0.929 0.855 0.741 0.604 0.490 0.318 0.153 0.000"/><feFuncB type="table" tableValues="0.992 0.961 0.922 0.863 0.784 0.729 0.639 0.561 0.490"/><feFuncA type="linear" slope="0" intercept="1"/></feComponentTransfer></filter>
<clipPath id="c35"><rect x="611.3" y="439.6" width="71.2" height="13.6"/></clipPath>
<filter id="F84" x="0" y="0" width="1" height="1" color-interpolation-filters="sRGB"><feTurbulence type="fractalNoise" baseFrequency="0.18 0.7" numOctaves="2" seed="165"/><feColorMatrix type="matrix" values="0.2 0 0 0 -0.06 0.2 0 0 0 -0.06 0.2 0 0 0 -0.06 0 0 0 0 1" result="L0"/><feTurbulence type="fractalNoise" baseFrequency="0.015 0.9" numOctaves="2" seed="166"/><feColorMatrix type="matrix" values="2.6 0 0 0 -1.85 2.6 0 0 0 -1.85 2.6 0 0 0 -1.85 0 0 0 0 1" result="L1"/><feComposite in="L0" in2="L1" operator="arithmetic" k1="0" k2="1" k3="1" k4="0" result="S1"/><feComponentTransfer in="S1"><feFuncR type="table" tableValues="0.988 0.937 0.855 0.737 0.620 0.502 0.416 0.329 0.247"/><feFuncG type="table" tableValues="0.984 0.929 0.855 0.741 0.604 0.490 0.318 0.153 0.000"/><feFuncB type="table" tableValues="0.992 0.961 0.922 0.863 0.784 0.729 0.639 0.561 0.490"/><feFuncA type="linear" slope="0" intercept="1"/></feComponentTransfer></filter>
<filter id="F85" x="0" y="0" width="1" height="1" color-interpolation-filters="sRGB"><feTurbulence type="fractalNoise" baseFrequency="0.035 0.9" numOctaves="3" seed="250"/><feColorMatrix type="matrix" values="3.2 0 0 0 -1.66 3.2 0 0 0 -1.66 3.2 0 0 0 -1.66 0 0 0 0 1" result="L0"/><feComponentTransfer in="L0"><feFuncR type="table" tableValues="0.988 0.937 0.855 0.737 0.620 0.502 0.416 0.329 0.247"/><feFuncG type="table" tableValues="0.984 0.929 0.855 0.741 0.604 0.490 0.318 0.153 0.000"/><feFuncB type="table" tableValues="0.992 0.961 0.922 0.863 0.784 0.729 0.639 0.561 0.490"/><feFuncA type="linear" slope="0" intercept="1"/></feComponentTransfer></filter>
<clipPath id="c36"><rect x="611.3" y="455.2" width="71.2" height="82.6"/></clipPath></defs>
<text x="-1.6" y="22.3" font-size="33" text-anchor="start" fill="#000" font-weight="bold">a</text>
<text x="182.5" y="11.8" font-size="14" text-anchor="middle" fill="#000">CTCF</text>
<text x="519.5" y="11.8" font-size="14.2" text-anchor="middle" fill="#000" textLength="66.94" lengthAdjust="spacingAndGlyphs">H3K4me1</text>
<text x="182.5" y="290.8" font-size="14" text-anchor="middle" fill="#000">ATAC</text>
<text x="519.5" y="290.8" font-size="14.2" text-anchor="middle" fill="#000" textLength="66.94" lengthAdjust="spacingAndGlyphs">H3K4me3</text>
<text x="57.9" y="28" font-size="13.3" text-anchor="middle" fill="#000" textLength="25.89" lengthAdjust="spacingAndGlyphs">LSK</text>
<path d="M22.3 93.5V30.6H93.5V93.5" fill="none" stroke="#8a8a8a" stroke-width="1"/>
<path d="M22.3 93.5H93.5" stroke="#666" stroke-width="1"/>
<path d="M22.3 93.5v2.4" stroke="#666" stroke-width="0.9"/>
<path d="M57.9 93.5v2.4" stroke="#666" stroke-width="0.9"/>
<path d="M93.5 93.5v2.4" stroke="#666" stroke-width="0.9"/>
<g fill="none" stroke-width="1.15" stroke-linejoin="round">
<path d="M22.3 88.6 L23.1 88.6 L23.9 89 L24.7 88.8 L25.5 88.7 L26.3 88.8 L27 88.4 L27.8 88.5 L28.6 88.7 L29.4 88.9 L30.2 88.4 L31 88.3 L31.8 88 L32.6 88.6 L33.4 88.8 L34.2 88.3 L35 88.9 L35.7 89.3 L36.5 89.1 L37.3 89 L38.1 88.5 L38.9 88.1 L39.7 88.4 L40.5 88 L41.3 88 L42.1 88 L42.9 87.8 L43.7 88.2 L44.5 88.3 L45.2 88.8 L46 88.8 L46.8 88.8 L47.6 88.8 L48.4 88.9 L49.2 88.7 L50 88.5 L50.8 89 L51.6 89.3 L52.4 89.3 L53.2 89.2 L53.9 88.7 L54.7 88.3 L55.5 88 L56.3 87.5 L57.1 87.7 L57.9 87.4 L58.7 88 L59.5 88.2 L60.3 88.8 L61.1 89.1 L61.9 88.4 L62.6 88.2 L63.4 88.8 L64.2 88.7 L65 89.2 L65.8 88.9 L66.6 88.4 L67.4 88.6 L68.2 89 L69 88.6 L69.8 88.3 L70.6 88.3 L71.3 89 L72.1 89.1 L72.9 88.6 L73.7 88.4 L74.5 88.1 L75.3 88 L76.1 88.6 L76.9 88.4 L77.7 88.6 L78.5 88.6 L79.3 88.4 L80.1 88.8 L80.8 88.4 L81.6 88.7 L82.4 88.4 L83.2 88.5 L84 88.3 L84.8 88.3 L85.6 89 L86.4 89.2 L87.2 88.8 L88 89.2 L88.8 88.7 L89.5 88.6 L90.3 89.1 L91.1 89.1 L91.9 88.6 L92.7 89.2 L93.5 88.7" stroke="#0c0c82"/>
<path d="M22.3 88.2 L23.1 88.4 L23.9 88.6 L24.7 87.8 L25.5 87.2 L26.3 87.5 L27 87.4 L27.8 88.3 L28.6 88.6 L29.4 88.6 L30.2 88.5 L31 88.6 L31.8 87.9 L32.6 87.9 L33.4 87.5 L34.2 88.5 L35 87.7 L35.7 88.4 L36.5 87.7 L37.3 88.2 L38.1 88 L38.9 87.9 L39.7 88.6 L40.5 87.7 L41.3 87.2 L42.1 88.3 L42.9 88.3 L43.7 87.6 L44.5 88.7 L45.2 89.2 L46 88.1 L46.8 88 L47.6 87.5 L48.4 87.5 L49.2 88 L50 87.5 L50.8 88.1 L51.6 87.4 L52.4 87.1 L53.2 88 L53.9 87.7 L54.7 87.5 L55.5 87.4 L56.3 86.8 L57.1 85.6 L57.9 84.2 L58.7 85.7 L59.5 87.5 L60.3 88.5 L61.1 88.6 L61.9 88.2 L62.6 87.9 L63.4 88.4 L64.2 88.6 L65 87.8 L65.8 87.6 L66.6 87.7 L67.4 88 L68.2 88.6 L69 88.5 L69.8 87.6 L70.6 88.4 L71.3 88.3 L72.1 88.3 L72.9 87.9 L73.7 88 L74.5 87.9 L75.3 88.6 L76.1 87.8 L76.9 88.1 L77.7 87.7 L78.5 88.3 L79.3 87.6 L80.1 87.6 L80.8 87.7 L81.6 88.2 L82.4 87.6 L83.2 87.9 L84 87.6 L84.8 87.6 L85.6 87.9 L86.4 88.9 L87.2 88.6 L88 89.2 L88.8 88.3 L89.5 89 L90.3 88.5 L91.1 88 L91.9 88.6 L92.7 89.1 L93.5 88" stroke="#14d2f5"/>
<path d="M22.3 87.6 L23.1 87.7 L23.9 87.8 L24.7 88 L25.5 87.7 L26.3 87.5 L27 87.4 L27.8 87.4 L28.6 87.7 L29.4 87.4 L30.2 87.6 L31 87.5 L31.8 87.4 L32.6 87.5 L33.4 87.8 L34.2 87.8 L35 87.4 L35.7 87.3 L36.5 87.2 L37.3 87.6 L38.1 87.7 L38.9 87.7 L39.7 87.7 L40.5 87.6 L41.3 87.6 L42.1 87.4 L42.9 86.9 L43.7 86.9 L44.5 86.5 L45.2 86.2 L46 85.7 L46.8 85.1 L47.6 84.4 L48.4 83.5 L49.2 82.5 L50 81.1 L50.8 79.9 L51.6 78.2 L52.4 76 L53.2 73.1 L53.9 69.4 L54.7 65 L55.5 59.2 L56.3 52.5 L57.1 44 L57.9 33.4 L58.7 43.8 L59.5 52.3 L60.3 59 L61.1 64.6 L61.9 69.2 L62.6 72.7 L63.4 75.4 L64.2 77.9 L65 79.7 L65.8 81.1 L66.6 82.3 L67.4 83.4 L68.2 84.1 L69 85 L69.8 85.8 L70.6 86.1 L71.3 86.6 L72.1 87 L72.9 86.8 L73.7 86.8 L74.5 87.3 L75.3 87.6 L76.1 87.7 L76.9 87.4 L77.7 87.5 L78.5 87.8 L79.3 88 L80.1 88.1 L80.8 87.8 L81.6 88 L82.4 87.8 L83.2 88 L84 87.7 L84.8 88 L85.6 88 L86.4 88.1 L87.2 87.8 L88 87.9 L88.8 87.9 L89.5 88 L90.3 87.9 L91.1 88 L91.9 87.9 L92.7 87.8 L93.5 87.6" stroke="#ffdf10"/>
</g>
<rect x="22.3" y="103.3" width="71.2" height="57.7" filter="url(#F0)"/>
<g clip-path="url(#c1)"><g filter="url(#bl)">
<path d="M31 112.8h4.1M83.6 147.8h5.8" stroke="#2f984f" stroke-opacity="0.4" stroke-width="1"/>
<path d="M59.7 105.8h5.8M88.8 107.8h4.7M36.6 108.8h5.4M62 113.8h5.5M59.4 121.8h3.7M82.8 131.8h4.4M64.1 134.8h1.2M30.3 137.8h1M28.9 148.8h1.9M72.2 158.8h1.9M41.3 160.8h1.9" stroke="#238b45" stroke-opacity="0.4" stroke-width="1"/>
<path d="M88 140.8h2.5M88.7 150.8h1.2M35.9 153.8h2.8M36.9 154.8h1.5" stroke="#157f3b" stroke-opacity="0.4" stroke-width="1"/>
<path d="M76.4 103.8h2.8M90.3 117.8h3.2M86.1 126.8h6.6M68 135.8h3.9" stroke="#077331" stroke-opacity="0.4" stroke-width="1"/>
<path d="M61.3 110.8h10.4M67.1 116.8h2.8M75.8 123.8h3" stroke="#006529" stroke-opacity="0.4" stroke-width="1"/>
<path d="M66.3 109.8h2.3" stroke="#005422" stroke-opacity="0.4" stroke-width="1"/>
</g></g>
<rect x="22.3" y="163" width="71.2" height="13" filter="url(#F1)"/>
<g clip-path="url(#c2)"><g filter="url(#bl)">
<path d="M27.2 167.5h11.6M50.7 169.5h4" stroke="#238b45" stroke-opacity="0.4" stroke-width="1"/>
<path d="M87.2 164.5h6.3M48 168.5h5.4M52 174.5h2.4" stroke="#157f3b" stroke-opacity="0.4" stroke-width="1"/>
<path d="M42.6 166.5h1.8" stroke="#077331" stroke-opacity="0.4" stroke-width="1"/>
<path d="M30.1 170.5h2.1" stroke="#006529" stroke-opacity="0.4" stroke-width="1"/>
</g></g>
<rect x="22.3" y="178" width="71.2" height="82.6" filter="url(#F2)"/>
<rect x="22.3" y="178" width="71.2" height="82.6" filter="url(#F3)" mask="url(#mM)"/>
<g clip-path="url(#c3)"><g filter="url(#bl)">
<path d="M31.7 190.5h7.5M52.9 195.5h3.3M57.6 197.5h1M60.5 198.5h3.9M49.7 203.5h11.6M82.1 207.5h1.4M73.2 209.5h1.1M90.8 216.5h2.7M46.5 219.5h4M24.1 229.5h3.1M90 233.5h3.5M34.3 236.5h3.6M68.9 242.5h1.9M57.7 243.5h7.1M29.6 252.5h5.6M32.1 258.5h8.9" stroke="#238b45" stroke-opacity="0.4" stroke-width="1"/>
<path d="M59.3 182.5h12M42 188.5h3.6M81.2 204.5h2M45.9 218.5h2.5M32.1 222.5h1.4M58.3 225.5h3.3M57.6 244.5h3.5M72.6 250.5h2.2M52.3 253.5h5.5M33.5 255.5h11.5" stroke="#157f3b" stroke-opacity="0.4" stroke-width="1"/>
<path d="M34.2 178.5h3.9M85.5 200.5h8M65.3 201.5h1.5M53 214.5h3.4M52.8 217.5h7.3M74.6 224.5h3.9M74.2 235.5h5.9M56.7 249.5h1.8M89.8 251.5h3.7M92.1 254.5h1.4" stroke="#077331" stroke-opacity="0.4" stroke-width="1"/>
<path d="M85.7 189.5h2M56.8 234.5h2.3" stroke="#006529" stroke-opacity="0.4" stroke-width="1"/>
<path d="M70.6 191.5h1.2" stroke="#005422" stroke-opacity="0.4" stroke-width="1"/>
<path d="M50.1 187.5h7.6M50.6 198.5h4.1M58.9 222.5h3.8M60.9 238.5h2.2M53.6 243.5h5.5" stroke="#98d594" stroke-opacity="0.9" stroke-width="1"/>
<path d="M59.8 183.5h1.8M55 212.5h1.7M64.3 215.5h2.3M55.4 220.5h2.7M62.7 242.5h1.8M48.3 247.5h2.8M63.9 260.5h3.3" stroke="#86cc85" stroke-opacity="0.9" stroke-width="1"/>
<path d="M65.8 206.5h5M60.2 249.5h2.5M68.7 250.5h1.5" stroke="#74c476" stroke-opacity="0.9" stroke-width="1"/>
<path d="M53.5 179.5h1.7M47.6 181.5h4.9M56.6 207.5h5.7M57.7 228.5h3.6M43.7 241.5h6.6" stroke="#60ba6c" stroke-opacity="0.9" stroke-width="1"/>
<path d="M50.8 178.5h5.7M51.2 254.5h10.3" stroke="#4bb062" stroke-opacity="0.9" stroke-width="1"/>
<path d="M51.9 191.5h2.7M53 194.5h2.8M49.3 195.5h3.1M67.7 217.5h3M51.5 221.5h2.3M61.1 224.5h2.7M57.2 226.5h1.6M52 232.5h8.2M58 235.5h6" stroke="#3ba558" stroke-opacity="0.9" stroke-width="1"/>
<path d="M57 182.5h1.7M56.4 188.5h4.5M56.6 188.5h3.8M60.3 189.5h1.9M52.4 191.5h4.6M56.9 222.5h1.6M55.7 225.5h3.1M57 231.5h3.1M55.1 231.5h2.3M56.3 234.5h1.7M56.3 234.5h3.5M60.6 234.5h3.8M57.9 235.5h3.2M45.4 239.5h2.8M61.5 240.5h2.6M55.8 244.5h2.5M56.1 245.5h2.9M62.8 245.5h3.4M54.5 251.5h1.8M50.2 251.5h3.4M54.9 253.5h1.8M56.1 254.5h3.7M57 255.5h2.8" stroke="#2f984f" stroke-opacity="0.9" stroke-width="1"/>
<path d="M55.9 178.5h4.2M56.8 180.5h4.3M57.6 182.5h4.2M55.6 183.5h3.5M57.3 183.5h2.6M56.6 185.5h2.8M54.4 187.5h4.5M58.3 189.5h3.1M56.1 190.5h4.6M55.1 193.5h4.4M55.2 198.5h4.3M57.9 201.5h2.8M55.6 201.5h4M56.6 202.5h2.3M57.6 202.5h3.1M56.9 205.5h4.1M56.2 207.5h3.9M57.8 208.5h1.1M56.7 210.5h4M54.1 211.5h4.7M54.6 213.5h4.2M57.8 214.5h2.6M55 214.5h3.7M56 215.5h3M56.2 217.5h2.8M54.6 224.5h3M56.2 225.5h2.8M56.5 228.5h2.6M55.1 228.5h2.6M55.8 230.5h1.5M58.1 232.5h2.9M53.7 233.5h4.4M57.9 236.5h2.5M58.4 239.5h2.9M56.2 241.5h4.5M57.3 243.5h2.6M55.1 247.5h3.8M55.2 248.5h1.6M57.9 255.5h4.4M55.4 256.5h4M57.8 257.5h2.1" stroke="#238b45" stroke-opacity="0.9" stroke-width="1"/>
<path d="M55.8 180.5h1.8M55.5 180.5h3.1M58 183.5h1.4M57.6 184.5h1.8M56.7 184.5h4.1M54.4 187.5h4.5M57.4 190.5h2.3M56.2 191.5h2.8M56.1 194.5h4.6M55.3 196.5h3.4M54.2 196.5h4.5M57 198.5h2.4M56.2 203.5h2.3M55.8 206.5h4.6M54.7 207.5h4.4M56.7 208.5h2.2M56.2 209.5h1.7M56.1 211.5h1.7M55.2 212.5h2.5M58.6 216.5h2.3M56.6 216.5h3.1M57.1 220.5h1.4M56.9 223.5h3.8M55.3 226.5h1.2M55.1 226.5h3.7M58 229.5h1.5M55.5 230.5h4.5M56.9 231.5h3.6M57.8 232.5h1.2M57.6 237.5h1.4M57.3 238.5h3.6M56.9 239.5h1.5M56.4 242.5h4M55.8 244.5h1.6M54.7 244.5h4.7M55 249.5h3.6M56.4 249.5h2.1M55.5 252.5h3.6M56.2 257.5h4.5M57.5 258.5h4.5M59 259.5h2M58.3 259.5h3M56.3 260.5h2.8" stroke="#157f3b" stroke-opacity="0.9" stroke-width="1"/>
<path d="M56.2 178.5h3.3M56.4 178.5h3.3M56.5 179.5h1.9M56.1 179.5h3.3M58 181.5h2.8M56.1 181.5h4.2M56.2 186.5h4.5M54.7 188.5h2.9M57.3 189.5h3.8M56.9 190.5h2.8M56.1 191.5h4.7M54.9 192.5h4M56.7 193.5h1.2M55.5 194.5h4.4M56.6 195.5h2.3M56.3 196.5h4M56.5 210.5h1.8M55.7 215.5h2.6M53.9 217.5h1.5M54.3 219.5h4M55.6 222.5h2.9M58 224.5h2.1M55.7 234.5h2.4M56.6 236.5h3.6M57.5 240.5h1.8M55.1 240.5h4M55.4 250.5h2.9M58.2 252.5h1.3M53.9 253.5h4.2M54.7 253.5h3.8M56.6 253.5h2.9M57.7 254.5h1.7M56.6 258.5h3.7" stroke="#077331" stroke-opacity="0.9" stroke-width="1"/>
<path d="M56.2 184.5h3.8M56.6 185.5h1.7M57.4 186.5h2.8M55.1 187.5h2.7M53.1 192.5h4.4M55.2 192.5h3.4M56.8 195.5h1.4M55.6 197.5h4.1M57.1 199.5h2.5M57.9 199.5h2.3M56.4 200.5h4.5M54.9 202.5h3.6M54.9 203.5h1.7M54.9 204.5h3.6M56.1 205.5h2.6M58.3 206.5h3.1M56.6 207.5h3.9M56.6 209.5h1.2M55.9 209.5h3.3M57.3 210.5h1.1M54.9 211.5h3.7M57 215.5h1.9M56.9 218.5h3.8M53.8 220.5h3.4M55.7 221.5h1.8M56.3 221.5h2.1M56.2 222.5h3.2M56 223.5h3M56.6 223.5h2.6M55.1 226.5h2.2M56 227.5h4.5M56.3 229.5h4.5M55.8 229.5h1.5M56.9 231.5h1.3M57.5 235.5h4.3M58.3 237.5h1.3M57.5 238.5h1.2M54.3 238.5h3.4M57.1 241.5h3.5M56.4 242.5h3.2M54.5 243.5h4.6M55.6 245.5h4.5M57.6 246.5h1.5M55.4 246.5h4.6M57.5 247.5h3M54.9 250.5h2.9M54 251.5h4.6M57.8 252.5h3.7M57.4 254.5h1.3M56.1 256.5h3.1M59.7 260.5h1.4M56 260.5h2.5" stroke="#006529" stroke-opacity="0.9" stroke-width="1"/>
<path d="M54.1 185.5h4.6M56.2 197.5h1.2M58.7 199.5h2.4M57.8 200.5h2.6M56.9 204.5h3.1M55.8 205.5h1.5M55.4 212.5h1.5M54.7 213.5h3.6M57.7 213.5h2.5M55.5 214.5h2.5M54.8 218.5h4.4M55.5 219.5h4.4M54.4 227.5h3.7M55.7 230.5h3.9M57.1 232.5h2.8M55.7 233.5h2.1M57.2 235.5h1.4M57.6 241.5h2.7M55.1 248.5h1.2M56.6 255.5h3.6M58.1 258.5h3.6M57.8 259.5h3.2" stroke="#005422" stroke-opacity="0.9" stroke-width="1"/>
</g></g>
<rect x="22.3" y="103.3" width="71.2" height="157.3" fill="none" stroke="#7a7a7a" stroke-width="1"/>
<rect x="21.8" y="161" width="72.2" height="2" fill="#646464"/>
<rect x="21.8" y="176" width="72.2" height="2" fill="#6a6a6a"/>
<path d="M22.3 260.6v2.6" stroke="#777" stroke-width="0.8"/>
<path d="M57.9 260.6v2.6" stroke="#777" stroke-width="0.8"/>
<path d="M93.5 260.6v2.6" stroke="#777" stroke-width="0.8"/>
<text x="23.5" y="270.5" font-size="7" text-anchor="middle" fill="#222">-2.5</text>
<text x="57.9" y="270.5" font-size="7" text-anchor="middle" fill="#222">peak center</text>
<text x="96.1" y="270.5" font-size="7" text-anchor="end" fill="#222">2.5Kb</text>
<text x="140.3" y="28" font-size="13.3" text-anchor="middle" fill="#000" textLength="31.20" lengthAdjust="spacingAndGlyphs">GMP</text>
<path d="M104.7 93.5V30.6H175.9V93.5" fill="none" stroke="#8a8a8a" stroke-width="1"/>
<path d="M104.7 93.5H175.9" stroke="#666" stroke-width="1"/>
<path d="M104.7 93.5v2.4" stroke="#666" stroke-width="0.9"/>
<path d="M140.3 93.5v2.4" stroke="#666" stroke-width="0.9"/>
<path d="M175.9 93.5v2.4" stroke="#666" stroke-width="0.9"/>
<g fill="none" stroke-width="1.15" stroke-linejoin="round">
<path d="M104.7 88.3 L105.5 88.6 L106.3 88.7 L107.1 88.6 L107.9 88.3 L108.7 88.7 L109.4 89 L110.2 88.8 L111 88.7 L111.8 88.4 L112.6 88 L113.4 88.1 L114.2 88.4 L115 88.1 L115.8 88.6 L116.6 88.3 L117.4 88.2 L118.1 87.9 L118.9 88.7 L119.7 88.9 L120.5 89.1 L121.3 89 L122.1 88.3 L122.9 88.3 L123.7 88.4 L124.5 88.1 L125.3 88.8 L126.1 88.5 L126.9 88.2 L127.6 88.7 L128.4 88.2 L129.2 88.8 L130 88.6 L130.8 88.6 L131.6 88.4 L132.4 88.4 L133.2 88.1 L134 87.8 L134.8 88.4 L135.6 88.1 L136.3 88.4 L137.1 87.9 L137.9 88.3 L138.7 88.2 L139.5 87.8 L140.3 87.6 L141.1 87.6 L141.9 88.1 L142.7 87.8 L143.5 88 L144.3 88.5 L145 88.2 L145.8 88.8 L146.6 89 L147.4 88.7 L148.2 88.5 L149 88.5 L149.8 88.4 L150.6 89 L151.4 88.7 L152.2 88.1 L153 87.9 L153.7 88.4 L154.5 89 L155.3 88.8 L156.1 88.7 L156.9 88.7 L157.7 88.9 L158.5 88.5 L159.3 88.6 L160.1 88.7 L160.9 88.8 L161.7 88.4 L162.5 88.1 L163.2 88.2 L164 88.8 L164.8 88.5 L165.6 88.7 L166.4 88.4 L167.2 88.1 L168 87.9 L168.8 88.5 L169.6 88.8 L170.4 88.6 L171.2 88.8 L171.9 88.9 L172.7 89.1 L173.5 89.4 L174.3 88.9 L175.1 89.3 L175.9 89.4" stroke="#0c0c82"/>
<path d="M104.7 89 L105.5 88.1 L106.3 87.4 L107.1 88.6 L107.9 88 L108.7 87.5 L109.4 88.1 L110.2 87.9 L111 88.7 L111.8 88.1 L112.6 88.9 L113.4 88.4 L114.2 88.5 L115 89.1 L115.8 89 L116.6 89.4 L117.4 89.2 L118.1 88.1 L118.9 88.8 L119.7 88.7 L120.5 88.2 L121.3 87.8 L122.1 88.6 L122.9 88.6 L123.7 89.1 L124.5 89.2 L125.3 89.5 L126.1 89.1 L126.9 89 L127.6 88.9 L128.4 88.2 L129.2 88.9 L130 88.3 L130.8 88.7 L131.6 89.2 L132.4 89 L133.2 88 L134 88.5 L134.8 88.5 L135.6 87.7 L136.3 86.9 L137.1 87.1 L137.9 86.2 L138.7 86.8 L139.5 86 L140.3 85.6 L141.1 85.8 L141.9 86.8 L142.7 88 L143.5 87.7 L144.3 87.6 L145 88 L145.8 87.7 L146.6 88.1 L147.4 88.2 L148.2 88.1 L149 88.5 L149.8 88.4 L150.6 87.7 L151.4 88.8 L152.2 88.3 L153 88.2 L153.7 88.1 L154.5 88.9 L155.3 89.4 L156.1 88.9 L156.9 88.5 L157.7 87.8 L158.5 88.7 L159.3 88 L160.1 88.2 L160.9 88 L161.7 87.9 L162.5 87.9 L163.2 87.6 L164 87.2 L164.8 87.8 L165.6 88.5 L166.4 88.7 L167.2 88.1 L168 88.5 L168.8 87.7 L169.6 87.9 L170.4 88.6 L171.2 89.2 L171.9 88.8 L172.7 89.2 L173.5 88.8 L174.3 88.7 L175.1 88.7 L175.9 89.3" stroke="#14d2f5"/>
<path d="M104.7 88.3 L105.5 88.4 L106.3 88.5 L107.1 88 L107.9 88 L108.7 88 L109.4 88 L110.2 87.8 L111 87.7 L111.8 87.8 L112.6 87.7 L113.4 87.8 L114.2 87.6 L115 87.5 L115.8 87.8 L116.6 87.8 L117.4 87.8 L118.1 88 L118.9 87.8 L119.7 87.5 L120.5 87.8 L121.3 87.7 L122.1 87.7 L122.9 87.6 L123.7 87.7 L124.5 87.4 L125.3 87.3 L126.1 86.9 L126.9 86.6 L127.6 86.3 L128.4 85.8 L129.2 85 L130 84.4 L130.8 83.8 L131.6 82.9 L132.4 81.6 L133.2 80.1 L134 78 L134.8 75.5 L135.6 72.6 L136.3 69.3 L137.1 64.6 L137.9 58.9 L138.7 52 L139.5 43.4 L140.3 33 L141.1 43.7 L141.9 52.5 L142.7 59.2 L143.5 64.7 L144.3 69.1 L145 72.6 L145.8 75.8 L146.6 78.2 L147.4 79.9 L148.2 81.3 L149 82.8 L149.8 83.9 L150.6 84.9 L151.4 85.3 L152.2 85.8 L153 86.5 L153.7 86.8 L154.5 87.2 L155.3 87.1 L156.1 87.5 L156.9 87.3 L157.7 87.4 L158.5 87.3 L159.3 87.7 L160.1 87.8 L160.9 88.1 L161.7 88.2 L162.5 88.3 L163.2 88.2 L164 88.4 L164.8 88.3 L165.6 88.1 L166.4 88.3 L167.2 88.1 L168 87.9 L168.8 87.7 L169.6 87.8 L170.4 87.7 L171.2 88.1 L171.9 88.3 L172.7 88 L173.5 87.8 L174.3 87.9 L175.1 87.7 L175.9 87.9" stroke="#ffdf10"/>
</g>
<rect x="104.7" y="103.3" width="71.2" height="57.7" filter="url(#F4)"/>
<g clip-path="url(#c4)"><g filter="url(#bl)">
<path d="M118.8 134.8h1.1M117.1 147.8h1.4" stroke="#e35508" stroke-opacity="0.4" stroke-width="1"/>
<path d="M116.3 116.8h2.2M169.9 126.8h6M110.3 132.8h1.2M113.1 135.8h1.4M132.1 146.8h1.7M117 152.8h1.2M168.1 155.8h5.4M158.4 157.8h2.7" stroke="#d94801" stroke-opacity="0.4" stroke-width="1"/>
<path d="M122.1 104.8h6.2M110 105.8h3.3M141.8 107.8h4M120.7 114.8h2.6M114.6 120.8h1.9M174.3 125.8h1.3M128.3 138.8h1.2M174.4 140.8h1.5" stroke="#c54102" stroke-opacity="0.4" stroke-width="1"/>
<path d="M136.4 121.8h3M155.3 139.8h3.3M108.1 148.8h5" stroke="#b03a03" stroke-opacity="0.4" stroke-width="1"/>
<path d="M162 106.8h1.1M173.4 113.8h2.5M134.7 124.8h9.6M115.2 128.8h1.4" stroke="#9e3303" stroke-opacity="0.4" stroke-width="1"/>
<path d="M140.3 110.8h2.4M147 150.8h2.9" stroke="#8f2d04" stroke-opacity="0.4" stroke-width="1"/>
</g></g>
<rect x="104.7" y="163" width="71.2" height="13" filter="url(#F5)"/>
<g clip-path="url(#c5)"><g filter="url(#bl)">
<path d="M170.7 175.5h5.2" stroke="#e35508" stroke-opacity="0.4" stroke-width="1"/>
<path d="M134.3 166.5h1.6M124.2 168.5h2.5M137 174.5h1.3" stroke="#d94801" stroke-opacity="0.4" stroke-width="1"/>
<path d="M139.4 164.5h9.6" stroke="#c54102" stroke-opacity="0.4" stroke-width="1"/>
<path d="M126.7 171.5h5.9" stroke="#b03a03" stroke-opacity="0.4" stroke-width="1"/>
<path d="M133.3 172.5h3.5" stroke="#9e3303" stroke-opacity="0.4" stroke-width="1"/>
</g></g>
<rect x="104.7" y="178" width="71.2" height="82.6" filter="url(#F6)"/>
<rect x="104.7" y="178" width="71.2" height="82.6" filter="url(#F7)" mask="url(#mM)"/>
<g clip-path="url(#c6)"><g filter="url(#bl)">
<path d="M107 193.5h4.6M126.4 195.5h11.9M139.1 241.5h1.3M116.7 252.5h3.3" stroke="#e35508" stroke-opacity="0.4" stroke-width="1"/>
<path d="M147.2 181.5h2.5M151.5 202.5h2.3M146.5 208.5h4.4M156.5 209.5h4.2M141.3 213.5h7.3M110.6 231.5h4.4M149.2 237.5h2.4M132.6 243.5h2.2M121.3 249.5h1.6" stroke="#d94801" stroke-opacity="0.4" stroke-width="1"/>
<path d="M162.9 185.5h1.4M150.8 187.5h3.7M135.4 205.5h3.3M112.7 214.5h1M116.5 217.5h1.9M151.8 224.5h8.3M155.3 225.5h2.6M105.1 227.5h2.5M164.2 232.5h3M156.7 246.5h4.6M115.9 254.5h3.6" stroke="#c54102" stroke-opacity="0.4" stroke-width="1"/>
<path d="M148.2 178.5h4.3M128.9 179.5h2.8M140.9 182.5h1.2M133.3 196.5h14.2M143.4 206.5h3.5M146.4 210.5h2.6M151.1 221.5h1.6M143.6 226.5h3.3M131.4 228.5h4.2M111.2 244.5h1.3" stroke="#b03a03" stroke-opacity="0.4" stroke-width="1"/>
<path d="M146.6 183.5h2.2M137.4 188.5h4.7M130.7 194.5h4.2M134 219.5h15M156.8 233.5h3.8" stroke="#9e3303" stroke-opacity="0.4" stroke-width="1"/>
<path d="M164.4 234.5h4.8M157.1 245.5h1.9" stroke="#8f2d04" stroke-opacity="0.4" stroke-width="1"/>
<path d="M137.8 218.5h6.8M137.4 225.5h3.6M142.8 245.5h2.4M143.2 254.5h3.5" stroke="#fdb576" stroke-opacity="0.9" stroke-width="1"/>
<path d="M137.3 190.5h2M134.1 213.5h2.8M143 226.5h2.2M145.1 247.5h5.2M132.6 255.5h7.5M132.8 257.5h2.8" stroke="#fda762" stroke-opacity="0.9" stroke-width="1"/>
<path d="M144.9 199.5h2.8M142.2 203.5h2.3M139.2 210.5h3.1M135.1 240.5h4.1M142.6 243.5h3.7" stroke="#fd9a4f" stroke-opacity="0.9" stroke-width="1"/>
<path d="M139.2 182.5h3.6M130.9 198.5h3.3M145.9 214.5h2M126.4 258.5h9.7" stroke="#fd8d3c" stroke-opacity="0.9" stroke-width="1"/>
<path d="M134.7 185.5h1.7M128.5 191.5h3.8M134.5 196.5h5.3M130.8 205.5h1.6M138.6 212.5h1.6M138.8 221.5h3.7M146.2 227.5h2.3" stroke="#f87f2c" stroke-opacity="0.9" stroke-width="1"/>
<path d="M131.6 184.5h3.8" stroke="#f3701b" stroke-opacity="0.9" stroke-width="1"/>
<path d="M137.7 179.5h4.2M128.7 180.5h3.6M140.3 189.5h1.8" stroke="#ec620f" stroke-opacity="0.9" stroke-width="1"/>
<path d="M140.7 178.5h2.6M137.6 179.5h4M137 183.5h2.4M139.3 186.5h2.9M135.4 188.5h1.9M137.6 188.5h1.7M139.2 190.5h1.3M139.3 191.5h2.2M137.1 192.5h1.5M137.9 201.5h2.2M140.5 210.5h1.8M137.9 214.5h4.1M138.8 215.5h3.3M130.3 216.5h8.5M139.9 219.5h1.2M137.9 220.5h3.3M140.3 224.5h3.4M139.7 228.5h3M139.5 230.5h2.2M137.4 231.5h3.2M138.3 233.5h3.4M139 235.5h3.1M139.4 237.5h3.4M138.3 259.5h3.7M137.2 260.5h3.7M138.4 260.5h1.2" stroke="#e35508" stroke-opacity="0.9" stroke-width="1"/>
<path d="M138.2 180.5h1.6M136.7 181.5h3.3M138.5 183.5h3.9M139.5 185.5h2.1M137.4 186.5h4.4M140 187.5h1.3M138.5 189.5h4.6M139.5 196.5h2.8M136.8 206.5h3.8M137.3 207.5h2.2M138.4 212.5h3.4M139 214.5h1.9M138 216.5h3.7M139.2 217.5h1.9M139.4 224.5h2M138.2 225.5h3.9M139.8 228.5h3.9M139.5 229.5h3.7M137.6 231.5h1.6M136.7 234.5h4.4M139.5 236.5h1.4M137.9 240.5h2M138.1 241.5h3.6M137.8 244.5h1.6M138.5 245.5h1.1M141.2 250.5h1.6M138.8 253.5h2.8M139.4 253.5h1.8M139.2 257.5h1.3" stroke="#d94801" stroke-opacity="0.9" stroke-width="1"/>
<path d="M140.5 178.5h1.7M139.7 179.5h3.5M137.4 181.5h2.8M139.2 184.5h4.1M137.8 185.5h3.3M139.8 188.5h1.8M138.6 193.5h4.3M140 194.5h1.5M139.4 196.5h4.2M140.7 198.5h1.3M140.3 200.5h3.4M140.5 200.5h1.7M140.8 201.5h3.1M138.5 201.5h2.8M138.6 202.5h4.1M139.3 204.5h1.2M138.4 211.5h4.5M137.9 215.5h3.9M137.7 217.5h4.4M139.7 219.5h3.9M138.6 220.5h1.9M135.8 221.5h2.6M138.9 222.5h1.4M141 222.5h1.4M141.2 223.5h2.4M139 225.5h4.5M140.9 225.5h2M139.5 226.5h2.8M141.7 226.5h1.8M137.4 227.5h4M138.2 237.5h1.2M138.1 238.5h1.6M137.7 240.5h3.8M138.3 240.5h2M140.7 243.5h2.2M139.8 246.5h3.5M139.3 248.5h3.5M137.7 249.5h4M138.7 255.5h1.7M139.9 257.5h1.6" stroke="#c54102" stroke-opacity="0.9" stroke-width="1"/>
<path d="M139.3 180.5h1.7M138.3 182.5h2.4M137.4 184.5h4.2M139.4 186.5h1.3M139.2 187.5h1.9M140.4 189.5h4.2M140.2 191.5h3.1M140.6 192.5h1.9M138.3 193.5h3.1M140.3 194.5h1.1M136.9 194.5h3.8M141.5 197.5h1.6M138.3 197.5h3.4M141.2 198.5h1.1M139.1 199.5h1.9M139.7 202.5h2.9M136.2 203.5h3.8M139.2 205.5h4.6M137.4 206.5h2.6M136.2 208.5h4.4M137 209.5h4.7M137.9 209.5h4.5M140.3 211.5h1.2M135.9 213.5h2M140.2 213.5h1.1M135.8 215.5h3.3M140.6 217.5h1.9M138.6 218.5h4.3M140.8 219.5h2.2M138.4 223.5h2.2M141.1 227.5h4.6M137.4 231.5h4.7M138.9 232.5h1.9M138.5 236.5h2.5M136.9 239.5h3.9M138.7 243.5h2.6M140.1 247.5h3.9M139.6 249.5h3.6M138.9 250.5h4.7M137.3 251.5h4.4M140.9 254.5h1.7M138.9 255.5h4.4M139.1 255.5h3.5M137.1 256.5h2.6M141.2 256.5h1.2" stroke="#b03a03" stroke-opacity="0.9" stroke-width="1"/>
<path d="M139.8 178.5h4.5M138.9 182.5h3.5M138.5 184.5h4.4M136.8 186.5h1.8M141.9 190.5h1.3M139 190.5h4.6M140.3 192.5h2.6M139.3 192.5h4.6M138.9 195.5h2.8M139.4 197.5h2.9M141.2 198.5h2.3M139.4 204.5h3.6M137.9 207.5h3.9M138.2 208.5h3M139 210.5h3M136.6 213.5h3.3M139.2 216.5h3.4M139.1 221.5h1.9M140.8 229.5h1.2M138.2 230.5h3.9M137.2 233.5h2.5M137.5 234.5h3.2M138.4 235.5h3.3M138.9 238.5h2.6M138.7 238.5h3.2M137.6 239.5h4M138.9 241.5h2.6M137 241.5h4.4M139.8 243.5h3M140.4 246.5h1.2M138.9 247.5h3.6M139.9 248.5h4.6M137.7 249.5h4.3M138.3 250.5h3.3M138 251.5h3.3M138.8 252.5h2.3M140.4 252.5h2.3M140.2 254.5h1.2M137.2 256.5h3.8M138.5 258.5h2.8M137.5 258.5h2.6M139 259.5h1.8" stroke="#9e3303" stroke-opacity="0.9" stroke-width="1"/>
<path d="M139.5 179.5h3.4M136.8 183.5h4.6M138.6 187.5h4.5M140.9 188.5h1.7M138.6 191.5h3.1M138.6 195.5h4M140.1 196.5h2.2M141.2 199.5h2.3M140.7 202.5h3.4M138.6 203.5h2.5M138.6 203.5h3M137.8 205.5h3.2M138.2 212.5h3.5M137 214.5h2.9M138.4 218.5h4.4M141.6 226.5h2M138.7 232.5h3.2M138.6 233.5h4.6M139.3 242.5h2.1M138.9 242.5h2.3M139.2 244.5h3.3M136.9 245.5h1.1M141.7 246.5h2.1M140 248.5h1.9M138.4 251.5h3.8" stroke="#8f2d04" stroke-opacity="0.9" stroke-width="1"/>
</g></g>
<rect x="104.7" y="103.3" width="71.2" height="157.3" fill="none" stroke="#7a7a7a" stroke-width="1"/>
<rect x="104.2" y="161" width="72.2" height="2" fill="#a2a2a2"/>
<rect x="104.2" y="176" width="72.2" height="2" fill="#5a5a5a"/>
<path d="M104.7 260.6v2.6" stroke="#777" stroke-width="0.8"/>
<path d="M140.3 260.6v2.6" stroke="#777" stroke-width="0.8"/>
<path d="M175.9 260.6v2.6" stroke="#777" stroke-width="0.8"/>
<text x="105.9" y="270.5" font-size="7" text-anchor="middle" fill="#222">-2.5</text>
<text x="140.3" y="270.5" font-size="7" text-anchor="middle" fill="#222">peak center</text>
<text x="178.5" y="270.5" font-size="7" text-anchor="end" fill="#222">2.5Kb</text>
<text x="222.7" y="28" font-size="13.3" text-anchor="middle" fill="#000" textLength="27.92" lengthAdjust="spacingAndGlyphs">ERY</text>
<path d="M187.1 93.5V30.6H258.3V93.5" fill="none" stroke="#8a8a8a" stroke-width="1"/>
<path d="M187.1 93.5H258.3" stroke="#666" stroke-width="1"/>
<path d="M187.1 93.5v2.4" stroke="#666" stroke-width="0.9"/>
<path d="M222.7 93.5v2.4" stroke="#666" stroke-width="0.9"/>
<path d="M258.3 93.5v2.4" stroke="#666" stroke-width="0.9"/>
<g fill="none" stroke-width="1.15" stroke-linejoin="round">
<path d="M187.1 88 L187.9 87.9 L188.7 87.9 L189.5 88.8 L190.3 88.7 L191.1 89 L191.8 88.2 L192.6 88.4 L193.4 89 L194.2 88.8 L195 89.4 L195.8 89.5 L196.6 88.9 L197.4 88.1 L198.2 88.7 L199 88.1 L199.8 87.6 L200.5 88.4 L201.3 89 L202.1 89.3 L202.9 89.6 L203.7 88.7 L204.5 88.1 L205.3 87.8 L206.1 88.8 L206.9 88.2 L207.7 87.9 L208.5 87.5 L209.3 87.4 L210 87.3 L210.8 87.7 L211.6 87.6 L212.4 87.8 L213.2 88.7 L214 88.2 L214.8 88.8 L215.6 89 L216.4 88.8 L217.2 88.7 L218 88.8 L218.7 88.4 L219.5 87.6 L220.3 86.9 L221.1 85.9 L221.9 84.8 L222.7 83.8 L223.5 85.4 L224.3 85.9 L225.1 86.9 L225.9 88 L226.7 88.1 L227.4 88.5 L228.2 88 L229 87.6 L229.8 88.3 L230.6 87.8 L231.4 87.9 L232.2 88 L233 87.9 L233.8 87.5 L234.6 87.3 L235.4 88.5 L236.1 88.8 L236.9 89.4 L237.7 89 L238.5 89.5 L239.3 89.6 L240.1 89.3 L240.9 89 L241.7 88.8 L242.5 88.4 L243.3 88.3 L244.1 88.7 L244.9 88.3 L245.6 88.9 L246.4 88.8 L247.2 88.8 L248 89.2 L248.8 89.1 L249.6 88.4 L250.4 88.1 L251.2 87.6 L252 87.4 L252.8 88.6 L253.6 88.7 L254.3 89.3 L255.1 89.4 L255.9 88.8 L256.7 89.4 L257.5 89.6 L258.3 89.1" stroke="#14d2f5"/>
<path d="M187.1 88.2 L187.9 88.1 L188.7 88.2 L189.5 88.5 L190.3 88.3 L191.1 88.1 L191.8 88.1 L192.6 88.5 L193.4 88.3 L194.2 88.6 L195 88.7 L195.8 88.4 L196.6 88.5 L197.4 88.5 L198.2 88.4 L199 88.9 L199.8 88.4 L200.5 88.1 L201.3 88.7 L202.1 88.5 L202.9 88.3 L203.7 88.3 L204.5 88.3 L205.3 88.8 L206.1 88.4 L206.9 88.2 L207.7 88.4 L208.5 88.5 L209.3 88.9 L210 89 L210.8 88.6 L211.6 88.3 L212.4 88.6 L213.2 88.9 L214 88.2 L214.8 88.4 L215.6 88.5 L216.4 88.3 L217.2 87.6 L218 87.5 L218.7 87.1 L219.5 86 L220.3 85.1 L221.1 83.3 L221.9 80.9 L222.7 77.9 L223.5 81 L224.3 83.3 L225.1 85 L225.9 86.3 L226.7 87.3 L227.4 88 L228.2 88.4 L229 88.6 L229.8 88.3 L230.6 88 L231.4 88.3 L232.2 88.4 L233 88.5 L233.8 88.2 L234.6 88 L235.4 88.6 L236.1 88.6 L236.9 88.7 L237.7 88.3 L238.5 88.3 L239.3 88.7 L240.1 88.7 L240.9 89 L241.7 88.5 L242.5 88.4 L243.3 88.7 L244.1 88.5 L244.9 88.7 L245.6 88.6 L246.4 88.2 L247.2 88 L248 88.6 L248.8 88.2 L249.6 88.1 L250.4 88.1 L251.2 88.4 L252 88.7 L252.8 88.5 L253.6 88.5 L254.3 88.7 L255.1 88.4 L255.9 88.3 L256.7 88.4 L257.5 88.5 L258.3 88.1" stroke="#0c0c82"/>
<path d="M187.1 88 L187.9 88.1 L188.7 88.2 L189.5 88 L190.3 88.1 L191.1 88.3 L191.8 88.4 L192.6 88 L193.4 88.1 L194.2 88.1 L195 88 L195.8 88.3 L196.6 88.1 L197.4 88 L198.2 88.2 L199 88.2 L199.8 87.9 L200.5 87.8 L201.3 87.8 L202.1 87.5 L202.9 87.6 L203.7 87.8 L204.5 87.6 L205.3 87.7 L206.1 87.8 L206.9 87.5 L207.7 87.3 L208.5 86.7 L209.3 86.2 L210 86.3 L210.8 85.7 L211.6 85.1 L212.4 84.7 L213.2 84 L214 82.7 L214.8 81.4 L215.6 79.8 L216.4 77.9 L217.2 75.4 L218 72.7 L218.7 69 L219.5 64.6 L220.3 59 L221.1 52.1 L221.9 43.5 L222.7 33.4 L223.5 44.1 L224.3 52.6 L225.1 59.1 L225.9 64.5 L226.7 68.9 L227.4 72.6 L228.2 75.4 L229 77.8 L229.8 79.7 L230.6 81.2 L231.4 82.7 L232.2 83.7 L233 84.5 L233.8 85.1 L234.6 85.8 L235.4 86.4 L236.1 86.5 L236.9 86.6 L237.7 86.9 L238.5 87.1 L239.3 87.5 L240.1 87.3 L240.9 87.7 L241.7 87.5 L242.5 87.6 L243.3 87.7 L244.1 87.7 L244.9 88 L245.6 88.1 L246.4 87.8 L247.2 87.9 L248 88 L248.8 87.7 L249.6 87.6 L250.4 87.8 L251.2 88 L252 88 L252.8 87.9 L253.6 88 L254.3 87.8 L255.1 88.1 L255.9 88.3 L256.7 88.2 L257.5 87.8 L258.3 87.8" stroke="#ffdf10"/>
</g>
<rect x="187.1" y="103.3" width="71.2" height="57.7" filter="url(#F8)"/>
<g clip-path="url(#c7)"><g filter="url(#bl)">
<path d="M208.2 115.8h4.4M242.9 147.8h3.5" stroke="#d92623" stroke-opacity="0.4" stroke-width="1"/>
<path d="M195.2 105.8h3.1M203.7 111.8h4.1M245.2 113.8h1.8M194.3 117.8h3.5M206.8 119.8h1.3M218.3 133.8h2.7M188.5 139.8h3.6M211.1 141.8h3.3M195.3 154.8h2.1" stroke="#cb181d" stroke-opacity="0.4" stroke-width="1"/>
<path d="M210.3 110.8h1.8M214.4 120.8h1.7M189.9 135.8h1.8M226.3 146.8h9.7M239.7 150.8h3.4M189.5 158.8h1.2" stroke="#bc141a" stroke-opacity="0.4" stroke-width="1"/>
<path d="M254 103.8h1.6M253.2 104.8h5M190.2 125.8h13.9M190.7 129.8h16.1" stroke="#ad1117" stroke-opacity="0.4" stroke-width="1"/>
<path d="M217.3 121.8h2.1M214.8 127.8h3.1M210.4 138.8h3.4M239.2 145.8h6M193.1 152.8h4.5" stroke="#990c13" stroke-opacity="0.4" stroke-width="1"/>
<path d="M206.8 109.8h4.5M209.1 155.8h5.4M241.4 160.8h5.5" stroke="#800610" stroke-opacity="0.4" stroke-width="1"/>
<path d="M220.2 153.8h1.8M221.5 155.8h2.7" stroke="#fc9a7b" stroke-opacity="0.9" stroke-width="1"/>
<path d="M222.4 103.8h1.2M221 104.8h1.8M223.2 105.8h1.2M220.2 112.8h3.4M222 113.8h2.7M221.7 114.8h1.5M221 115.8h3.1M220.1 116.8h3.3M223.1 118.8h3.4M220.9 122.8h3.4M221.8 125.8h1.7M221.5 126.8h1M221.6 128.8h3.9M219.9 131.8h2.3M221.7 135.8h2.8M221.2 137.8h2.3M220.7 140.8h2M222.7 141.8h2.7M223.2 143.8h1.2M222.7 145.8h3.5M222.7 146.8h1.1M220.9 147.8h3.8M224 148.8h2.3M221.7 150.8h3.9M221.8 154.8h2.2M221.1 159.8h1.9" stroke="#fc8a6a" stroke-opacity="0.9" stroke-width="1"/>
<path d="M221.5 106.8h2.1M222.3 107.8h1M221.7 108.8h2.6M219.6 109.8h3.3M223.5 117.8h1.6M221.6 120.8h2.5M220.6 121.8h3.6M219.3 123.8h3M219.6 127.8h0.9M221.5 129.8h1.8M221.1 130.8h1.6M223.1 132.8h1.1M220.7 134.8h3M222 136.8h2.1M222 138.8h3.2M221.5 142.8h3.1M222.1 144.8h3.6M224.5 151.8h1.1M221.8 152.8h2.4M219.9 156.8h3.6M221.6 157.8h2.2M220.5 158.8h3.7" stroke="#fb7a5a" stroke-opacity="0.9" stroke-width="1"/>
<path d="M222.9 110.8h3.4M222.2 111.8h2.1M222 119.8h1.7M221.6 124.8h3.5M222.2 133.8h1.9M223.4 139.8h3M221 149.8h3M220.1 160.8h2.4" stroke="#fb6a4a" stroke-opacity="0.9" stroke-width="1"/>
</g></g>
<rect x="187.1" y="163" width="71.2" height="13" filter="url(#F9)"/>
<g clip-path="url(#c8)"><g filter="url(#bl)">
<path d="M247.4 170.5h5.7M199.7 174.5h2.1" stroke="#cb181d" stroke-opacity="0.4" stroke-width="1"/>
<path d="M213.5 169.5h4.7M217.8 172.5h1" stroke="#bc141a" stroke-opacity="0.4" stroke-width="1"/>
<path d="M247.4 165.5h2.7M212.8 167.5h2.2" stroke="#ad1117" stroke-opacity="0.4" stroke-width="1"/>
<path d="M215 163.5h3.6" stroke="#990c13" stroke-opacity="0.4" stroke-width="1"/>
<path d="M220.6 163.5h3.7M222.2 166.5h1.9M222.8 167.5h1.3M221.6 169.5h3.3M221.9 171.5h2.7M223.9 172.5h1.4M220.5 174.5h1.7" stroke="#fc8a6a" stroke-opacity="0.9" stroke-width="1"/>
<path d="M223.8 164.5h2.7M221.4 168.5h3.2M221.9 170.5h3.5" stroke="#fb7a5a" stroke-opacity="0.9" stroke-width="1"/>
<path d="M221.6 165.5h1.9M221.5 173.5h1M221.2 175.5h1.7" stroke="#fb6a4a" stroke-opacity="0.9" stroke-width="1"/>
</g></g>
<rect x="187.1" y="178" width="71.2" height="82.6" filter="url(#F10)"/>
<rect x="187.1" y="178" width="71.2" height="82.6" filter="url(#F11)" mask="url(#mM)"/>
<g clip-path="url(#c9)"><g filter="url(#bl)">
<path d="M207.1 192.5h4M237.5 229.5h2.6M238.5 255.5h4.5" stroke="#d92623" stroke-opacity="0.4" stroke-width="1"/>
<path d="M197.1 179.5h4M216.2 181.5h6.7M257.2 199.5h1.1M203.3 202.5h2.9M236.1 215.5h3.2M192.6 218.5h3.9M193.8 225.5h4.2M225.7 227.5h1.1M245.2 242.5h6.4M210.6 247.5h2.9M245.4 249.5h3.7M222.8 250.5h11.3" stroke="#cb181d" stroke-opacity="0.4" stroke-width="1"/>
<path d="M233.5 195.5h2.5M209.8 201.5h19.4M256.2 203.5h2.1M256.5 212.5h1.8M250.7 214.5h4.3M229.5 238.5h1.9M199.7 239.5h1.3M207.5 245.5h1.1M211.8 260.5h7.2" stroke="#bc141a" stroke-opacity="0.4" stroke-width="1"/>
<path d="M193.2 208.5h4.5M231.2 228.5h1.1M235.9 235.5h2.5M190.2 248.5h5.6" stroke="#ad1117" stroke-opacity="0.4" stroke-width="1"/>
<path d="M203 186.5h2M210.5 188.5h1.1M235.6 194.5h2.1M234.2 205.5h2.5M215.8 209.5h2M211.1 220.5h3.6M211.1 231.5h4.4M228.7 246.5h5.9" stroke="#990c13" stroke-opacity="0.4" stroke-width="1"/>
<path d="M239.7 191.5h9.6M193.5 197.5h2.3M221.2 256.5h3.5M216.7 257.5h3.8" stroke="#800610" stroke-opacity="0.4" stroke-width="1"/>
<path d="M222.1 198.5h1.6M220.5 206.5h3M223.8 212.5h10.7M225.1 213.5h2.3M221.9 224.5h2.7M210 230.5h13.2" stroke="#fc9a7b" stroke-opacity="0.9" stroke-width="1"/>
<path d="M232.8 195.5h2.2M223.5 201.5h5.1M215.8 233.5h3.3M214.1 237.5h6.8M218.8 238.5h1.7M211.7 242.5h1.8M220.4 252.5h3.1M216.4 256.5h6.5" stroke="#fc8a6a" stroke-opacity="0.9" stroke-width="1"/>
<path d="M219.5 192.5h3.2M217.7 194.5h2.7M210.7 204.5h2.5M217.8 205.5h1.6M223.5 210.5h3.8M214.9 216.5h2.8M217.2 222.5h3M221 240.5h2M219.2 243.5h2.7M218.2 254.5h2.3" stroke="#fb7a5a" stroke-opacity="0.9" stroke-width="1"/>
<path d="M216 217.5h2M216.1 220.5h4.9M215.9 226.5h3.2M216.5 231.5h4.6M229.1 251.5h2.1" stroke="#fb6a4a" stroke-opacity="0.9" stroke-width="1"/>
<path d="M221.5 244.5h6.4" stroke="#f6573e" stroke-opacity="0.9" stroke-width="1"/>
<path d="M225.2 196.5h2.7M216.2 208.5h2.3M219.5 221.5h2.9M229.3 223.5h5.1M219.9 232.5h2.4M223.3 234.5h7.9M219 247.5h4M219.6 253.5h4.5" stroke="#f14432" stroke-opacity="0.9" stroke-width="1"/>
<path d="M213 182.5h8.7M221.9 203.5h1.8M226.8 228.5h8M225.2 249.5h3.4M215.2 250.5h2.8M221.8 259.5h6.9" stroke="#e83429" stroke-opacity="0.9" stroke-width="1"/>
<path d="M221 188.5h2M222.2 195.5h2.7M220.5 198.5h2.2M218.8 199.5h4.4M219.8 202.5h2.1M219.9 204.5h3.4M221.7 214.5h2.3M223.3 216.5h2.7M222.4 217.5h1.8M219.7 224.5h4.5M221.8 225.5h3.1M221.3 225.5h3M221.1 226.5h3.2M219.8 227.5h1.7M223.5 228.5h3.1M220.2 233.5h2.8M223.9 233.5h2.3M221.2 239.5h2.7M218.2 239.5h2.8M220.9 244.5h2.2M224 246.5h3.5M219.3 249.5h2.7M217.8 254.5h4.6" stroke="#d92623" stroke-opacity="0.9" stroke-width="1"/>
<path d="M222 179.5h2.9M221.7 184.5h2.4M220.2 186.5h4.6M221.4 189.5h3.1M221.8 190.5h1.9M219.7 190.5h2.7M220.5 191.5h2.1M221.2 196.5h3.8M220.6 197.5h3.4M219.8 199.5h3.6M219.6 201.5h2.8M221.7 203.5h1.9M222.3 206.5h1.1M221.4 209.5h3.4M222.8 210.5h1.3M221.4 211.5h3.4M221.7 212.5h1.4M221.4 212.5h3.2M221.3 213.5h2M223.4 219.5h1.5M219.3 220.5h3.3M220.8 223.5h3.7M222.4 224.5h4.1M223.1 229.5h3.8M222.4 229.5h3M221.9 236.5h4.7M221.3 237.5h1.3M219.9 240.5h3.2M222.9 241.5h2.9M221.9 242.5h1.8M220.8 243.5h1.5M219.7 243.5h1.7M221 244.5h2M221.4 246.5h3M221.9 250.5h2.5M221.7 251.5h3.8M220 252.5h3.8M220.8 255.5h4.5M220.7 257.5h3.3M222.9 258.5h3M220.4 260.5h1.4" stroke="#cb181d" stroke-opacity="0.9" stroke-width="1"/>
<path d="M220.5 178.5h4.4M223.2 180.5h2.5M220.4 181.5h3.5M221.7 189.5h4.7M223.2 189.5h1.9M220.9 191.5h3.6M222.6 193.5h3.3M220.8 201.5h1.4M222.8 205.5h2.4M220.6 205.5h3.6M221 206.5h1.9M220.4 209.5h4.1M220.9 212.5h3.9M221.8 213.5h1.3M220.8 216.5h3.3M220.5 222.5h2.5M220.6 223.5h4.3M220.5 223.5h4M220.8 225.5h4.1M222.5 230.5h2M221.4 231.5h3.2M219.8 232.5h3.7M220.4 235.5h4.6M223.4 236.5h3.1M223.1 236.5h2.2M220.3 237.5h1.2M221.7 237.5h1.3M219.5 238.5h2.2M219.8 239.5h3.1M220 240.5h2.7M222 245.5h1.4M223.3 246.5h3.2M221.4 247.5h1.9M220.4 247.5h4.4M221 248.5h2.8M219.7 249.5h3M220.5 249.5h2.2M222.5 250.5h1.7M220.3 251.5h3.7M219 254.5h4.7M221.4 259.5h3.7M220.4 259.5h1.1M218 260.5h4.5M218.6 260.5h4.5" stroke="#bc141a" stroke-opacity="0.9" stroke-width="1"/>
<path d="M221.5 179.5h3M221.1 181.5h2.3M222.4 182.5h2M220.6 183.5h1.3M221.2 184.5h2.6M221 185.5h4.6M221.4 187.5h2.8M221.5 192.5h3.1M222.8 193.5h1.4M221.9 197.5h2.1M222.7 198.5h2.8M219.5 198.5h4.6M219.2 201.5h4.2M221 204.5h1.8M222 206.5h3.5M223.4 207.5h4.2M221.1 208.5h2.7M221.4 208.5h1.7M222.1 210.5h4.3M219.7 211.5h4.6M220.7 213.5h4.6M220.7 217.5h4.4M220.8 220.5h1.2M220.7 220.5h4.3M221.6 221.5h2.4M222 222.5h2.1M221.9 226.5h2.6M224.5 227.5h1.9M221.1 227.5h1.1M221.2 228.5h4.1M220.3 232.5h4M223 234.5h2M219.7 238.5h3.4M218.2 239.5h4.3M221.2 241.5h2.7M219.6 243.5h1.5M220.8 245.5h3.3M218.4 248.5h4.4M222.7 250.5h1.9M220.1 251.5h3.2M223.6 256.5h1.3M222.5 257.5h4.2M221.2 258.5h3.8" stroke="#ad1117" stroke-opacity="0.9" stroke-width="1"/>
<path d="M219.3 178.5h4.1M222 181.5h4.1M222 182.5h4.1M221.2 183.5h1.7M221 185.5h3.5M220.1 186.5h4M220.4 188.5h1.5M222.9 194.5h1.3M223.3 194.5h1.5M222.2 196.5h3.6M220.9 196.5h4.5M219.2 200.5h2.7M220.3 200.5h4.3M219.9 200.5h3.3M218.7 203.5h4.1M221.9 203.5h3M219.5 208.5h3.8M221.7 211.5h3.1M222 214.5h2.6M224.2 215.5h1.2M224 215.5h1.4M221.7 216.5h2.2M221.7 218.5h1.5M219.7 218.5h1.6M220.5 218.5h3.1M220.5 219.5h2.4M220.6 221.5h2.4M221 221.5h4.2M224.8 227.5h2.2M220.9 230.5h1.5M221.5 231.5h2.8M220.2 231.5h3.2M222.7 233.5h2.4M222.1 234.5h1.9M222.9 234.5h3.4M224.7 235.5h2.6M221.1 241.5h2M220.7 242.5h3.4M220.7 244.5h3.2M219.6 248.5h3.5M218.4 252.5h3.5M222.5 252.5h3.9M220.6 253.5h3.1" stroke="#990c13" stroke-opacity="0.9" stroke-width="1"/>
<path d="M222.1 178.5h3.2M222.7 179.5h2.5M221.6 180.5h2.7M222 183.5h2.5M223.4 184.5h1.3M220.7 187.5h3.1M220.7 187.5h1.8M221.2 188.5h3.5M222.6 191.5h4.5M220.3 192.5h2.2M221.6 193.5h3.9M223.2 195.5h1.5M220 199.5h3.3M218.1 202.5h4.1M221.1 202.5h2M221.3 207.5h1.3M220.3 222.5h3.2M220.2 224.5h4M221.4 229.5h4.5M222.1 235.5h3.5M219.8 238.5h3.8M221.5 253.5h4.5M221.3 253.5h2.6M221.4 255.5h1.6M223.4 256.5h3.4M221 257.5h4.7" stroke="#800610" stroke-opacity="0.9" stroke-width="1"/>
</g></g>
<rect x="187.1" y="103.3" width="71.2" height="157.3" fill="none" stroke="#7a7a7a" stroke-width="1"/>
<rect x="186.6" y="161" width="72.2" height="2" fill="#a2a2a2"/>
<rect x="186.6" y="176" width="72.2" height="2" fill="#5a5a5a"/>
<path d="M187.1 260.6v2.6" stroke="#777" stroke-width="0.8"/>
<path d="M222.7 260.6v2.6" stroke="#777" stroke-width="0.8"/>
<path d="M258.3 260.6v2.6" stroke="#777" stroke-width="0.8"/>
<text x="188.3" y="270.5" font-size="7" text-anchor="middle" fill="#222">-2.5</text>
<text x="222.7" y="270.5" font-size="7" text-anchor="middle" fill="#222">peak center</text>
<text x="260.9" y="270.5" font-size="7" text-anchor="end" fill="#222">2.5Kb</text>
<text x="309.3" y="28" font-size="13.3" text-anchor="middle" fill="#000" textLength="40.73" lengthAdjust="spacingAndGlyphs">T-CD4</text>
<path d="M270.4 93.5V30.6H341.6V93.5" fill="none" stroke="#8a8a8a" stroke-width="1"/>
<path d="M270.4 93.5H341.6" stroke="#666" stroke-width="1"/>
<path d="M270.4 93.5v2.4" stroke="#666" stroke-width="0.9"/>
<path d="M306 93.5v2.4" stroke="#666" stroke-width="0.9"/>
<path d="M341.6 93.5v2.4" stroke="#666" stroke-width="0.9"/>
<g fill="none" stroke-width="1.15" stroke-linejoin="round">
<path d="M270.4 88.9 L271.2 88.7 L272 88.6 L272.8 89.1 L273.6 89.1 L274.4 89.2 L275.1 89.1 L275.9 89 L276.7 89.2 L277.5 89.1 L278.3 89.3 L279.1 89.3 L279.9 89.4 L280.7 89.2 L281.5 88.8 L282.3 88.6 L283.1 88.9 L283.8 88.7 L284.6 88.9 L285.4 89 L286.2 88.6 L287 89 L287.8 88.6 L288.6 89.1 L289.4 89.3 L290.2 88.9 L291 89.1 L291.8 89.2 L292.6 88.8 L293.3 89 L294.1 88.7 L294.9 89.1 L295.7 89.2 L296.5 89.4 L297.3 88.8 L298.1 88.7 L298.9 88.8 L299.7 88.9 L300.5 88.5 L301.3 88.8 L302 88.8 L302.8 88.2 L303.6 87.5 L304.4 87.2 L305.2 86.1 L306 84.8 L306.8 86.2 L307.6 87.1 L308.4 87.4 L309.2 87.6 L310 88.1 L310.7 88.6 L311.5 88.6 L312.3 88.9 L313.1 88.9 L313.9 89.2 L314.7 89.2 L315.5 88.9 L316.3 88.6 L317.1 88.4 L317.9 88.2 L318.7 88.8 L319.4 89.1 L320.2 89.2 L321 88.7 L321.8 88.9 L322.6 88.6 L323.4 89 L324.2 89.1 L325 89.2 L325.8 89.1 L326.6 88.9 L327.4 89.2 L328.2 89.4 L328.9 88.9 L329.7 88.8 L330.5 89 L331.3 89.1 L332.1 88.9 L332.9 88.8 L333.7 89.2 L334.5 88.8 L335.3 88.6 L336.1 88.8 L336.9 88.7 L337.6 89 L338.4 88.8 L339.2 89.1 L340 88.9 L340.8 89.2 L341.6 89.2" stroke="#0c0c82"/>
<path d="M270.4 88.6 L271.2 87.8 L272 87.8 L272.8 87.7 L273.6 88.3 L274.4 88.6 L275.1 89.1 L275.9 88.2 L276.7 88.2 L277.5 87.6 L278.3 87.6 L279.1 88 L279.9 87.5 L280.7 87.5 L281.5 88.1 L282.3 88.3 L283.1 88 L283.8 88.3 L284.6 88.8 L285.4 88 L286.2 88.6 L287 88.8 L287.8 88.4 L288.6 88 L289.4 88.8 L290.2 88.4 L291 87.9 L291.8 87.6 L292.6 88.5 L293.3 88.6 L294.1 89 L294.9 89.1 L295.7 88.8 L296.5 89.3 L297.3 88.7 L298.1 88.6 L298.9 88.9 L299.7 88.6 L300.5 88.7 L301.3 88.2 L302 87.7 L302.8 86 L303.6 84.5 L304.4 82.5 L305.2 78.9 L306 73.8 L306.8 78.8 L307.6 82.2 L308.4 84.8 L309.2 86 L310 86.8 L310.7 87.1 L311.5 87.3 L312.3 88.4 L313.1 88.7 L313.9 88.7 L314.7 88.2 L315.5 88.6 L316.3 88.1 L317.1 88.1 L317.9 89 L318.7 89 L319.4 88.9 L320.2 89 L321 89.3 L321.8 89.3 L322.6 88.6 L323.4 87.9 L324.2 87.9 L325 87.9 L325.8 87.8 L326.6 88.8 L327.4 89.2 L328.2 88.7 L328.9 88.8 L329.7 88.6 L330.5 89.1 L331.3 88.8 L332.1 88.4 L332.9 88.1 L333.7 88.4 L334.5 88.2 L335.3 88.5 L336.1 89.1 L336.9 88.7 L337.6 88.3 L338.4 89.1 L339.2 88.9 L340 88.2 L340.8 87.7 L341.6 87.6" stroke="#14d2f5"/>
<path d="M270.4 87.7 L271.2 88 L272 87.8 L272.8 87.8 L273.6 88 L274.4 88.2 L275.1 88.1 L275.9 88 L276.7 87.7 L277.5 87.8 L278.3 87.8 L279.1 88.1 L279.9 88 L280.7 88.1 L281.5 88 L282.3 87.8 L283.1 88 L283.8 88.1 L284.6 87.9 L285.4 87.6 L286.2 87.6 L287 87.6 L287.8 87.7 L288.6 87.6 L289.4 87.5 L290.2 87.3 L291 87 L291.8 86.6 L292.6 86.1 L293.3 86.3 L294.1 86 L294.9 85.3 L295.7 84.9 L296.5 84 L297.3 82.7 L298.1 81.7 L298.9 80.2 L299.7 78.5 L300.5 76.1 L301.3 72.8 L302 69.3 L302.8 65 L303.6 59.6 L304.4 52.5 L305.2 44.1 L306 33.7 L306.8 43.9 L307.6 52.6 L308.4 59.6 L309.2 64.7 L310 69.3 L310.7 72.8 L311.5 75.6 L312.3 78.1 L313.1 80.3 L313.9 81.7 L314.7 82.7 L315.5 83.7 L316.3 84.7 L317.1 85.6 L317.9 86.1 L318.7 86.1 L319.4 86.8 L320.2 87 L321 86.9 L321.8 86.9 L322.6 87 L323.4 87.4 L324.2 87.3 L325 87.7 L325.8 87.5 L326.6 87.7 L327.4 87.7 L328.2 87.5 L328.9 87.4 L329.7 87.9 L330.5 88.2 L331.3 87.9 L332.1 88.1 L332.9 88.3 L333.7 88.4 L334.5 88.4 L335.3 88.1 L336.1 88.2 L336.9 88.1 L337.6 88.3 L338.4 88.3 L339.2 88.4 L340 88.4 L340.8 88.2 L341.6 88.2" stroke="#ffdf10"/>
</g>
<rect x="270.4" y="103.3" width="71.2" height="57.7" filter="url(#F12)"/>
<g clip-path="url(#c10)"><g filter="url(#bl)">
<path d="M289.4 133.8h4.3M323.4 142.8h4.1M293.8 150.8h10M296.3 152.8h9.3" stroke="#7363ac" stroke-opacity="0.4" stroke-width="1"/>
<path d="M316.3 109.8h4.5M337.5 110.8h2.6M331.1 111.8h6M278.5 119.8h6.8M301.3 120.8h1.3M299.3 121.8h7.6M303.5 134.8h1.5M310.8 136.8h2.4M321.2 139.8h1.7M334.6 140.8h2.2M304 147.8h1.1" stroke="#6a51a3" stroke-opacity="0.4" stroke-width="1"/>
<path d="M308.8 114.8h4.3M288.4 124.8h2.2M294.4 128.8h1.4M286.5 129.8h3.8M293 132.8h3.9M335.3 143.8h6.3M317.4 145.8h5.1M285 146.8h6.4M279.6 148.8h2M329.5 149.8h8M275.4 154.8h1.4M290.8 155.8h1.7M330.9 157.8h5.1M339.2 160.8h2.4" stroke="#61409b" stroke-opacity="0.4" stroke-width="1"/>
<path d="M326.4 104.8h5.1M289.3 126.8h2.7M289.7 144.8h2.4" stroke="#582f93" stroke-opacity="0.4" stroke-width="1"/>
<path d="M291.6 130.8h3.6M283 135.8h1.4M332.4 137.8h2M331.4 156.8h4.5" stroke="#501f8b" stroke-opacity="0.4" stroke-width="1"/>
<path d="M294.2 105.8h1.8" stroke="#471084" stroke-opacity="0.4" stroke-width="1"/>
</g></g>
<rect x="270.4" y="163" width="71.2" height="13" filter="url(#F13)"/>
<g clip-path="url(#c11)"><g filter="url(#bl)">
<path d="M276.5 163.5h5.4M274 165.5h1.8M301.2 174.5h2.3" stroke="#6a51a3" stroke-opacity="0.4" stroke-width="1"/>
<path d="M305.3 166.5h7.6" stroke="#61409b" stroke-opacity="0.4" stroke-width="1"/>
<path d="M320.7 175.5h5.1" stroke="#582f93" stroke-opacity="0.4" stroke-width="1"/>
<path d="M298 171.5h2.6" stroke="#501f8b" stroke-opacity="0.4" stroke-width="1"/>
<path d="M304.5 163.5h1.9M303.5 166.5h1.1M303.1 167.5h3.9M303.4 168.5h3.8M303.9 170.5h3.4M304.1 175.5h3.3" stroke="#aaa8d0" stroke-opacity="0.9" stroke-width="1"/>
<path d="M304.7 164.5h2.2M304 172.5h3.3M303.3 174.5h3.6" stroke="#9e9ac8" stroke-opacity="0.9" stroke-width="1"/>
<path d="M303.3 165.5h3.1M305.2 169.5h1.9M303.3 171.5h3.3M304.2 173.5h3.7" stroke="#928ec2" stroke-opacity="0.9" stroke-width="1"/>
</g></g>
<rect x="270.4" y="178" width="71.2" height="82.6" filter="url(#F14)"/>
<rect x="270.4" y="178" width="71.2" height="82.6" filter="url(#F15)" mask="url(#mM)"/>
<g clip-path="url(#c12)"><g filter="url(#bl)">
<path d="M338.1 221.5h1.5M339.3 232.5h2.3M326.1 245.5h6.2" stroke="#7363ac" stroke-opacity="0.4" stroke-width="1"/>
<path d="M335.5 188.5h1.2M282.2 205.5h1.5M331.8 210.5h1.9M329.6 215.5h1.2M308.1 219.5h1.1M295.4 225.5h1.8M293.7 227.5h4.9M277.8 243.5h2M329.4 244.5h1.3M332 256.5h1.1M304.2 257.5h1.8M324 258.5h5" stroke="#6a51a3" stroke-opacity="0.4" stroke-width="1"/>
<path d="M273.4 181.5h1.4M281.5 186.5h2.1M332.4 208.5h7.9M329.9 211.5h3.7M294.8 216.5h1.8M292 226.5h3.4M275.2 234.5h6.2M301.3 237.5h7.9M319.2 239.5h7.6M314.5 247.5h2.4" stroke="#61409b" stroke-opacity="0.4" stroke-width="1"/>
<path d="M298.5 182.5h5.5M305.9 185.5h11.2M338 187.5h1.4M314.3 199.5h3.8M290.8 204.5h2.1M334.5 206.5h1M299.4 223.5h2.8M303.4 224.5h1M332.5 238.5h2.2" stroke="#582f93" stroke-opacity="0.4" stroke-width="1"/>
<path d="M333.4 178.5h2.6M284.5 214.5h6M312.7 217.5h3.3M278.9 259.5h9.8" stroke="#501f8b" stroke-opacity="0.4" stroke-width="1"/>
<path d="M302.8 184.5h5M321.3 255.5h3.5" stroke="#471084" stroke-opacity="0.4" stroke-width="1"/>
<path d="M301.5 181.5h1.7M305.8 193.5h5.8M300.7 198.5h2M303.1 214.5h1.8M299.3 240.5h2M310.3 253.5h1.7" stroke="#c2c3df" stroke-opacity="0.9" stroke-width="1"/>
<path d="M303.6 190.5h4.1M305.7 194.5h4.4M305.8 195.5h3.7M300.7 235.5h1.9M308.9 254.5h2M307.6 255.5h2.9M304.1 260.5h3.6" stroke="#b6b6d8" stroke-opacity="0.9" stroke-width="1"/>
<path d="M298.6 180.5h1.7M299.6 197.5h3.5M302.5 211.5h1.8M304.9 213.5h1.9M303.9 230.5h3.3M304.3 232.5h2.1M304.8 237.5h4.4M308.7 238.5h8M301.2 248.5h4.3M299.5 250.5h4.3" stroke="#aaa8d0" stroke-opacity="0.9" stroke-width="1"/>
<path d="M299.4 204.5h14.9M307.6 221.5h2.8M302.7 251.5h3M311.7 256.5h4.1" stroke="#9e9ac8" stroke-opacity="0.9" stroke-width="1"/>
<path d="M305.1 207.5h5.2M304 215.5h7.1" stroke="#928ec2" stroke-opacity="0.9" stroke-width="1"/>
<path d="M298 178.5h3.6M303.1 182.5h3.9M300 183.5h9.9M294.6 202.5h6.7M306 206.5h4M304.3 217.5h3M306.4 218.5h2.9M300.4 236.5h2.4M301.6 239.5h2M304 245.5h3.6" stroke="#8683bd" stroke-opacity="0.9" stroke-width="1"/>
<path d="M298 228.5h3.5M302.6 229.5h2" stroke="#7c74b5" stroke-opacity="0.9" stroke-width="1"/>
<path d="M303.6 187.5h2.7M304.5 189.5h2.7M305.7 199.5h4.7M305.5 203.5h1.5M304.8 208.5h2.3M303.1 210.5h4.7M302.8 212.5h4.2M304.2 215.5h2.9M298.5 222.5h7.2M304.3 224.5h1.3M301.8 234.5h1.7M302.9 247.5h3.2M305.2 256.5h2.4" stroke="#7363ac" stroke-opacity="0.9" stroke-width="1"/>
<path d="M305.3 185.5h2.8M303.4 187.5h1.7M302.2 189.5h3.8M306.2 190.5h1.3M304 191.5h4.6M305.4 192.5h3.2M303.6 193.5h4.5M305.4 195.5h2.2M305 196.5h2.4M305 198.5h3M303.9 200.5h2.4M306.8 204.5h1.8M305.5 206.5h3.7M304.2 212.5h2.4M305.3 214.5h1.8M301.4 215.5h1.6M303.9 216.5h4.1M304.4 217.5h2.4M304.1 220.5h3.7M304.5 221.5h3.5M305.3 221.5h2.5M303.9 224.5h4.3M305.9 231.5h1.5M304.6 231.5h2.4M302 232.5h4.3M305.2 233.5h1.7M304.4 240.5h4.4M305.2 243.5h2.6M305.6 251.5h1.9M305.5 251.5h3.8M305.5 252.5h4.2M305.3 256.5h1.8M305.5 257.5h3.3M307.3 259.5h1.2M305.1 259.5h1.8M306.4 259.5h2" stroke="#6a51a3" stroke-opacity="0.9" stroke-width="1"/>
<path d="M303.4 179.5h3.9M305 181.5h1.3M305.8 186.5h4.1M304.6 186.5h3.6M305.9 194.5h1.4M306.7 199.5h1.7M303.6 200.5h2.9M306 201.5h2.2M303.6 202.5h2.7M303.8 206.5h1.7M306 207.5h2.1M302.4 210.5h3.8M305.3 216.5h3.4M303.6 218.5h4.2M304.2 222.5h2.6M305.1 223.5h1.7M305.4 224.5h1.3M304.9 227.5h1.2M304.6 229.5h3.8M303.8 229.5h3M301 233.5h4.4M304.3 234.5h2.1M303 235.5h3.6M303.1 236.5h1.8M304.1 239.5h3.1M304 240.5h1.4M303.9 241.5h2.1M305.5 243.5h1.6M305 245.5h3.5M302.2 247.5h3.8M302.9 248.5h3.1M306.1 248.5h2.2M303.3 249.5h2M305.6 251.5h2.3M305.6 254.5h2.7M305.2 256.5h3.6M303.8 260.5h4.1M303.7 260.5h3.8" stroke="#61409b" stroke-opacity="0.9" stroke-width="1"/>
<path d="M305.6 179.5h3.3M303 180.5h3.1M306 181.5h2.7M305.3 183.5h2.5M303.7 187.5h4.3M305.6 188.5h1.2M306.6 192.5h1.3M301.7 193.5h3.6M305.3 194.5h2.2M305.4 196.5h1.1M305 197.5h4.6M304.4 198.5h3.1M303.4 202.5h4M303.7 202.5h2.4M305.9 204.5h1.3M305.5 204.5h4.4M303.1 205.5h4.6M305.2 206.5h3.5M305.6 207.5h3.8M305.1 208.5h1.1M305.1 210.5h2.6M305 211.5h3.1M303.8 211.5h1.4M302.8 212.5h3.3M304.7 216.5h1.3M304.2 220.5h4.3M304.5 221.5h4.3M304.1 225.5h4.2M303.2 225.5h2.3M303.5 226.5h3M305.2 227.5h3.8M306.7 227.5h1.8M303.9 229.5h2M303 234.5h2.3M303.1 235.5h4.1M302 236.5h2.8M301.8 236.5h3.8M305.1 238.5h3.3M303.3 238.5h2.9M304.5 242.5h1.2M304.3 245.5h4.1M303.9 246.5h4.2M303.9 247.5h4.4M303 249.5h3.3M305 250.5h3.4M304.7 253.5h2" stroke="#582f93" stroke-opacity="0.9" stroke-width="1"/>
<path d="M304.4 178.5h2M303 180.5h4M304.5 182.5h3.9M303.7 182.5h1.5M302.6 182.5h3.8M302.9 184.5h4.4M304.9 185.5h2M302.9 190.5h4.5M304.2 191.5h4.1M302.6 193.5h4.5M304.4 194.5h1.3M306.6 195.5h2.3M303.4 197.5h4.6M305.3 199.5h2.7M303 201.5h3.7M304 203.5h2.2M306.1 205.5h1.1M304.9 205.5h3.7M302.1 208.5h3.6M305.4 209.5h2.8M303.4 211.5h4.7M303.3 214.5h3.6M305.3 217.5h2.8M304.4 218.5h2.4M306.2 219.5h3.2M305.7 219.5h1.3M304.6 222.5h3.7M303.8 223.5h4.3M305.9 225.5h1.5M304.6 228.5h2.9M305.3 228.5h2.3M304.7 231.5h3.6M304.8 232.5h1.6M304.6 235.5h1.7M304 237.5h3.5M302.6 240.5h4.6M303.5 241.5h4.3M303.9 242.5h2.4M307.1 244.5h2.4M305.4 245.5h3.6M305.5 246.5h3.2M305.7 250.5h3.5M304.9 252.5h4.1M304.2 253.5h4.2M304.7 253.5h2M304.8 255.5h4M304.7 255.5h3.9M305.1 257.5h3.6M306 258.5h3.1M307.4 258.5h2M306.3 258.5h1.5" stroke="#501f8b" stroke-opacity="0.9" stroke-width="1"/>
<path d="M303.5 178.5h4.5M306.7 183.5h1.5M305.1 184.5h3.6M304.3 185.5h3M301.9 188.5h3.6M304.6 192.5h3.6M303.8 200.5h2.1M304.6 209.5h1.9M305.6 213.5h1.8M304.7 213.5h2.1M306.3 222.5h1.7M304.2 226.5h2.5M302.9 230.5h2.8M303 230.5h2.4M302.9 233.5h4M303.1 234.5h4.4M305.9 237.5h1.2M304.6 239.5h2.8M304.4 239.5h2.1M302.2 241.5h3.3M304.2 244.5h2.9M304.6 246.5h3M303.6 254.5h4.3M305.3 260.5h4.1" stroke="#471084" stroke-opacity="0.9" stroke-width="1"/>
</g></g>
<rect x="270.4" y="103.3" width="71.2" height="157.3" fill="none" stroke="#7a7a7a" stroke-width="1"/>
<rect x="269.9" y="161" width="72.2" height="2" fill="#a2a2a2"/>
<rect x="269.9" y="176" width="72.2" height="2" fill="#5a5a5a"/>
<path d="M270.4 260.6v2.6" stroke="#777" stroke-width="0.8"/>
<path d="M306 260.6v2.6" stroke="#777" stroke-width="0.8"/>
<path d="M341.6 260.6v2.6" stroke="#777" stroke-width="0.8"/>
<text x="271.6" y="270.5" font-size="7" text-anchor="middle" fill="#222">-2.5</text>
<text x="306" y="270.5" font-size="7" text-anchor="middle" fill="#222">peak center</text>
<text x="344.2" y="270.5" font-size="7" text-anchor="end" fill="#222">2.5Kb</text>
<text x="19" y="132.7" font-size="9.5" text-anchor="middle" fill="#000" font-weight="bold" transform="rotate(-90 19 132.7)">14</text>
<text x="19" y="169.5" font-size="9.5" text-anchor="middle" fill="#000" font-weight="bold" transform="rotate(-90 19 169.5)">4</text>
<text x="19" y="218.8" font-size="9.5" text-anchor="middle" fill="#000" font-weight="bold" transform="rotate(-90 19 218.8)">1</text>
<text x="398.1" y="28" font-size="13.3" text-anchor="middle" fill="#000" textLength="25.89" lengthAdjust="spacingAndGlyphs">LSK</text>
<path d="M362.5 92.3V30.6H433.7V92.3" fill="none" stroke="#8a8a8a" stroke-width="1"/>
<path d="M362.5 92.3H433.7" stroke="#666" stroke-width="1"/>
<path d="M362.5 92.3v2.4" stroke="#666" stroke-width="0.9"/>
<path d="M398.1 92.3v2.4" stroke="#666" stroke-width="0.9"/>
<path d="M433.7 92.3v2.4" stroke="#666" stroke-width="0.9"/>
<g fill="none" stroke-width="1.15" stroke-linejoin="round">
<path d="M362.5 68.4 L363.3 68 L364.1 68 L364.9 67.2 L365.7 66.9 L366.5 66.3 L367.2 66.1 L368 65.6 L368.8 65.6 L369.6 65.2 L370.4 64.1 L371.2 63.6 L372 62.8 L372.8 60.9 L373.6 59.8 L374.4 58.6 L375.2 57.6 L375.9 57.2 L376.7 57.2 L377.5 56.2 L378.3 54.8 L379.1 53.3 L379.9 52 L380.7 50.6 L381.5 49.3 L382.3 48.3 L383.1 48.3 L383.9 47.7 L384.7 46.5 L385.4 44.5 L386.2 43.3 L387 42.5 L387.8 43.1 L388.6 45.1 L389.4 46.8 L390.2 47.8 L391 48.2 L391.8 50.8 L392.6 55.4 L393.4 59.7 L394.1 62.3 L394.9 62.3 L395.7 64.9 L396.5 68.5 L397.3 72.3 L398.1 73.9 L398.9 73.4 L399.7 71.4 L400.5 68.8 L401.3 66.1 L402.1 64.3 L402.8 63.4 L403.6 62.8 L404.4 60.3 L405.2 57.7 L406 54.1 L406.8 50.7 L407.6 49 L408.4 47.4 L409.2 46.9 L410 48.1 L410.8 49.3 L411.5 49.9 L412.3 51.8 L413.1 52.6 L413.9 53.4 L414.7 54.1 L415.5 55.1 L416.3 55.4 L417.1 56.2 L417.9 57.4 L418.7 58.4 L419.5 59.3 L420.3 60.4 L421 61.5 L421.8 62.6 L422.6 62.5 L423.4 62.7 L424.2 63.5 L425 64.4 L425.8 65.6 L426.6 66.8 L427.4 67.7 L428.2 68.4 L429 69.1 L429.7 69.5 L430.5 69.3 L431.3 69.5 L432.1 70.1 L432.9 70.6 L433.7 70.8" stroke="#0c0c82"/>
<path d="M362.5 78 L363.3 77.3 L364.1 77.9 L364.9 77.4 L365.7 77 L366.5 76.9 L367.2 76.2 L368 75.7 L368.8 75.7 L369.6 75.5 L370.4 75.9 L371.2 75.7 L372 75.2 L372.8 74.4 L373.6 73.4 L374.4 73.1 L375.2 72.8 L375.9 71.5 L376.7 71.2 L377.5 70.2 L378.3 70.4 L379.1 69.6 L379.9 69 L380.7 67.7 L381.5 66.7 L382.3 65.1 L383.1 62.5 L383.9 60.4 L384.7 59.2 L385.4 58 L386.2 57.4 L387 57.7 L387.8 55.5 L388.6 50.7 L389.4 46.6 L390.2 45 L391 45 L391.8 43 L392.6 39.5 L393.4 36.4 L394.1 34.2 L394.9 34.5 L395.7 37.3 L396.5 37.7 L397.3 38.5 L398.1 39.3 L398.9 38.9 L399.7 39 L400.5 37.7 L401.3 37.6 L402.1 37 L402.8 36.3 L403.6 37 L404.4 40.1 L405.2 43.1 L406 46.1 L406.8 49.2 L407.6 50.6 L408.4 50.4 L409.2 52.3 L410 54 L410.8 56.5 L411.5 58.7 L412.3 61.5 L413.1 63 L413.9 64.6 L414.7 65.1 L415.5 64.8 L416.3 66.8 L417.1 68.6 L417.9 69.8 L418.7 71.8 L419.5 72.9 L420.3 73.2 L421 73 L421.8 73.4 L422.6 74.5 L423.4 74 L424.2 74.5 L425 75.3 L425.8 75 L426.6 75.3 L427.4 75.3 L428.2 75.5 L429 75.2 L429.7 75.8 L430.5 75.3 L431.3 74.7 L432.1 74.3 L432.9 74.3 L433.7 74.1" stroke="#14d2f5"/>
<path d="M362.5 89.4 L363.3 89.4 L364.1 89.3 L364.9 89.2 L365.7 89.1 L366.5 88.8 L367.2 88.1 L368 87.7 L368.8 87.6 L369.6 87.4 L370.4 87.7 L371.2 87.6 L372 87.1 L372.8 86.4 L373.6 85.5 L374.4 84.9 L375.2 84.3 L375.9 83.2 L376.7 82.6 L377.5 82.1 L378.3 82 L379.1 81.7 L379.9 80.8 L380.7 80.1 L381.5 78.7 L382.3 77.4 L383.1 76.2 L383.9 74.7 L384.7 73.7 L385.4 72.8 L386.2 71.9 L387 71.3 L387.8 69.3 L388.6 65.9 L389.4 61.8 L390.2 58.8 L391 56.6 L391.8 55.7 L392.6 51.7 L393.4 45.2 L394.1 39.1 L394.9 35.5 L395.7 35.7 L396.5 36.6 L397.3 36.9 L398.1 37.3 L398.9 37.4 L399.7 37.5 L400.5 37 L401.3 36.8 L402.1 36.8 L402.8 38 L403.6 43.3 L404.4 50.2 L405.2 54.7 L406 55.7 L406.8 58.4 L407.6 62.4 L408.4 67.2 L409.2 71.5 L410 74.3 L410.8 74.8 L411.5 75.3 L412.3 76.7 L413.1 78.5 L413.9 80.4 L414.7 82.5 L415.5 83.9 L416.3 85.1 L417.1 85.8 L417.9 86 L418.7 86.3 L419.5 86.8 L420.3 86.9 L421 87.5 L421.8 88.2 L422.6 88.7 L423.4 88.9 L424.2 88.8 L425 88.8 L425.8 89 L426.6 89.2 L427.4 89 L428.2 89 L429 89 L429.7 88.9 L430.5 89.4 L431.3 89.3 L432.1 89.3 L432.9 89.6 L433.7 89.7" stroke="#ffdf10"/>
</g>
<rect x="362.5" y="103.3" width="71.2" height="57.7" filter="url(#F16)"/>
<rect x="362.5" y="163" width="71.2" height="13" filter="url(#F17)"/>
<rect x="362.5" y="178" width="71.2" height="82.6" filter="url(#F18)"/>
<rect x="362.5" y="178" width="71.2" height="82.6" filter="url(#F19)" mask="url(#mX)"/>
<rect x="362.5" y="103.3" width="71.2" height="157.3" fill="none" stroke="#7a7a7a" stroke-width="1"/>
<rect x="362" y="161" width="72.2" height="2" fill="#a2a2a2"/>
<rect x="362" y="176" width="72.2" height="2" fill="#5a5a5a"/>
<path d="M362.5 260.6v2.6" stroke="#777" stroke-width="0.8"/>
<path d="M398.1 260.6v2.6" stroke="#777" stroke-width="0.8"/>
<path d="M433.7 260.6v2.6" stroke="#777" stroke-width="0.8"/>
<text x="363.7" y="270.5" font-size="7" text-anchor="middle" fill="#222">-2.5</text>
<text x="398.1" y="270.5" font-size="7" text-anchor="middle" fill="#222">peak center</text>
<text x="436.3" y="270.5" font-size="7" text-anchor="end" fill="#222">2.5Kb</text>
<text x="481" y="28" font-size="13.3" text-anchor="middle" fill="#000" textLength="31.20" lengthAdjust="spacingAndGlyphs">GMP</text>
<path d="M445.4 92.3V30.6H516.6V92.3" fill="none" stroke="#8a8a8a" stroke-width="1"/>
<path d="M445.4 92.3H516.6" stroke="#666" stroke-width="1"/>
<path d="M445.4 92.3v2.4" stroke="#666" stroke-width="0.9"/>
<path d="M481 92.3v2.4" stroke="#666" stroke-width="0.9"/>
<path d="M516.6 92.3v2.4" stroke="#666" stroke-width="0.9"/>
<g fill="none" stroke-width="1.15" stroke-linejoin="round">
<path d="M445.4 68 L446.2 66.7 L447 66.6 L447.8 64.8 L448.6 63.2 L449.4 63.2 L450.1 61.3 L450.9 61 L451.7 58.8 L452.5 57.2 L453.3 56.4 L454.1 57.2 L454.9 57.7 L455.7 56.9 L456.5 55.2 L457.3 53.5 L458.1 52.5 L458.8 51.6 L459.6 51.7 L460.4 51.8 L461.2 50.7 L462 49.9 L462.8 50.2 L463.6 49.2 L464.4 46.6 L465.2 46.3 L466 44.6 L466.8 43.2 L467.6 43.2 L468.3 43 L469.1 43.1 L469.9 44.3 L470.7 46.6 L471.5 49.6 L472.3 51.6 L473.1 51.4 L473.9 50.9 L474.7 52.1 L475.5 53.6 L476.3 56.5 L477 58.6 L477.8 59.5 L478.6 61.2 L479.4 62.7 L480.2 63 L481 61.6 L481.8 60.6 L482.6 58.4 L483.4 58.9 L484.2 57.6 L485 56.1 L485.7 55 L486.5 52.9 L487.3 53.2 L488.1 53 L488.9 53.3 L489.7 53.2 L490.5 53.7 L491.3 54.7 L492.1 56.1 L492.9 55.5 L493.7 56.5 L494.4 57.2 L495.2 55.7 L496 56.1 L496.8 55.5 L497.6 54.8 L498.4 56.4 L499.2 55.6 L500 55.6 L500.8 56.2 L501.6 56.3 L502.4 57.8 L503.2 60.4 L503.9 62.1 L504.7 62.8 L505.5 64.5 L506.3 64.8 L507.1 67.2 L507.9 69.3 L508.7 71.8 L509.5 71 L510.3 71.8 L511.1 71.6 L511.9 71.5 L512.6 71.7 L513.4 70.8 L514.2 69.9 L515 70.6 L515.8 70.7 L516.6 70.3" stroke="#0c0c82"/>
<path d="M445.4 83.6 L446.2 84.3 L447 84 L447.8 85 L448.6 84.5 L449.4 83.8 L450.1 84.3 L450.9 82.7 L451.7 83.3 L452.5 82.4 L453.3 82.6 L454.1 83.4 L454.9 83 L455.7 81.9 L456.5 81.3 L457.3 78.6 L458.1 77.8 L458.8 78.1 L459.6 77.8 L460.4 76.6 L461.2 75.5 L462 75.1 L462.8 74.2 L463.6 71.8 L464.4 71.5 L465.2 69.3 L466 66.7 L466.8 63.4 L467.6 61.4 L468.3 60.1 L469.1 58.8 L469.9 58.6 L470.7 57.3 L471.5 55.9 L472.3 54 L473.1 49.3 L473.9 46.1 L474.7 45.9 L475.5 43.9 L476.3 42.8 L477 41.4 L477.8 38.9 L478.6 35.7 L479.4 35 L480.2 35.2 L481 34.6 L481.8 37.4 L482.6 39.2 L483.4 41.6 L484.2 43.8 L485 45.3 L485.7 46.1 L486.5 45.7 L487.3 46.7 L488.1 48.5 L488.9 50.4 L489.7 53.9 L490.5 56.3 L491.3 56.1 L492.1 57 L492.9 58.8 L493.7 61.3 L494.4 63.6 L495.2 65.4 L496 67.7 L496.8 67.9 L497.6 68.4 L498.4 69.5 L499.2 72.6 L500 76 L500.8 78.9 L501.6 78.6 L502.4 79.8 L503.2 81.7 L503.9 84.7 L504.7 86.4 L505.5 86.2 L506.3 86.5 L507.1 86.3 L507.9 82.9 L508.7 81.8 L509.5 78.2 L510.3 78 L511.1 77.9 L511.9 78.3 L512.6 76.6 L513.4 75.7 L514.2 74.6 L515 73.9 L515.8 73.2 L516.6 73.6" stroke="#14d2f5"/>
<path d="M445.4 84.7 L446.2 84.7 L447 84.2 L447.8 84.6 L448.6 84.3 L449.4 83.9 L450.1 83.2 L450.9 83.1 L451.7 82.8 L452.5 82.5 L453.3 81.7 L454.1 81.7 L454.9 81.9 L455.7 81.1 L456.5 80 L457.3 79.3 L458.1 77.9 L458.8 77.1 L459.6 76.9 L460.4 76.3 L461.2 75.9 L462 76.3 L462.8 75.1 L463.6 73.5 L464.4 71.1 L465.2 69.5 L466 67.5 L466.8 65.3 L467.6 64.3 L468.3 63 L469.1 62.3 L469.9 62.3 L470.7 60.7 L471.5 59.2 L472.3 56.6 L473.1 53.3 L473.9 50.2 L474.7 47.9 L475.5 45.2 L476.3 42.5 L477 42 L477.8 41.7 L478.6 41.8 L479.4 42.6 L480.2 43.2 L481 44.5 L481.8 45.5 L482.6 46 L483.4 46.3 L484.2 46.5 L485 48.2 L485.7 50.6 L486.5 52.1 L487.3 54.7 L488.1 57 L488.9 58.5 L489.7 58.8 L490.5 59.7 L491.3 60.9 L492.1 62.9 L492.9 65.1 L493.7 66.8 L494.4 69.3 L495.2 71.4 L496 72.9 L496.8 73.5 L497.6 74.4 L498.4 75.1 L499.2 76.2 L500 77.1 L500.8 78.4 L501.6 80.2 L502.4 82.3 L503.2 84.2 L503.9 86.4 L504.7 87.5 L505.5 89 L506.3 88.4 L507.1 88.5 L507.9 89.1 L508.7 89 L509.5 89.2 L510.3 89.5 L511.1 89.5 L511.9 88.9 L512.6 88.5 L513.4 89.5 L514.2 89.3 L515 89.4 L515.8 88.9 L516.6 89.2" stroke="#ffdf10"/>
</g>
<rect x="445.4" y="103.3" width="71.2" height="57.7" filter="url(#F20)"/>
<rect x="445.4" y="163" width="71.2" height="13" filter="url(#F21)"/>
<rect x="445.4" y="178" width="71.2" height="82.6" filter="url(#F22)"/>
<rect x="445.4" y="103.3" width="71.2" height="157.3" fill="none" stroke="#7a7a7a" stroke-width="1"/>
<rect x="444.9" y="161" width="72.2" height="2" fill="#a2a2a2"/>
<rect x="444.9" y="176" width="72.2" height="2" fill="#5a5a5a"/>
<path d="M445.4 260.6v2.6" stroke="#777" stroke-width="0.8"/>
<path d="M481 260.6v2.6" stroke="#777" stroke-width="0.8"/>
<path d="M516.6 260.6v2.6" stroke="#777" stroke-width="0.8"/>
<text x="446.6" y="270.5" font-size="7" text-anchor="middle" fill="#222">-2.5</text>
<text x="481" y="270.5" font-size="7" text-anchor="middle" fill="#222">peak center</text>
<text x="519.2" y="270.5" font-size="7" text-anchor="end" fill="#222">2.5Kb</text>
<text x="563.8" y="28" font-size="13.3" text-anchor="middle" fill="#000" textLength="27.92" lengthAdjust="spacingAndGlyphs">ERY</text>
<path d="M528.2 92.3V30.6H599.4V92.3" fill="none" stroke="#8a8a8a" stroke-width="1"/>
<path d="M528.2 92.3H599.4" stroke="#666" stroke-width="1"/>
<path d="M528.2 92.3v2.4" stroke="#666" stroke-width="0.9"/>
<path d="M563.8 92.3v2.4" stroke="#666" stroke-width="0.9"/>
<path d="M599.4 92.3v2.4" stroke="#666" stroke-width="0.9"/>
<g fill="none" stroke-width="1.15" stroke-linejoin="round">
<path d="M528.2 53.4 L529 53 L529.8 52.9 L530.6 52.4 L531.4 51.5 L532.2 50 L532.9 48.9 L533.7 48.1 L534.5 48 L535.3 47.5 L536.1 47.2 L536.9 47.1 L537.7 46.1 L538.5 45.6 L539.3 44.7 L540.1 43.3 L540.9 42.1 L541.6 40.9 L542.4 40.3 L543.2 39.1 L544 38 L544.8 38.1 L545.6 38.3 L546.4 37.8 L547.2 37.8 L548 37.8 L548.8 37.1 L549.6 36.8 L550.4 36.3 L551.1 35.9 L551.9 35.6 L552.7 35.6 L553.5 35.6 L554.3 35.7 L555.1 34.9 L555.9 35.1 L556.7 34.5 L557.5 34 L558.3 33.7 L559.1 33.3 L559.8 33.3 L560.6 32.9 L561.4 32.9 L562.2 33.3 L563 33.1 L563.8 33 L564.6 34.1 L565.4 35.1 L566.2 35.9 L567 37.1 L567.8 38 L568.5 38.8 L569.3 39.4 L570.1 39 L570.9 39.1 L571.7 39.1 L572.5 39.5 L573.3 40 L574.1 39.7 L574.9 39.6 L575.7 39.7 L576.5 39.9 L577.2 40 L578 40.5 L578.8 40.6 L579.6 41.2 L580.4 41.3 L581.2 42 L582 42.2 L582.8 42.8 L583.6 42.8 L584.4 42.6 L585.2 43.4 L586 44 L586.7 44.9 L587.5 45.6 L588.3 47 L589.1 47.9 L589.9 48.5 L590.7 49.6 L591.5 50.1 L592.3 50.6 L593.1 50.6 L593.9 50.6 L594.7 50.7 L595.4 50.8 L596.2 51.7 L597 51.6 L597.8 51.8 L598.6 52.1 L599.4 51.9" stroke="#0c0c82"/>
<path d="M528.2 81.8 L529 82 L529.8 81.7 L530.6 81.6 L531.4 81.6 L532.2 81.7 L532.9 81.4 L533.7 81.3 L534.5 81 L535.3 80.8 L536.1 80.8 L536.9 80.7 L537.7 80.6 L538.5 80.4 L539.3 80.2 L540.1 79.9 L540.9 79.7 L541.6 79.5 L542.4 79.4 L543.2 79.4 L544 79.5 L544.8 79.6 L545.6 79.6 L546.4 79.5 L547.2 79.2 L548 78.6 L548.8 78.3 L549.6 77.7 L550.4 77.1 L551.1 76.3 L551.9 75.6 L552.7 75 L553.5 74.5 L554.3 74.4 L555.1 74.1 L555.9 74.1 L556.7 74.2 L557.5 73.9 L558.3 73.3 L559.1 72.7 L559.8 72.4 L560.6 71.8 L561.4 71.1 L562.2 70.8 L563 70.2 L563.8 70.2 L564.6 69.9 L565.4 70 L566.2 70.1 L567 70.6 L567.8 70.7 L568.5 70.9 L569.3 71.1 L570.1 71.1 L570.9 71.4 L571.7 72.2 L572.5 73 L573.3 74.1 L574.1 75.3 L574.9 76.3 L575.7 77.1 L576.5 77.1 L577.2 77.5 L578 77.7 L578.8 78 L579.6 78.2 L580.4 78.8 L581.2 79.2 L582 79.8 L582.8 80 L583.6 80.5 L584.4 80.6 L585.2 80.8 L586 80.8 L586.7 80.8 L587.5 81.1 L588.3 81.4 L589.1 81.2 L589.9 81.5 L590.7 81.4 L591.5 81.6 L592.3 81.8 L593.1 82 L593.9 82 L594.7 82.4 L595.4 82.8 L596.2 82.7 L597 82.8 L597.8 83.1 L598.6 83.2 L599.4 83.2" stroke="#ffdf10"/>
<path d="M528.2 84.2 L529 84.2 L529.8 84.5 L530.6 84.7 L531.4 84.2 L532.2 84.4 L532.9 84.5 L533.7 84.4 L534.5 83.7 L535.3 84 L536.1 83.5 L536.9 83.7 L537.7 83.2 L538.5 83.2 L539.3 83 L540.1 83.1 L540.9 83.2 L541.6 83.2 L542.4 83.2 L543.2 83.2 L544 83 L544.8 82.8 L545.6 82.9 L546.4 82.9 L547.2 83 L548 82.7 L548.8 83.1 L549.6 83.3 L550.4 82.8 L551.1 83.1 L551.9 83 L552.7 83.1 L553.5 83.3 L554.3 83.3 L555.1 83.3 L555.9 83.4 L556.7 82.9 L557.5 82.3 L558.3 81.8 L559.1 81.3 L559.8 80.4 L560.6 79.6 L561.4 79.2 L562.2 79.1 L563 78.9 L563.8 78.5 L564.6 79.1 L565.4 80.2 L566.2 81.6 L567 82.6 L567.8 83.6 L568.5 83.8 L569.3 84 L570.1 84.8 L570.9 85.8 L571.7 86.3 L572.5 86.8 L573.3 87.4 L574.1 87.4 L574.9 87.5 L575.7 87.3 L576.5 87.2 L577.2 87.7 L578 88 L578.8 87.6 L579.6 87.9 L580.4 88.3 L581.2 88.5 L582 88.6 L582.8 88.7 L583.6 88.5 L584.4 88.6 L585.2 88.4 L586 88.5 L586.7 88.7 L587.5 88.9 L588.3 88.9 L589.1 88.9 L589.9 88.5 L590.7 88.9 L591.5 88.7 L592.3 89 L593.1 88.6 L593.9 88.8 L594.7 88.8 L595.4 89.3 L596.2 89.3 L597 89.2 L597.8 89.3 L598.6 89.1 L599.4 89.4" stroke="#14d2f5"/>
</g>
<rect x="528.2" y="103.3" width="71.2" height="57.7" filter="url(#F23)"/>
<rect x="528.2" y="163" width="71.2" height="13" filter="url(#F24)"/>
<rect x="528.2" y="178" width="71.2" height="82.6" filter="url(#F25)"/>
<rect x="528.2" y="103.3" width="71.2" height="157.3" fill="none" stroke="#7a7a7a" stroke-width="1"/>
<rect x="527.7" y="161" width="72.2" height="2" fill="#a2a2a2"/>
<rect x="527.7" y="176" width="72.2" height="2" fill="#5a5a5a"/>
<path d="M528.2 260.6v2.6" stroke="#777" stroke-width="0.8"/>
<path d="M563.8 260.6v2.6" stroke="#777" stroke-width="0.8"/>
<path d="M599.4 260.6v2.6" stroke="#777" stroke-width="0.8"/>
<text x="529.4" y="270.5" font-size="7" text-anchor="middle" fill="#222">-2.5</text>
<text x="563.8" y="270.5" font-size="7" text-anchor="middle" fill="#222">peak center</text>
<text x="602" y="270.5" font-size="7" text-anchor="end" fill="#222">2.5Kb</text>
<text x="650.2" y="28" font-size="13.3" text-anchor="middle" fill="#000" textLength="40.73" lengthAdjust="spacingAndGlyphs">T-CD4</text>
<path d="M611.3 92.3V30.6H682.5V92.3" fill="none" stroke="#8a8a8a" stroke-width="1"/>
<path d="M611.3 92.3H682.5" stroke="#666" stroke-width="1"/>
<path d="M611.3 92.3v2.4" stroke="#666" stroke-width="0.9"/>
<path d="M646.9 92.3v2.4" stroke="#666" stroke-width="0.9"/>
<path d="M682.5 92.3v2.4" stroke="#666" stroke-width="0.9"/>
<g fill="none" stroke-width="1.15" stroke-linejoin="round">
<path d="M611.3 68.3 L612.1 67.1 L612.9 67.4 L613.7 68.5 L614.5 68.3 L615.3 70.2 L616 69.6 L616.8 69.8 L617.6 71 L618.4 71.5 L619.2 70.2 L620 70.6 L620.8 70.1 L621.6 67.9 L622.4 66.6 L623.2 67.5 L624 67.6 L624.7 67.9 L625.5 65.7 L626.3 65.4 L627.1 64.6 L627.9 64.3 L628.7 64.6 L629.5 64.5 L630.3 62.4 L631.1 61.9 L631.9 60.3 L632.7 59.3 L633.5 58.7 L634.2 57.9 L635 57.1 L635.8 55.1 L636.6 52.2 L637.4 49.5 L638.2 48 L639 47.1 L639.8 46 L640.6 42.5 L641.4 39.7 L642.2 36 L642.9 34.9 L643.7 33.4 L644.5 35.1 L645.3 37.7 L646.1 40.7 L646.9 43.7 L647.7 44.4 L648.5 44.6 L649.3 43.9 L650.1 43.9 L650.9 42.2 L651.6 42.1 L652.4 42.9 L653.2 44.1 L654 46.2 L654.8 46.1 L655.6 45.8 L656.4 46.5 L657.2 48.7 L658 51.2 L658.8 51.8 L659.6 53.7 L660.3 54.9 L661.1 59.2 L661.9 62.7 L662.7 64.4 L663.5 65 L664.3 65.2 L665.1 64.6 L665.9 66.6 L666.7 65.8 L667.5 65.6 L668.3 66.5 L669.1 67.2 L669.8 66.5 L670.6 65.7 L671.4 65 L672.2 66.1 L673 66.7 L673.8 66 L674.6 65.9 L675.4 66.1 L676.2 67.1 L677 67.5 L677.8 67.9 L678.5 68.7 L679.3 70.1 L680.1 70.7 L680.9 69.8 L681.7 66.3 L682.5 63.5" stroke="#14d2f5"/>
<path d="M611.3 72.4 L612.1 71.8 L612.9 72.3 L613.7 71.7 L614.5 71.9 L615.3 71 L616 70.7 L616.8 70.8 L617.6 70.9 L618.4 71 L619.2 70.4 L620 69.9 L620.8 69.7 L621.6 70.1 L622.4 70.3 L623.2 69.3 L624 69.2 L624.7 68.3 L625.5 67.5 L626.3 67.4 L627.1 66.5 L627.9 66.2 L628.7 65.7 L629.5 65.5 L630.3 65 L631.1 65.1 L631.9 64.6 L632.7 63.8 L633.5 62.9 L634.2 62.2 L635 61.9 L635.8 62.3 L636.6 62.8 L637.4 63.3 L638.2 64.4 L639 65.6 L639.8 67 L640.6 68.1 L641.4 68.1 L642.2 68.4 L642.9 69.5 L643.7 71.2 L644.5 73.2 L645.3 74.9 L646.1 75.9 L646.9 77.3 L647.7 76.7 L648.5 75.6 L649.3 73.4 L650.1 71.3 L650.9 69.7 L651.6 68.5 L652.4 67.8 L653.2 67.2 L654 66.4 L654.8 65.3 L655.6 63.4 L656.4 63.1 L657.2 62.9 L658 63 L658.8 63.5 L659.6 63.7 L660.3 64.5 L661.1 64.7 L661.9 65.6 L662.7 66.5 L663.5 66.4 L664.3 66.4 L665.1 67.4 L665.9 68.5 L666.7 69.4 L667.5 69.9 L668.3 70 L669.1 69.8 L669.8 70.7 L670.6 70.7 L671.4 70.8 L672.2 71.7 L673 72 L673.8 73 L674.6 73.2 L675.4 72.8 L676.2 73.2 L677 73.6 L677.8 73.4 L678.5 74.1 L679.3 75 L680.1 74.8 L680.9 76 L681.7 76.5 L682.5 76.2" stroke="#0c0c82"/>
<path d="M611.3 87.9 L612.1 88 L612.9 87.8 L613.7 87.5 L614.5 87.2 L615.3 87.1 L616 86.6 L616.8 86.2 L617.6 85.9 L618.4 85.9 L619.2 86.2 L620 86 L620.8 85.4 L621.6 84.9 L622.4 84.2 L623.2 83.6 L624 83 L624.7 82.7 L625.5 82 L626.3 81.6 L627.1 81.3 L627.9 80.7 L628.7 80.4 L629.5 80.4 L630.3 79.2 L631.1 78.2 L631.9 77.2 L632.7 75.7 L633.5 74.7 L634.2 73.7 L635 72.9 L635.8 72.1 L636.6 71.7 L637.4 70.4 L638.2 68 L639 65.6 L639.8 64 L640.6 63.5 L641.4 62.7 L642.2 60.7 L642.9 58.7 L643.7 57.8 L644.5 57.8 L645.3 57.8 L646.1 58.2 L646.9 58.2 L647.7 58.3 L648.5 59 L649.3 60.2 L650.1 61.3 L650.9 62 L651.6 62.6 L652.4 63.9 L653.2 66.2 L654 68.2 L654.8 69.4 L655.6 69.9 L656.4 70.7 L657.2 71.5 L658 72.9 L658.8 74.7 L659.6 76.1 L660.3 77.6 L661.1 79.7 L661.9 81.3 L662.7 82.4 L663.5 83.2 L664.3 83.5 L665.1 83.6 L665.9 84 L666.7 84.4 L667.5 84.9 L668.3 85.4 L669.1 85.5 L669.8 86.1 L670.6 86.3 L671.4 87 L672.2 87.1 L673 87.5 L673.8 87.7 L674.6 87.4 L675.4 87.3 L676.2 87.7 L677 88.2 L677.8 88.6 L678.5 88.8 L679.3 88.9 L680.1 88.8 L680.9 89.1 L681.7 89.1 L682.5 89" stroke="#ffdf10"/>
</g>
<rect x="611.3" y="103.3" width="71.2" height="57.7" filter="url(#F26)"/>
<rect x="611.3" y="163" width="71.2" height="13" filter="url(#F27)"/>
<rect x="611.3" y="178" width="71.2" height="82.6" filter="url(#F28)"/>
<rect x="611.3" y="178" width="71.2" height="82.6" filter="url(#F29)" mask="url(#mX)"/>
<rect x="611.3" y="103.3" width="71.2" height="157.3" fill="none" stroke="#7a7a7a" stroke-width="1"/>
<rect x="610.8" y="161" width="72.2" height="2" fill="#a2a2a2"/>
<rect x="610.8" y="176" width="72.2" height="2" fill="#5a5a5a"/>
<path d="M611.3 260.6v2.6" stroke="#777" stroke-width="0.8"/>
<path d="M646.9 260.6v2.6" stroke="#777" stroke-width="0.8"/>
<path d="M682.5 260.6v2.6" stroke="#777" stroke-width="0.8"/>
<text x="612.5" y="270.5" font-size="7" text-anchor="middle" fill="#222">-2.5</text>
<text x="646.9" y="270.5" font-size="7" text-anchor="middle" fill="#222">peak center</text>
<text x="685.1" y="270.5" font-size="7" text-anchor="end" fill="#222">2.5Kb</text>
<text x="359.2" y="132.7" font-size="9.5" text-anchor="middle" fill="#000" font-weight="bold" transform="rotate(-90 359.2 132.7)">14</text>
<text x="359.2" y="169.5" font-size="9.5" text-anchor="middle" fill="#000" font-weight="bold" transform="rotate(-90 359.2 169.5)">4</text>
<text x="359.2" y="218.8" font-size="9.5" text-anchor="middle" fill="#000" font-weight="bold" transform="rotate(-90 359.2 218.8)">1</text>
<text x="57.9" y="306.2" font-size="13.3" text-anchor="middle" fill="#000" textLength="25.89" lengthAdjust="spacingAndGlyphs">LSK</text>
<path d="M22.3 370.1V308.4H93.5V370.1" fill="none" stroke="#8a8a8a" stroke-width="1"/>
<path d="M22.3 370.1H93.5" stroke="#666" stroke-width="1"/>
<path d="M22.3 370.1v2.4" stroke="#666" stroke-width="0.9"/>
<path d="M57.9 370.1v2.4" stroke="#666" stroke-width="0.9"/>
<path d="M93.5 370.1v2.4" stroke="#666" stroke-width="0.9"/>
<g fill="none" stroke-width="1.15" stroke-linejoin="round">
<path d="M22.3 366.5 L23.1 366.3 L23.9 366.5 L24.7 366.3 L25.5 366.3 L26.3 366.9 L27 366.3 L27.8 366.2 L28.6 366.5 L29.4 366.1 L30.2 365.9 L31 366.5 L31.8 366.9 L32.6 366.5 L33.4 366.1 L34.2 366.7 L35 366.4 L35.7 366.5 L36.5 366.5 L37.3 366.6 L38.1 366.9 L38.9 367.1 L39.7 366.9 L40.5 366.9 L41.3 366.9 L42.1 366.7 L42.9 366.3 L43.7 365.9 L44.5 365.7 L45.2 366.2 L46 366.2 L46.8 365.6 L47.6 366 L48.4 365.5 L49.2 365.5 L50 365.2 L50.8 364.7 L51.6 364.1 L52.4 363.8 L53.2 363.1 L53.9 362.3 L54.7 361.1 L55.5 359.3 L56.3 356.9 L57.1 354.1 L57.9 353.2 L58.7 354.1 L59.5 356.9 L60.3 359.5 L61.1 361.5 L61.9 362.3 L62.6 363.3 L63.4 364 L64.2 364.1 L65 364.5 L65.8 364.9 L66.6 364.7 L67.4 364.7 L68.2 365.3 L69 365.5 L69.8 366.1 L70.6 366.4 L71.3 366.6 L72.1 366.7 L72.9 366.1 L73.7 366.4 L74.5 365.9 L75.3 365.6 L76.1 365.8 L76.9 365.7 L77.7 365.5 L78.5 365.8 L79.3 366.5 L80.1 366 L80.8 365.8 L81.6 366.5 L82.4 366.4 L83.2 366.3 L84 366.2 L84.8 366.6 L85.6 366.4 L86.4 366.3 L87.2 366.2 L88 366.5 L88.8 365.9 L89.5 366.1 L90.3 366.3 L91.1 365.8 L91.9 365.9 L92.7 365.9 L93.5 366.2" stroke="#14d2f5"/>
<path d="M22.3 365.5 L23.1 365.2 L23.9 365.2 L24.7 365.2 L25.5 365.3 L26.3 365.2 L27 365.2 L27.8 365 L28.6 365.1 L29.4 365 L30.2 364.8 L31 364.7 L31.8 364.7 L32.6 364.5 L33.4 364.4 L34.2 364.2 L35 364.1 L35.7 364 L36.5 364 L37.3 363.9 L38.1 364 L38.9 363.8 L39.7 363.8 L40.5 363.7 L41.3 363.5 L42.1 363.3 L42.9 362.9 L43.7 362.5 L44.5 362.2 L45.2 361.6 L46 360.8 L46.8 360.2 L47.6 359.3 L48.4 358.1 L49.2 356.7 L50 355 L50.8 353.1 L51.6 350.5 L52.4 347.2 L53.2 342.9 L53.9 337.7 L54.7 331.9 L55.5 326.6 L56.3 322.1 L57.1 319.4 L57.9 318.6 L58.7 319.2 L59.5 321.8 L60.3 326.3 L61.1 332 L61.9 337.6 L62.6 342.6 L63.4 346.8 L64.2 350.2 L65 353 L65.8 355.1 L66.6 356.6 L67.4 358.1 L68.2 359.2 L69 360.1 L69.8 360.6 L70.6 361.3 L71.3 361.8 L72.1 361.9 L72.9 362.3 L73.7 362.7 L74.5 362.9 L75.3 363.2 L76.1 363.2 L76.9 363.3 L77.7 363.2 L78.5 363.4 L79.3 363.4 L80.1 363.6 L80.8 363.8 L81.6 363.8 L82.4 363.6 L83.2 363.6 L84 363.7 L84.8 363.7 L85.6 363.9 L86.4 364 L87.2 364 L88 364.1 L88.8 363.9 L89.5 363.9 L90.3 363.8 L91.1 363.9 L91.9 364.1 L92.7 364 L93.5 364.1" stroke="#ffdf10"/>
<path d="M22.3 360.9 L23.1 360.5 L23.9 360.5 L24.7 360.5 L25.5 360.7 L26.3 360.5 L27 360.4 L27.8 360.4 L28.6 360.2 L29.4 360.4 L30.2 360.4 L31 360.3 L31.8 359.7 L32.6 359.9 L33.4 359.7 L34.2 359.5 L35 359.2 L35.7 358.9 L36.5 358.7 L37.3 358 L38.1 357.2 L38.9 356.9 L39.7 355.9 L40.5 355 L41.3 354.4 L42.1 354.5 L42.9 354.4 L43.7 354.1 L44.5 354 L45.2 353.6 L46 352.9 L46.8 352.5 L47.6 351.7 L48.4 350.2 L49.2 348.6 L50 347.2 L50.8 345.2 L51.6 342.5 L52.4 339.5 L53.2 336.2 L53.9 331.9 L54.7 327.6 L55.5 322.7 L56.3 318.5 L57.1 314.7 L57.9 312.3 L58.7 311.6 L59.5 312.3 L60.3 314.9 L61.1 318.2 L61.9 322.2 L62.6 326.9 L63.4 331.4 L64.2 335.3 L65 338.4 L65.8 341 L66.6 343.5 L67.4 345.1 L68.2 346.5 L69 348 L69.8 349 L70.6 350.2 L71.3 351.1 L72.1 352.5 L72.9 353.4 L73.7 354.3 L74.5 355.1 L75.3 355.9 L76.1 356.9 L76.9 357.8 L77.7 358.5 L78.5 359.1 L79.3 359.5 L80.1 359.7 L80.8 360 L81.6 360.1 L82.4 360.4 L83.2 360.8 L84 361.3 L84.8 361.5 L85.6 361.4 L86.4 361.7 L87.2 361.8 L88 362.2 L88.8 362.5 L89.5 362.6 L90.3 362.7 L91.1 362.7 L91.9 362.7 L92.7 363 L93.5 363.2" stroke="#0c0c82"/>
</g>
<rect x="22.3" y="380.2" width="71.2" height="57.4" filter="url(#F30)"/>
<rect x="22.3" y="380.2" width="71.2" height="57.4" filter="url(#F31)" mask="url(#mW)"/>
<rect x="22.3" y="380.2" width="71.2" height="57.4" filter="url(#F32)" mask="url(#mN)"/>
<g clip-path="url(#c13)"><g filter="url(#bl)">
<path d="M79.5 389.7h14M33.2 393.7h4.5M29.5 399.7h1.6M79 415.7h14.5M75.4 420.7h1.4M56 423.7h3.9M44.5 426.7h3.1M66.9 429.7h20.3M31.9 430.7h1.2M75 431.7h9.1" stroke="#238b45" stroke-opacity="0.42" stroke-width="1"/>
<path d="M22.4 380.7h3.1M68.5 387.7h8M41.1 388.7h29.2M77 392.7h1.3M40.8 397.7h5.8M41.3 398.7h5.7M51.5 400.7h3.3M57.8 404.7h1.4M38.6 410.7h5.6M48.1 419.7h4.9M89.3 428.7h2.8M80.1 432.7h13.4" stroke="#157f3b" stroke-opacity="0.42" stroke-width="1"/>
<path d="M47.7 390.7h26.6M36.3 401.7h3.8M88.6 406.7h1.2M22.3 417.7h5.8M32.4 434.7h3.5M78 436.7h4.9" stroke="#077331" stroke-opacity="0.42" stroke-width="1"/>
<path d="M28.9 381.7h2.4M75.1 384.7h13.6M67.3 386.7h12.2M65.4 414.7h13.2M33.1 416.7h21.4M61 427.7h2M48.7 433.7h2.8" stroke="#006529" stroke-opacity="0.42" stroke-width="1"/>
<path d="M65 412.7h5.5M54.5 422.7h4" stroke="#005422" stroke-opacity="0.42" stroke-width="1"/>
<path d="M58.5 388.7h5.2M56 391.7h2.3M52.8 398.7h3M60.6 401.7h2.6M58.2 404.7h7.6M58.2 416.7h3.6" stroke="#2f984f" stroke-opacity="0.9" stroke-width="1"/>
<path d="M57.6 380.7h5.3M50.4 385.7h5.5M57 386.7h6.7M56.5 397.7h7.3M49.2 400.7h4M52.4 415.7h3.2M51.6 418.7h6.6" stroke="#238b45" stroke-opacity="0.9" stroke-width="1"/>
<path d="M57.8 382.7h7.1M52.9 392.7h4.5M59.4 393.7h3.7M61.5 435.7h5.5M56.7 436.7h7.2" stroke="#157f3b" stroke-opacity="0.9" stroke-width="1"/>
<path d="M58.4 383.7h2.2M57.7 394.7h1.8M60.8 403.7h2.5M64 407.7h3.1M53.3 408.7h7.7M62.2 409.7h5.4M56.2 413.7h5.3M52.7 424.7h5.1M56.5 426.7h5" stroke="#077331" stroke-opacity="0.9" stroke-width="1"/>
<path d="M51.7 390.7h4.8M58.1 402.7h3.8M61.3 410.7h4.6" stroke="#006529" stroke-opacity="0.9" stroke-width="1"/>
</g></g>
<rect x="22.3" y="439.6" width="71.2" height="13.6" filter="url(#F33)"/>
<rect x="22.3" y="439.6" width="71.2" height="13.6" filter="url(#F34)" mask="url(#mM)"/>
<g clip-path="url(#c14)"><g filter="url(#bl)">
<path d="M82.5 443.1h6M76.4 445.1h16.6" stroke="#238b45" stroke-opacity="0.42" stroke-width="1"/>
<path d="M56.9 440.1h9M47.4 453.1h1.9" stroke="#157f3b" stroke-opacity="0.42" stroke-width="1"/>
<path d="M75 448.1h16.8M29.8 450.1h4.1M64.1 452.1h15.7" stroke="#077331" stroke-opacity="0.42" stroke-width="1"/>
<path d="M39.4 441.1h18.7M33.7 446.1h17.7M42.4 447.1h4" stroke="#005422" stroke-opacity="0.42" stroke-width="1"/>
<path d="M55.7 446.1h4.4M51.6 453.1h4" stroke="#60ba6c" stroke-opacity="0.9" stroke-width="1"/>
<path d="M59.5 449.1h3.5" stroke="#4bb062" stroke-opacity="0.9" stroke-width="1"/>
<path d="M58 447.1h1.2" stroke="#3ba558" stroke-opacity="0.9" stroke-width="1"/>
</g></g>
<rect x="22.3" y="455.2" width="71.2" height="82.6" filter="url(#F35)"/>
<rect x="22.3" y="455.2" width="71.2" height="82.6" filter="url(#F36)" mask="url(#mM)"/>
<rect x="22.3" y="455.2" width="71.2" height="82.6" filter="url(#F37)" mask="url(#mN)"/>
<g clip-path="url(#c15)"><g filter="url(#bl)">
<path d="M60.6 470.7h7.5M40.3 485.7h2.3M50.9 486.7h14.6M62.7 491.7h5.4M83.4 493.7h6.2M27.4 494.7h6.3M83.9 499.7h2M49.6 502.7h7M57.3 506.7h20.3M57.8 512.7h3M36.6 515.7h4M37.1 526.7h4.5M25.1 533.7h2.2M48.9 534.7h1.8M80.3 535.7h1.2" stroke="#238b45" stroke-opacity="0.42" stroke-width="1"/>
<path d="M24.9 456.7h2M39.2 462.7h2.7M58.3 476.7h14.8M69.4 478.7h5.9M73.8 481.7h7.6M44.7 490.7h3.7M35.4 496.7h3M85.1 500.7h5.2M72.5 503.7h3M38.4 505.7h6.7M88 513.7h5.5M50.3 518.7h5.1M65.2 525.7h1.8M44.6 529.7h4M46 531.7h4.2M63.9 532.7h3.6M80.2 536.7h1.5" stroke="#157f3b" stroke-opacity="0.42" stroke-width="1"/>
<path d="M30.2 457.7h18.5M66.2 468.7h1.8M44.2 469.7h2.6M69.6 471.7h7.1M26.7 473.7h2.6M22.5 474.7h1.5M23.2 479.7h22.7M71.6 487.7h3.2M42.3 488.7h1.5M59.9 489.7h11.7M86.7 498.7h6.8M70.3 504.7h10.6M52.1 511.7h9.7M62.6 523.7h5.8M31.8 527.7h18M91.6 530.7h1.9" stroke="#077331" stroke-opacity="0.42" stroke-width="1"/>
<path d="M70.8 477.7h11.6M84.4 483.7h9.1M54.1 484.7h2.6M64.9 497.7h5.2M58.6 501.7h13.4M43.7 514.7h1.2M82.1 516.7h1.6M51.9 519.7h9.2" stroke="#006529" stroke-opacity="0.42" stroke-width="1"/>
<path d="M38 465.7h1.3M26.4 467.7h18.7M90.6 507.7h2.9M22.5 517.7h9.2M31.7 521.7h1.6" stroke="#005422" stroke-opacity="0.42" stroke-width="1"/>
<path d="M59 489.7h1.8M57.9 520.7h4.5M58.3 527.7h1.3M54.3 532.7h3.9M56.1 537.7h3.4" stroke="#3ba558" stroke-opacity="0.9" stroke-width="1"/>
<path d="M52.3 481.7h2.8M56.2 506.7h2.6M57.8 511.7h4.2M60.3 513.7h3M53.7 533.7h3.1M54 534.7h4.7M55.2 535.7h3.1" stroke="#2f984f" stroke-opacity="0.9" stroke-width="1"/>
<path d="M59.6 457.7h1.7M56.6 463.7h1.2M57.4 466.7h3.7M55.6 484.7h3.8M53.8 516.7h2.5M58.3 519.7h4.1M55.4 524.7h1.8M58.5 528.7h4.5M59.5 530.7h1.9" stroke="#238b45" stroke-opacity="0.9" stroke-width="1"/>
<path d="M58.2 477.7h3.1M58.4 504.7h2.9M57.8 518.7h2.6" stroke="#157f3b" stroke-opacity="0.9" stroke-width="1"/>
<path d="M53.5 505.7h2.4M59.4 508.7h3.3M54.7 517.7h4.9M57.8 522.7h3.6M52.6 536.7h4.4" stroke="#077331" stroke-opacity="0.9" stroke-width="1"/>
</g></g>
<rect x="22.3" y="380.2" width="71.2" height="157.6" fill="none" stroke="#7a7a7a" stroke-width="1"/>
<rect x="21.8" y="437.6" width="72.2" height="2" fill="#6c6c6c"/>
<rect x="21.8" y="453.2" width="72.2" height="2" fill="#6c6c6c"/>
<path d="M22.3 537.8v2.6" stroke="#777" stroke-width="0.8"/>
<path d="M57.9 537.8v2.6" stroke="#777" stroke-width="0.8"/>
<path d="M93.5 537.8v2.6" stroke="#777" stroke-width="0.8"/>
<text x="23.5" y="546.8" font-size="7" text-anchor="middle" fill="#222">-2.5</text>
<text x="57.9" y="546.8" font-size="7" text-anchor="middle" fill="#222">peak center</text>
<text x="96.1" y="546.8" font-size="7" text-anchor="end" fill="#222">2.5Kb</text>
<text x="140.3" y="306.2" font-size="13.3" text-anchor="middle" fill="#000" textLength="31.20" lengthAdjust="spacingAndGlyphs">GMP</text>
<path d="M104.7 370.1V308.4H175.9V370.1" fill="none" stroke="#8a8a8a" stroke-width="1"/>
<path d="M104.7 370.1H175.9" stroke="#666" stroke-width="1"/>
<path d="M104.7 370.1v2.4" stroke="#666" stroke-width="0.9"/>
<path d="M140.3 370.1v2.4" stroke="#666" stroke-width="0.9"/>
<path d="M175.9 370.1v2.4" stroke="#666" stroke-width="0.9"/>
<g fill="none" stroke-width="1.15" stroke-linejoin="round">
<path d="M104.7 366.3 L105.5 366.4 L106.3 366.1 L107.1 366.6 L107.9 366.3 L108.7 366.4 L109.4 366.9 L110.2 366.6 L111 367 L111.8 367 L112.6 366.8 L113.4 366.8 L114.2 366.7 L115 366.4 L115.8 366.9 L116.6 366.6 L117.4 367 L118.1 367 L118.9 366.3 L119.7 366 L120.5 366.1 L121.3 366.5 L122.1 366.1 L122.9 366.2 L123.7 366.1 L124.5 366.4 L125.3 366.7 L126.1 366.6 L126.9 366 L127.6 366.2 L128.4 366 L129.2 366.2 L130 365.9 L130.8 366.1 L131.6 366.1 L132.4 365.9 L133.2 365.6 L134 365.2 L134.8 364.5 L135.6 363.2 L136.3 362.7 L137.1 361.1 L137.9 358.5 L138.7 356 L139.5 353.5 L140.3 352.1 L141.1 353.9 L141.9 356 L142.7 359.1 L143.5 361 L144.3 362 L145 363 L145.8 363.8 L146.6 364 L147.4 364.8 L148.2 365.3 L149 365.9 L149.8 366.1 L150.6 366.3 L151.4 366.6 L152.2 366.7 L153 366.5 L153.7 366.3 L154.5 366.2 L155.3 366.5 L156.1 366.8 L156.9 366.8 L157.7 366.9 L158.5 366.1 L159.3 366.1 L160.1 365.7 L160.9 366 L161.7 366.2 L162.5 366.3 L163.2 366.6 L164 366.2 L164.8 366.5 L165.6 366.5 L166.4 366.1 L167.2 366.7 L168 366.1 L168.8 366.1 L169.6 366.3 L170.4 366.4 L171.2 366.8 L171.9 366.7 L172.7 366.9 L173.5 366.4 L174.3 366.4 L175.1 366 L175.9 366.3" stroke="#14d2f5"/>
<path d="M104.7 365.3 L105.5 365.4 L106.3 365.3 L107.1 365.3 L107.9 365.4 L108.7 365.2 L109.4 365.2 L110.2 365.2 L111 365.2 L111.8 364.9 L112.6 364.7 L113.4 364.9 L114.2 364.9 L115 364.7 L115.8 364.7 L116.6 364.4 L117.4 364.3 L118.1 364.3 L118.9 364.1 L119.7 363.9 L120.5 363.9 L121.3 363.8 L122.1 363.6 L122.9 363.5 L123.7 363.5 L124.5 362.9 L125.3 362.6 L126.1 362.1 L126.9 361.9 L127.6 361.4 L128.4 360.8 L129.2 360.1 L130 359.4 L130.8 358.4 L131.6 357 L132.4 355.4 L133.2 353.1 L134 350.4 L134.8 347.2 L135.6 342.8 L136.3 337.7 L137.1 332 L137.9 326.6 L138.7 322.2 L139.5 319.3 L140.3 318.7 L141.1 319.4 L141.9 322 L142.7 326.4 L143.5 332 L144.3 337.5 L145 342.7 L145.8 346.8 L146.6 350.2 L147.4 352.9 L148.2 355.1 L149 356.7 L149.8 358 L150.6 359.2 L151.4 359.8 L152.2 360.4 L153 360.9 L153.7 361.5 L154.5 361.9 L155.3 362.1 L156.1 362.3 L156.9 362.4 L157.7 362.8 L158.5 362.9 L159.3 363.1 L160.1 363.2 L160.9 363.3 L161.7 363.3 L162.5 363.6 L163.2 363.7 L164 363.8 L164.8 363.7 L165.6 363.9 L166.4 363.9 L167.2 363.8 L168 363.7 L168.8 364 L169.6 363.9 L170.4 363.9 L171.2 363.8 L171.9 364.1 L172.7 364 L173.5 364 L174.3 364.1 L175.1 364.1 L175.9 364" stroke="#ffdf10"/>
<path d="M104.7 360.4 L105.5 360.7 L106.3 360.4 L107.1 360.6 L107.9 360.7 L108.7 360.7 L109.4 360.4 L110.2 360.2 L111 360.3 L111.8 360.5 L112.6 360.3 L113.4 360.1 L114.2 359.9 L115 359.6 L115.8 359.6 L116.6 359.3 L117.4 359.1 L118.1 358.9 L118.9 358.6 L119.7 357.8 L120.5 357.2 L121.3 356.7 L122.1 356 L122.9 355.4 L123.7 354.4 L124.5 354.1 L125.3 354.3 L126.1 354.5 L126.9 354.1 L127.6 354 L128.4 353.3 L129.2 352.4 L130 351.7 L130.8 350.2 L131.6 349 L132.4 347.1 L133.2 344.9 L134 342.2 L134.8 339.2 L135.6 336 L136.3 331.8 L137.1 327.5 L137.9 322.9 L138.7 318.4 L139.5 314.7 L140.3 312.5 L141.1 311.7 L141.9 312.4 L142.7 314.7 L143.5 318 L144.3 322.5 L145 327.2 L145.8 331.1 L146.6 335.2 L147.4 338.5 L148.2 341.1 L149 343.3 L149.8 345 L150.6 346.6 L151.4 348 L152.2 349.2 L153 350.3 L153.7 351.4 L154.5 352.1 L155.3 353.1 L156.1 354.2 L156.9 355.2 L157.7 355.9 L158.5 356.6 L159.3 357.7 L160.1 358.4 L160.9 359 L161.7 359.3 L162.5 359.6 L163.2 360.1 L164 360.4 L164.8 360.8 L165.6 360.7 L166.4 361.2 L167.2 361.2 L168 361.4 L168.8 361.7 L169.6 362.2 L170.4 362.2 L171.2 362.4 L171.9 362.3 L172.7 362.7 L173.5 362.6 L174.3 362.8 L175.1 363 L175.9 363.2" stroke="#0c0c82"/>
</g>
<rect x="104.7" y="380.2" width="71.2" height="57.4" filter="url(#F38)"/>
<rect x="104.7" y="380.2" width="71.2" height="57.4" filter="url(#F39)" mask="url(#mW)"/>
<rect x="104.7" y="380.2" width="71.2" height="57.4" filter="url(#F40)" mask="url(#mN)"/>
<g clip-path="url(#c16)"><g filter="url(#bl)">
<path d="M114.6 382.7h2.8M133.1 391.7h7.7M125 396.7h5.3M125.3 397.7h4.7M139.8 400.7h2.6M122 404.7h1.6M121.3 410.7h2.1M154.1 420.7h6.4M123.7 432.7h3.6M121.9 436.7h2.5" stroke="#d94801" stroke-opacity="0.42" stroke-width="1"/>
<path d="M122.9 380.7h2M126.8 381.7h8.8M152.6 383.7h2.8M169.4 384.7h6.5M154.5 393.7h7.9M115.5 394.7h4M119.9 399.7h6M140.5 401.7h6M137.9 409.7h4.9M109.5 413.7h5.9M108.1 416.7h13.6M142.7 419.7h8.3M133.1 422.7h14.6M113.7 423.7h1.3M125.9 427.7h2.9" stroke="#c54102" stroke-opacity="0.42" stroke-width="1"/>
<path d="M124.2 385.7h9M149 389.7h4.3M160.5 398.7h1.7M144.8 424.7h24.4M133.2 428.7h1.6M160.2 430.7h5.9M156.5 435.7h1" stroke="#b03a03" stroke-opacity="0.42" stroke-width="1"/>
<path d="M110.3 392.7h1.3M125.9 403.7h5.6M155.8 412.7h1.2M134.2 425.7h5.8" stroke="#9e3303" stroke-opacity="0.42" stroke-width="1"/>
<path d="M110.4 417.7h20.1" stroke="#8f2d04" stroke-opacity="0.42" stroke-width="1"/>
<path d="M131 383.7h2.4M138.3 394.7h4.9M133.8 416.7h4.7M135.7 418.7h4.5M132.1 426.7h7.6" stroke="#e35508" stroke-opacity="0.9" stroke-width="1"/>
<path d="M135.3 385.7h4.6M131.7 388.7h2M140.6 398.7h7.2M139.9 420.7h6.2M139.4 435.7h2.7M134.8 436.7h3.4" stroke="#d94801" stroke-opacity="0.9" stroke-width="1"/>
<path d="M141.8 382.7h6M133.7 386.7h6M136 387.7h6.6M139.3 391.7h6.4M140.5 401.7h1.9M141.4 413.7h2.5M145.9 414.7h2.8M137.6 421.7h1.9" stroke="#c54102" stroke-opacity="0.9" stroke-width="1"/>
<path d="M145.8 399.7h3.9M130.6 405.7h6.9" stroke="#b03a03" stroke-opacity="0.9" stroke-width="1"/>
<path d="M135.7 402.7h5.8M131.1 429.7h6.8M138.6 430.7h6.5" stroke="#9e3303" stroke-opacity="0.9" stroke-width="1"/>
</g></g>
<rect x="104.7" y="439.6" width="71.2" height="13.6" filter="url(#F41)"/>
<rect x="104.7" y="439.6" width="71.2" height="13.6" filter="url(#F42)" mask="url(#mM)"/>
<g clip-path="url(#c17)"><g filter="url(#bl)">
<path d="M160.1 446.1h2.2" stroke="#d94801" stroke-opacity="0.42" stroke-width="1"/>
<path d="M148.1 442.1h7.8M159.6 450.1h9" stroke="#b03a03" stroke-opacity="0.42" stroke-width="1"/>
<path d="M169 444.1h2.8M174.4 445.1h1.5M169.5 449.1h2.9" stroke="#9e3303" stroke-opacity="0.42" stroke-width="1"/>
<path d="M142.5 451.1h6" stroke="#8f2d04" stroke-opacity="0.42" stroke-width="1"/>
<path d="M137.9 447.1h3.5M140.4 450.1h3.2" stroke="#f87f2c" stroke-opacity="0.9" stroke-width="1"/>
<path d="M139.7 440.1h2.9" stroke="#f3701b" stroke-opacity="0.9" stroke-width="1"/>
</g></g>
<rect x="104.7" y="455.2" width="71.2" height="82.6" filter="url(#F43)"/>
<rect x="104.7" y="455.2" width="71.2" height="82.6" filter="url(#F44)" mask="url(#mM)"/>
<rect x="104.7" y="455.2" width="71.2" height="82.6" filter="url(#F45)" mask="url(#mN)"/>
<g clip-path="url(#c18)"><g filter="url(#bl)">
<path d="M107 455.7h6.3M146.7 459.7h6.1M162.4 464.7h2.1M166.6 483.7h3.7M125.6 498.7h8M126.6 505.7h2.8" stroke="#d94801" stroke-opacity="0.42" stroke-width="1"/>
<path d="M114.4 458.7h1.7M119.8 460.7h13.3M138.3 471.7h6.9M159.9 475.7h3.3M152.7 480.7h10.4M152 485.7h4.6M141.7 495.7h10.5M151.3 497.7h9M122.8 501.7h10.6M121.9 510.7h13M112.4 515.7h2.2M148.6 517.7h1.2M126.7 529.7h14.7M119.3 530.7h2.5" stroke="#c54102" stroke-opacity="0.42" stroke-width="1"/>
<path d="M148.7 468.7h2.6M133.2 473.7h2.5M106.5 476.7h2.6M167.7 479.7h2.1M173 486.7h2.9M152.6 489.7h3.9M111.6 500.7h7.2M128.7 504.7h2.4M109 508.7h3.3M111.5 512.7h9.8M166.9 513.7h2.1M161.6 522.7h1.6M116.1 528.7h2" stroke="#b03a03" stroke-opacity="0.42" stroke-width="1"/>
<path d="M127.1 456.7h1.8M122.4 457.7h7.3M129.8 461.7h5.9M129.6 472.7h3.2M129.1 477.7h2.1M132.5 482.7h6.7M109.6 488.7h6.8M107.4 491.7h3.4M123.1 499.7h8.3M114.6 509.7h2.7M128.8 511.7h8.7M128.1 514.7h5.8M121.2 516.7h1.7M136.2 524.7h20.8M163.9 531.7h3M161.1 536.7h2.1" stroke="#9e3303" stroke-opacity="0.42" stroke-width="1"/>
<path d="M144.8 466.7h1.2M150.3 469.7h11.9M106.6 490.7h3.2M173.2 493.7h2.7M171 503.7h2.8M174 535.7h1.9M141.8 537.7h1.1" stroke="#8f2d04" stroke-opacity="0.42" stroke-width="1"/>
<path d="M135.7 527.7h3.4M139.1 530.7h4.5M138.5 536.7h2.2" stroke="#ec620f" stroke-opacity="0.9" stroke-width="1"/>
<path d="M139.4 463.7h4M138.1 469.7h3.2M137 474.7h4.4M137.4 488.7h4.2M140.4 522.7h4M139.1 537.7h2.6" stroke="#e35508" stroke-opacity="0.9" stroke-width="1"/>
<path d="M137 476.7h3.1M141.5 486.7h3.2M141.6 493.7h3.6M137.5 499.7h4.7M137.7 501.7h2.3M138.8 503.7h1.3M137.5 529.7h4.3" stroke="#d94801" stroke-opacity="0.9" stroke-width="1"/>
<path d="M133.9 455.7h3.9M142.2 458.7h3.7M138.5 459.7h4.1M138.9 461.7h4.9M137.4 462.7h4.9M139.8 482.7h3M137.1 524.7h1.7" stroke="#c54102" stroke-opacity="0.9" stroke-width="1"/>
<path d="M141.4 457.7h1.9M140.8 495.7h3M138.3 512.7h2.3M136 517.7h1.3" stroke="#b03a03" stroke-opacity="0.9" stroke-width="1"/>
</g></g>
<rect x="104.7" y="380.2" width="71.2" height="157.6" fill="none" stroke="#7a7a7a" stroke-width="1"/>
<rect x="104.2" y="437.6" width="72.2" height="2" fill="#6c6c6c"/>
<rect x="104.2" y="453.2" width="72.2" height="2" fill="#6c6c6c"/>
<path d="M104.7 537.8v2.6" stroke="#777" stroke-width="0.8"/>
<path d="M140.3 537.8v2.6" stroke="#777" stroke-width="0.8"/>
<path d="M175.9 537.8v2.6" stroke="#777" stroke-width="0.8"/>
<text x="105.9" y="546.8" font-size="7" text-anchor="middle" fill="#222">-2.5</text>
<text x="140.3" y="546.8" font-size="7" text-anchor="middle" fill="#222">peak center</text>
<text x="178.5" y="546.8" font-size="7" text-anchor="end" fill="#222">2.5Kb</text>
<text x="222.7" y="306.2" font-size="13.3" text-anchor="middle" fill="#000" textLength="27.92" lengthAdjust="spacingAndGlyphs">ERY</text>
<path d="M187.1 370.1V308.4H258.3V370.1" fill="none" stroke="#8a8a8a" stroke-width="1"/>
<path d="M187.1 370.1H258.3" stroke="#666" stroke-width="1"/>
<path d="M187.1 370.1v2.4" stroke="#666" stroke-width="0.9"/>
<path d="M222.7 370.1v2.4" stroke="#666" stroke-width="0.9"/>
<path d="M258.3 370.1v2.4" stroke="#666" stroke-width="0.9"/>
<g fill="none" stroke-width="1.15" stroke-linejoin="round">
<path d="M187.1 366.4 L187.9 366.5 L188.7 366.4 L189.5 366.6 L190.3 366.5 L191.1 366.4 L191.8 366.6 L192.6 366.7 L193.4 366.8 L194.2 366.7 L195 366.4 L195.8 366.4 L196.6 366.3 L197.4 366.5 L198.2 366.2 L199 366.5 L199.8 366.3 L200.5 366.2 L201.3 366.4 L202.1 366.5 L202.9 366.5 L203.7 366.5 L204.5 366.5 L205.3 366.5 L206.1 366.2 L206.9 366.2 L207.7 366 L208.5 366.2 L209.3 366.2 L210 366.1 L210.8 366.1 L211.6 366.4 L212.4 366.1 L213.2 366.4 L214 366.5 L214.8 366.2 L215.6 366.3 L216.4 366 L217.2 366 L218 365.7 L218.7 365.6 L219.5 365.6 L220.3 365.4 L221.1 365.5 L221.9 365.4 L222.7 365 L223.5 365.2 L224.3 365.1 L225.1 365.2 L225.9 365.4 L226.7 365.6 L227.4 365.8 L228.2 366.2 L229 366.3 L229.8 366.3 L230.6 366.4 L231.4 366.1 L232.2 366.3 L233 366.5 L233.8 366.6 L234.6 366.5 L235.4 366.4 L236.1 366.3 L236.9 366.3 L237.7 366.5 L238.5 366.2 L239.3 366.4 L240.1 366.2 L240.9 366.3 L241.7 366.3 L242.5 366.1 L243.3 366.2 L244.1 366 L244.9 366.3 L245.6 366.5 L246.4 366.5 L247.2 366.5 L248 366.5 L248.8 366.3 L249.6 366.1 L250.4 366.1 L251.2 366.2 L252 366.2 L252.8 366.3 L253.6 366.4 L254.3 366.4 L255.1 366.1 L255.9 366.1 L256.7 366.3 L257.5 366.5 L258.3 366.1" stroke="#14d2f5"/>
<path d="M187.1 365 L187.9 365 L188.7 365.1 L189.5 365 L190.3 364.9 L191.1 365 L191.8 364.9 L192.6 364.8 L193.4 364.8 L194.2 364.8 L195 364.6 L195.8 364.8 L196.6 364.9 L197.4 364.9 L198.2 364.9 L199 364.7 L199.8 364.6 L200.5 364.4 L201.3 364.6 L202.1 364.4 L202.9 364.3 L203.7 364.5 L204.5 364.3 L205.3 364.4 L206.1 364.3 L206.9 364.2 L207.7 364 L208.5 363.7 L209.3 363.6 L210 363.3 L210.8 363 L211.6 362.6 L212.4 362.1 L213.2 361.7 L214 361.1 L214.8 360.5 L215.6 359.8 L216.4 358.9 L217.2 357.3 L218 355.3 L218.7 353.1 L219.5 350.4 L220.3 347.5 L221.1 345 L221.9 343.4 L222.7 342.6 L223.5 343.2 L224.3 345 L225.1 347.6 L225.9 350.4 L226.7 353.1 L227.4 355.2 L228.2 357.2 L229 358.7 L229.8 359.8 L230.6 360.6 L231.4 361.5 L232.2 361.9 L233 362.3 L233.8 362.6 L234.6 363.1 L235.4 363.2 L236.1 363.5 L236.9 363.8 L237.7 364 L238.5 364 L239.3 364.1 L240.1 364.3 L240.9 364.4 L241.7 364.5 L242.5 364.3 L243.3 364.4 L244.1 364.6 L244.9 364.4 L245.6 364.4 L246.4 364.6 L247.2 364.6 L248 364.6 L248.8 364.6 L249.6 364.6 L250.4 364.5 L251.2 364.5 L252 364.5 L252.8 364.5 L253.6 364.8 L254.3 364.9 L255.1 364.9 L255.9 364.7 L256.7 364.8 L257.5 364.7 L258.3 364.7" stroke="#ffdf10"/>
<path d="M187.1 358.7 L187.9 358.4 L188.7 358.7 L189.5 358.4 L190.3 358.3 L191.1 358.5 L191.8 358.3 L192.6 358.2 L193.4 358 L194.2 358.3 L195 358.4 L195.8 357.9 L196.6 357.6 L197.4 357.5 L198.2 357.5 L199 357.5 L199.8 357.1 L200.5 356.9 L201.3 356.3 L202.1 355.7 L202.9 355 L203.7 354.4 L204.5 353.4 L205.3 352.2 L206.1 351.3 L206.9 350.8 L207.7 351.1 L208.5 351.8 L209.3 352.5 L210 352.3 L210.8 352 L211.6 351.5 L212.4 350.9 L213.2 349.7 L214 348.2 L214.8 346.8 L215.6 344.7 L216.4 342.1 L217.2 338.6 L218 334.7 L218.7 330.1 L219.5 325.3 L220.3 320.9 L221.1 317.1 L221.9 314.5 L222.7 313.5 L223.5 314.2 L224.3 316.9 L225.1 320.7 L225.9 325.4 L226.7 330.3 L227.4 334.5 L228.2 338.2 L229 341.1 L229.8 343.7 L230.6 345.4 L231.4 346.3 L232.2 347 L233 347.8 L233.8 348.2 L234.6 349 L235.4 349.5 L236.1 350.3 L236.9 351 L237.7 352.1 L238.5 352.9 L239.3 353.9 L240.1 354.9 L240.9 355.5 L241.7 356.5 L242.5 357.2 L243.3 357.7 L244.1 358 L244.9 358.4 L245.6 358.4 L246.4 358.6 L247.2 358.6 L248 358.4 L248.8 358.9 L249.6 359.2 L250.4 359 L251.2 359 L252 359 L252.8 359.3 L253.6 359.1 L254.3 359.5 L255.1 359.2 L255.9 359.3 L256.7 359.7 L257.5 359.7 L258.3 359.5" stroke="#0c0c82"/>
</g>
<rect x="187.1" y="380.2" width="71.2" height="57.4" filter="url(#F46)"/>
<rect x="187.1" y="380.2" width="71.2" height="57.4" filter="url(#F47)" mask="url(#mW)"/>
<rect x="187.1" y="380.2" width="71.2" height="57.4" filter="url(#F48)" mask="url(#mN)"/>
<g clip-path="url(#c19)"><g filter="url(#bl)">
<path d="M228.3 389.7h1.6M230.4 392.7h6.1M247.4 393.7h2.2M218.7 396.7h6.2M234.4 405.7h1.6M225.4 406.7h2.9M253.5 412.7h2.2M244 428.7h3.2M229.7 429.7h17M212.3 433.7h4.6" stroke="#cb181d" stroke-opacity="0.42" stroke-width="1"/>
<path d="M217.9 380.7h6M199.1 381.7h4.3M199.2 386.7h3.5M231.8 391.7h6.4M233.4 416.7h1.3M213.8 417.7h1.9M234.4 418.7h5.4M235 420.7h7.4M254.5 425.7h3.8M252.7 435.7h5.6M247.2 436.7h5.7" stroke="#bc141a" stroke-opacity="0.42" stroke-width="1"/>
<path d="M212.5 395.7h2.1M202 422.7h8.7M231 423.7h12.3M254.2 431.7h4.1" stroke="#ad1117" stroke-opacity="0.42" stroke-width="1"/>
<path d="M189.9 398.7h3.2M226.3 402.7h3.5M234 403.7h18.3M227.3 407.7h20.2M242.4 408.7h8M246.2 414.7h11.8M210.4 419.7h2" stroke="#990c13" stroke-opacity="0.42" stroke-width="1"/>
<path d="M200.8 385.7h4M218.2 387.7h4.7M213.7 399.7h10M246.4 410.7h3.9M219.3 427.7h5.7" stroke="#800610" stroke-opacity="0.42" stroke-width="1"/>
<path d="M222.7 426.7h6.3" stroke="#e83429" stroke-opacity="0.9" stroke-width="1"/>
<path d="M221.5 399.7h3M216.9 407.7h7.4M216.2 409.7h7.1M221.7 425.7h3.7M216.7 427.7h2.7M222.4 429.7h7.3M212.6 430.7h3.5M222.6 434.7h6.8" stroke="#d92623" stroke-opacity="0.9" stroke-width="1"/>
<path d="M219.4 397.7h3.9M223.6 406.7h7.1M224.2 418.7h3.5M212.2 435.7h6.7" stroke="#cb181d" stroke-opacity="0.9" stroke-width="1"/>
<path d="M221 380.7h4.9M216.5 384.7h2.3M216.6 393.7h4.1M217.8 415.7h4.8" stroke="#bc141a" stroke-opacity="0.9" stroke-width="1"/>
<path d="M215.9 381.7h6.9M218.2 386.7h4.3M222.2 390.7h2.4M219.1 414.7h2.5M221.7 419.7h5.2M227.5 420.7h2.5M220.3 431.7h2.5" stroke="#ad1117" stroke-opacity="0.9" stroke-width="1"/>
<path d="M213.3 396.7h4.5M216.6 403.7h5.1M220.2 404.7h7.6M224.5 421.7h4" stroke="#990c13" stroke-opacity="0.9" stroke-width="1"/>
</g></g>
<rect x="187.1" y="439.6" width="71.2" height="13.6" filter="url(#F49)"/>
<rect x="187.1" y="439.6" width="71.2" height="13.6" filter="url(#F50)" mask="url(#mM)"/>
<g clip-path="url(#c20)"><g filter="url(#bl)">
<path d="M226.5 440.1h1.7" stroke="#bc141a" stroke-opacity="0.42" stroke-width="1"/>
<path d="M252.4 446.1h5.9M252.5 447.1h4.9" stroke="#990c13" stroke-opacity="0.42" stroke-width="1"/>
<path d="M237.5 445.1h16.6M197.9 450.1h1.7" stroke="#800610" stroke-opacity="0.42" stroke-width="1"/>
<path d="M219.6 450.1h5.1" stroke="#f6573e" stroke-opacity="0.9" stroke-width="1"/>
<path d="M222.1 451.1h3.4" stroke="#e83429" stroke-opacity="0.9" stroke-width="1"/>
<path d="M223.8 444.1h3.5" stroke="#d92623" stroke-opacity="0.9" stroke-width="1"/>
</g></g>
<rect x="187.1" y="455.2" width="71.2" height="82.6" filter="url(#F51)"/>
<rect x="187.1" y="455.2" width="71.2" height="82.6" filter="url(#F52)" mask="url(#mM)"/>
<rect x="187.1" y="455.2" width="71.2" height="82.6" filter="url(#F53)" mask="url(#mN)"/>
<g clip-path="url(#c21)"><g filter="url(#bl)">
<path d="M256.7 456.7h1.6M199.5 463.7h9.1M244.4 474.7h4.2M213.6 476.7h4.9M197.2 477.7h4.5M231 478.7h10.7M205.3 483.7h5.9M254.1 484.7h1.4M226.7 485.7h7.5M192.6 487.7h4.4M223.4 496.7h2.8M235.9 504.7h1.5M243.1 517.7h8.7M204.1 518.7h2.1M191.1 530.7h5.8" stroke="#cb181d" stroke-opacity="0.42" stroke-width="1"/>
<path d="M225 462.7h11.3M228.4 468.7h1.6M206 471.7h12M236.7 486.7h4.7M238.1 491.7h8.2M255.6 495.7h2.7M249.6 497.7h8.7M237.6 501.7h16.1M193.1 505.7h6.4M211.1 516.7h3.9M217.4 519.7h19.5M195.5 525.7h17.8M249 537.7h9.3" stroke="#bc141a" stroke-opacity="0.42" stroke-width="1"/>
<path d="M225.5 466.7h2.5M237.9 489.7h13.3M205.7 492.7h25M202.6 493.7h3.6M233.9 498.7h3.6M231.3 499.7h1.8M220.5 509.7h2.7M250.8 510.7h7.5M214.7 512.7h4.4M209.9 514.7h2.4M212.4 526.7h4.9M256.7 532.7h1.6M216.5 535.7h2" stroke="#ad1117" stroke-opacity="0.42" stroke-width="1"/>
<path d="M248.9 458.7h6M243.4 459.7h8M197.3 464.7h1.6M233.8 469.7h13.8M210.2 473.7h3M239.2 479.7h3.2M250.9 500.7h2.9M245.8 507.7h7.4M251.2 521.7h7.1" stroke="#990c13" stroke-opacity="0.42" stroke-width="1"/>
<path d="M238.9 461.7h2.3M244.6 475.7h13.7" stroke="#800610" stroke-opacity="0.42" stroke-width="1"/>
<path d="M222.7 509.7h1.7M223.5 528.7h5.1" stroke="#e83429" stroke-opacity="0.9" stroke-width="1"/>
<path d="M218.7 461.7h4.1M222.9 466.7h4.9M221.1 471.7h1.8M222 490.7h1.7M220.1 494.7h4.8M220.2 495.7h4.8M222 524.7h1.9M223.2 529.7h2.5" stroke="#d92623" stroke-opacity="0.9" stroke-width="1"/>
<path d="M223.3 499.7h4.5M221.2 507.7h4.3M219.6 508.7h3.9M224.1 510.7h3M219.5 520.7h4.6M218.2 522.7h3.2M222.4 533.7h3.9M219.7 534.7h4.4" stroke="#cb181d" stroke-opacity="0.9" stroke-width="1"/>
<path d="M222.3 457.7h2M224.4 462.7h2.2M219.8 463.7h4.8M222.8 475.7h1.3M223.5 487.7h1.8M220.7 498.7h1.7M219.3 501.7h5.2M220.3 512.7h3.7" stroke="#bc141a" stroke-opacity="0.9" stroke-width="1"/>
<path d="M220.9 518.7h1.4M218.8 531.7h2.8M218.8 537.7h1.7" stroke="#ad1117" stroke-opacity="0.9" stroke-width="1"/>
</g></g>
<rect x="187.1" y="380.2" width="71.2" height="157.6" fill="none" stroke="#7a7a7a" stroke-width="1"/>
<rect x="186.6" y="437.6" width="72.2" height="2" fill="#6c6c6c"/>
<rect x="186.6" y="453.2" width="72.2" height="2" fill="#6c6c6c"/>
<path d="M187.1 537.8v2.6" stroke="#777" stroke-width="0.8"/>
<path d="M222.7 537.8v2.6" stroke="#777" stroke-width="0.8"/>
<path d="M258.3 537.8v2.6" stroke="#777" stroke-width="0.8"/>
<text x="188.3" y="546.8" font-size="7" text-anchor="middle" fill="#222">-2.5</text>
<text x="222.7" y="546.8" font-size="7" text-anchor="middle" fill="#222">peak center</text>
<text x="260.9" y="546.8" font-size="7" text-anchor="end" fill="#222">2.5Kb</text>
<text x="309.3" y="306.2" font-size="13.3" text-anchor="middle" fill="#000" textLength="40.73" lengthAdjust="spacingAndGlyphs">T-CD4</text>
<path d="M270.4 370.1V308.4H341.6V370.1" fill="none" stroke="#8a8a8a" stroke-width="1"/>
<path d="M270.4 370.1H341.6" stroke="#666" stroke-width="1"/>
<path d="M270.4 370.1v2.4" stroke="#666" stroke-width="0.9"/>
<path d="M306 370.1v2.4" stroke="#666" stroke-width="0.9"/>
<path d="M341.6 370.1v2.4" stroke="#666" stroke-width="0.9"/>
<g fill="none" stroke-width="1.15" stroke-linejoin="round">
<path d="M270.4 366.9 L271.2 366.4 L272 366.3 L272.8 365.9 L273.6 366.7 L274.4 366.1 L275.1 366.4 L275.9 366.4 L276.7 366.6 L277.5 366.3 L278.3 366.1 L279.1 366 L279.9 365.5 L280.7 365.5 L281.5 365.5 L282.3 366 L283.1 365.9 L283.8 365.4 L284.6 365 L285.4 365.2 L286.2 366 L287 365.2 L287.8 365.3 L288.6 365.6 L289.4 365 L290.2 365.4 L291 365.6 L291.8 365.6 L292.6 364.6 L293.3 364.9 L294.1 364.1 L294.9 364.1 L295.7 363.9 L296.5 363.2 L297.3 362.6 L298.1 361.9 L298.9 360.8 L299.7 358.8 L300.5 357.3 L301.3 354.5 L302 350.6 L302.8 345.4 L303.6 340.3 L304.4 334.9 L305.2 330.5 L306 328.8 L306.8 330.3 L307.6 334.4 L308.4 339.8 L309.2 346.1 L310 350.9 L310.7 354.3 L311.5 357.3 L312.3 358.5 L313.1 359.6 L313.9 360.6 L314.7 362.2 L315.5 362.7 L316.3 362.7 L317.1 363 L317.9 363.2 L318.7 364.3 L319.4 365.1 L320.2 364.5 L321 365 L321.8 364.8 L322.6 365.4 L323.4 365.1 L324.2 365.6 L325 365 L325.8 365.4 L326.6 365.4 L327.4 365.1 L328.2 365.9 L328.9 365.8 L329.7 366.1 L330.5 365.6 L331.3 365.5 L332.1 366.1 L332.9 366 L333.7 366.5 L334.5 366.5 L335.3 366.8 L336.1 366.2 L336.9 366.1 L337.6 366.5 L338.4 365.7 L339.2 365.9 L340 365.4 L340.8 365.3 L341.6 365.5" stroke="#14d2f5"/>
<path d="M270.4 365.5 L271.2 365.6 L272 365.2 L272.8 365.6 L273.6 365.7 L274.4 365.9 L275.1 365.5 L275.9 365.3 L276.7 365 L277.5 365 L278.3 364.8 L279.1 365.1 L279.9 365.1 L280.7 365.3 L281.5 365.4 L282.3 365.1 L283.1 364.9 L283.8 364.8 L284.6 364.5 L285.4 364.7 L286.2 364.5 L287 364.3 L287.8 364.6 L288.6 364.4 L289.4 364.6 L290.2 364.6 L291 364.3 L291.8 363.8 L292.6 363.3 L293.3 362.9 L294.1 362.8 L294.9 362.4 L295.7 361.7 L296.5 360.8 L297.3 360 L298.1 359 L298.9 357.4 L299.7 355.6 L300.5 353.3 L301.3 350.2 L302 346.3 L302.8 341.5 L303.6 336.3 L304.4 331 L305.2 327.4 L306 326.4 L306.8 327.3 L307.6 330.9 L308.4 336 L309.2 341.3 L310 346.1 L310.7 350.3 L311.5 353.5 L312.3 356 L313.1 357.8 L313.9 359.4 L314.7 360 L315.5 360.7 L316.3 361.5 L317.1 362.2 L317.9 362.6 L318.7 363 L319.4 363.2 L320.2 363.3 L321 363.8 L321.8 364.2 L322.6 364.2 L323.4 364.2 L324.2 364.1 L325 364.3 L325.8 364.2 L326.6 364.5 L327.4 364.4 L328.2 364.5 L328.9 364.8 L329.7 364.7 L330.5 364.7 L331.3 364.7 L332.1 364.7 L332.9 365 L333.7 364.9 L334.5 365.2 L335.3 365 L336.1 364.9 L336.9 365 L337.6 365 L338.4 365.1 L339.2 364.9 L340 364.6 L340.8 364.7 L341.6 364.6" stroke="#ffdf10"/>
<path d="M270.4 362.5 L271.2 362.7 L272 363.2 L272.8 362.8 L273.6 362.8 L274.4 362.6 L275.1 362.8 L275.9 362.8 L276.7 362.7 L277.5 363 L278.3 362.8 L279.1 362.3 L279.9 362 L280.7 362.1 L281.5 362.1 L282.3 361.6 L283.1 361.8 L283.8 361.5 L284.6 361.5 L285.4 360.8 L286.2 360.4 L287 359.8 L287.8 359.7 L288.6 359.4 L289.4 359 L290.2 358.5 L291 358.6 L291.8 358.1 L292.6 357.2 L293.3 356.5 L294.1 355.3 L294.9 354.8 L295.7 353.8 L296.5 352.1 L297.3 349.8 L298.1 348.2 L298.9 345.1 L299.7 341.7 L300.5 338.2 L301.3 334.1 L302 329.9 L302.8 324.5 L303.6 319.3 L304.4 315.2 L305.2 311.9 L306 310.8 L306.8 310.9 L307.6 312.8 L308.4 316.2 L309.2 319.9 L310 325.1 L310.7 329.9 L311.5 334.9 L312.3 338.4 L313.1 342.1 L313.9 345.6 L314.7 347.6 L315.5 349.6 L316.3 351.4 L317.1 352.9 L317.9 354.9 L318.7 355.5 L319.4 356.8 L320.2 357.3 L321 358.3 L321.8 358.4 L322.6 358.6 L323.4 359.8 L324.2 359.6 L325 360.2 L325.8 360.3 L326.6 360.8 L327.4 360.9 L328.2 361.3 L328.9 361.7 L329.7 362 L330.5 361.7 L331.3 362.2 L332.1 362 L332.9 362.2 L333.7 362.7 L334.5 362.9 L335.3 362.8 L336.1 362.8 L336.9 362.4 L337.6 363 L338.4 363.1 L339.2 363.3 L340 363.6 L340.8 363.6 L341.6 363.2" stroke="#0c0c82"/>
</g>
<rect x="270.4" y="380.2" width="71.2" height="57.4" filter="url(#F54)"/>
<rect x="270.4" y="380.2" width="71.2" height="57.4" filter="url(#F55)" mask="url(#mW)"/>
<rect x="270.4" y="380.2" width="71.2" height="57.4" filter="url(#F56)" mask="url(#mN)"/>
<g clip-path="url(#c22)"><g filter="url(#bl)">
<path d="M284.9 405.7h6M294.4 414.7h2.1" stroke="#6a51a3" stroke-opacity="0.42" stroke-width="1"/>
<path d="M286.8 392.7h14.8M334.5 396.7h6.2M291.9 399.7h1.2M299.1 408.7h5.4M322.2 415.7h19.4M301.1 419.7h11.9M329.1 432.7h12.5" stroke="#61409b" stroke-opacity="0.42" stroke-width="1"/>
<path d="M313.4 398.7h6.6M298.2 420.7h6M274.4 425.7h2.9M288.2 428.7h1.4" stroke="#582f93" stroke-opacity="0.42" stroke-width="1"/>
<path d="M314.9 382.7h11.8M274.9 429.7h2.4" stroke="#501f8b" stroke-opacity="0.42" stroke-width="1"/>
<path d="M326.2 389.7h8.5M339.1 410.7h2.5M277 430.7h2.5M279.7 431.7h7.9" stroke="#471084" stroke-opacity="0.42" stroke-width="1"/>
<path d="M302.3 382.7h6.6M304 402.7h2.7M302.7 424.7h6.2M304.2 426.7h5" stroke="#7c74b5" stroke-opacity="0.9" stroke-width="1"/>
<path d="M301.5 420.7h4.4M300.4 435.7h4.6" stroke="#7363ac" stroke-opacity="0.9" stroke-width="1"/>
<path d="M310 407.7h7M303.9 418.7h6.4M306.7 429.7h7M304.1 434.7h2.8" stroke="#6a51a3" stroke-opacity="0.9" stroke-width="1"/>
<path d="M300.8 387.7h5.5M303.5 391.7h7.4M301.6 393.7h5.6M302.5 396.7h7.2M305.1 408.7h3.1M302.8 413.7h6M307.2 415.7h4" stroke="#61409b" stroke-opacity="0.9" stroke-width="1"/>
<path d="M308.7 383.7h7.3M302 389.7h3.9M299.7 421.7h3.6M297.4 425.7h1.9" stroke="#582f93" stroke-opacity="0.9" stroke-width="1"/>
<path d="M305.9 386.7h5.4M302.1 404.7h4.2M302.6 416.7h2.7M303.7 433.7h4.4" stroke="#501f8b" stroke-opacity="0.9" stroke-width="1"/>
</g></g>
<rect x="270.4" y="439.6" width="71.2" height="13.6" filter="url(#F57)"/>
<rect x="270.4" y="439.6" width="71.2" height="13.6" filter="url(#F58)" mask="url(#mM)"/>
<g clip-path="url(#c23)"><g filter="url(#bl)">
<path d="M272.7 450.1h7.1" stroke="#6a51a3" stroke-opacity="0.42" stroke-width="1"/>
<path d="M324.1 447.1h1.8" stroke="#582f93" stroke-opacity="0.42" stroke-width="1"/>
<path d="M331 453.1h5.7" stroke="#501f8b" stroke-opacity="0.42" stroke-width="1"/>
<path d="M301.5 440.1h4.7M305 453.1h2" stroke="#8683bd" stroke-opacity="0.9" stroke-width="1"/>
<path d="M303.4 452.1h1.3" stroke="#7c74b5" stroke-opacity="0.9" stroke-width="1"/>
</g></g>
<rect x="270.4" y="455.2" width="71.2" height="82.6" filter="url(#F59)"/>
<rect x="270.4" y="455.2" width="71.2" height="82.6" filter="url(#F60)" mask="url(#mM)"/>
<rect x="270.4" y="455.2" width="71.2" height="82.6" filter="url(#F61)" mask="url(#mN)"/>
<g clip-path="url(#c24)"><g filter="url(#bl)">
<path d="M315.8 458.7h13.7M319.7 462.7h4M311 467.7h1.6M324.5 471.7h1.2M329.2 474.7h9.2M293.3 524.7h4.2" stroke="#6a51a3" stroke-opacity="0.42" stroke-width="1"/>
<path d="M296.2 464.7h2.3M305.4 495.7h1.3M294.1 520.7h15.2M309.3 523.7h14.1M297.6 536.7h3.4" stroke="#61409b" stroke-opacity="0.42" stroke-width="1"/>
<path d="M311.1 455.7h4.8M331 456.7h8.6M285.8 459.7h6.7M294.4 468.7h8M316.2 469.7h1.5M301.5 481.7h7.3M295.6 482.7h3.3M305.9 497.7h14.9M322 499.7h3.4M326.4 500.7h12.6M332.4 510.7h2M314.6 512.7h3.1M300.2 513.7h1.8" stroke="#582f93" stroke-opacity="0.42" stroke-width="1"/>
<path d="M278.4 465.7h1.5M306.1 470.7h2.7M305.6 493.7h7.8M288 501.7h4.8M333.7 502.7h2.4M270.5 504.7h2.9M307.7 521.7h4.9M302.2 526.7h1.5M303 533.7h4.9M296.2 534.7h12.6" stroke="#501f8b" stroke-opacity="0.42" stroke-width="1"/>
<path d="M324.3 475.7h14.7M281.5 483.7h19.9M287.7 486.7h4.6M328.1 496.7h1.9M318.6 515.7h14.5M324.7 516.7h8.8M300.8 535.7h2.4" stroke="#471084" stroke-opacity="0.42" stroke-width="1"/>
<path d="M304 455.7h4.1M304.1 470.7h2.4M306.5 485.7h4M306.4 497.7h1.6M304.1 522.7h2.8M308.1 523.7h1.4" stroke="#7c74b5" stroke-opacity="0.9" stroke-width="1"/>
<path d="M302.1 472.7h5.2M300.6 481.7h4.8M303.8 482.7h4.7M307.5 499.7h2M303.6 509.7h2.2M307.3 515.7h1.5" stroke="#7363ac" stroke-opacity="0.9" stroke-width="1"/>
<path d="M306 467.7h3.7M304.5 480.7h3.2M305.8 487.7h1.3M304.2 493.7h3M304.1 510.7h3M304.3 516.7h4.1M304.7 524.7h1.4" stroke="#6a51a3" stroke-opacity="0.9" stroke-width="1"/>
<path d="M307.3 462.7h2.7M303.5 464.7h1.3M303.9 468.7h1.6M302.7 473.7h3.9M299.1 488.7h4.1M304.3 525.7h4.9M302.1 527.7h2.8M300.5 535.7h2.7" stroke="#61409b" stroke-opacity="0.9" stroke-width="1"/>
<path d="M307.1 459.7h3.5M302.1 469.7h2.7M301 502.7h4M304.9 529.7h2.6" stroke="#582f93" stroke-opacity="0.9" stroke-width="1"/>
</g></g>
<rect x="270.4" y="380.2" width="71.2" height="157.6" fill="none" stroke="#7a7a7a" stroke-width="1"/>
<rect x="269.9" y="437.6" width="72.2" height="2" fill="#6c6c6c"/>
<rect x="269.9" y="453.2" width="72.2" height="2" fill="#6c6c6c"/>
<path d="M270.4 537.8v2.6" stroke="#777" stroke-width="0.8"/>
<path d="M306 537.8v2.6" stroke="#777" stroke-width="0.8"/>
<path d="M341.6 537.8v2.6" stroke="#777" stroke-width="0.8"/>
<text x="271.6" y="546.8" font-size="7" text-anchor="middle" fill="#222">-2.5</text>
<text x="306" y="546.8" font-size="7" text-anchor="middle" fill="#222">peak center</text>
<text x="344.2" y="546.8" font-size="7" text-anchor="end" fill="#222">2.5Kb</text>
<text x="19" y="409.4" font-size="9.5" text-anchor="middle" fill="#000" font-weight="bold" transform="rotate(-90 19 409.4)">14</text>
<text x="19" y="446.4" font-size="9.5" text-anchor="middle" fill="#000" font-weight="bold" transform="rotate(-90 19 446.4)">4</text>
<text x="19" y="496" font-size="9.5" text-anchor="middle" fill="#000" font-weight="bold" transform="rotate(-90 19 496)">1</text>
<text x="398.1" y="306.2" font-size="13.3" text-anchor="middle" fill="#000" textLength="25.89" lengthAdjust="spacingAndGlyphs">LSK</text>
<path d="M362.5 370.1V308.4H433.7V370.1" fill="none" stroke="#8a8a8a" stroke-width="1"/>
<path d="M362.5 370.1H433.7" stroke="#666" stroke-width="1"/>
<path d="M362.5 370.1v2.4" stroke="#666" stroke-width="0.9"/>
<path d="M398.1 370.1v2.4" stroke="#666" stroke-width="0.9"/>
<path d="M433.7 370.1v2.4" stroke="#666" stroke-width="0.9"/>
<g fill="none" stroke-width="1.15" stroke-linejoin="round">
<path d="M362.5 365.4 L363.3 365.5 L364.1 365.8 L364.9 366.2 L365.7 365.8 L366.5 365.7 L367.2 365.4 L368 365.5 L368.8 365.8 L369.6 366.2 L370.4 366.3 L371.2 366.3 L372 365.3 L372.8 364.9 L373.6 365.5 L374.4 365.3 L375.2 364.7 L375.9 364.9 L376.7 365.3 L377.5 364.6 L378.3 364.3 L379.1 363.9 L379.9 364.5 L380.7 363.9 L381.5 363.5 L382.3 362.9 L383.1 362.5 L383.9 362.1 L384.7 361.7 L385.4 361.9 L386.2 361.5 L387 361.2 L387.8 361 L388.6 360.4 L389.4 360.3 L390.2 359.3 L391 358.8 L391.8 358.2 L392.6 358 L393.4 357.4 L394.1 356.7 L394.9 357 L395.7 356.9 L396.5 356.3 L397.3 356.4 L398.1 356.3 L398.9 355.6 L399.7 355.6 L400.5 356.2 L401.3 355.9 L402.1 356 L402.8 356.5 L403.6 357.4 L404.4 357.5 L405.2 359.1 L406 360.2 L406.8 360.8 L407.6 361.4 L408.4 362.1 L409.2 362.5 L410 362.5 L410.8 362.2 L411.5 362.6 L412.3 363.1 L413.1 363.8 L413.9 364.1 L414.7 363.6 L415.5 363.4 L416.3 363.7 L417.1 363.8 L417.9 363.9 L418.7 364.6 L419.5 364.7 L420.3 365 L421 365.5 L421.8 365.2 L422.6 365.3 L423.4 365.8 L424.2 365.6 L425 365.8 L425.8 365.8 L426.6 365.5 L427.4 365.1 L428.2 365.3 L429 365.1 L429.7 365.1 L430.5 364.6 L431.3 365.6 L432.1 366 L432.9 365.3 L433.7 365" stroke="#14d2f5"/>
<path d="M362.5 364.2 L363.3 364.3 L364.1 364.3 L364.9 364.5 L365.7 364.5 L366.5 364.4 L367.2 364.3 L368 364 L368.8 364.1 L369.6 363.9 L370.4 363.8 L371.2 363.5 L372 363.3 L372.8 363.5 L373.6 363.1 L374.4 362.8 L375.2 362.6 L375.9 362.4 L376.7 362.3 L377.5 362.1 L378.3 361.6 L379.1 361.1 L379.9 360.8 L380.7 360.3 L381.5 359.9 L382.3 359.4 L383.1 358.8 L383.9 357.9 L384.7 356.9 L385.4 355.9 L386.2 354.9 L387 353.5 L387.8 351.7 L388.6 350 L389.4 348.5 L390.2 346.9 L391 344.9 L391.8 343 L392.6 341.2 L393.4 339.8 L394.1 338.7 L394.9 338.4 L395.7 338.1 L396.5 337.7 L397.3 337.3 L398.1 337.6 L398.9 337.6 L399.7 337.9 L400.5 337.9 L401.3 338.5 L402.1 339.4 L402.8 340.4 L403.6 341.7 L404.4 343.2 L405.2 344.8 L406 346.8 L406.8 348.3 L407.6 350 L408.4 351.6 L409.2 353.2 L410 354.7 L410.8 355.7 L411.5 356.8 L412.3 357.7 L413.1 358.5 L413.9 359.3 L414.7 360 L415.5 360.6 L416.3 361 L417.1 361.3 L417.9 361.9 L418.7 362.3 L419.5 362.5 L420.3 362.5 L421 362.6 L421.8 363 L422.6 363 L423.4 363.1 L424.2 363.3 L425 363.3 L425.8 363.6 L426.6 363.9 L427.4 363.8 L428.2 363.7 L429 363.7 L429.7 364 L430.5 363.9 L431.3 364.1 L432.1 364.4 L432.9 364.1 L433.7 364.3" stroke="#ffdf10"/>
<path d="M362.5 359.1 L363.3 359.1 L364.1 358.4 L364.9 358 L365.7 358.2 L366.5 357.8 L367.2 357.3 L368 357.1 L368.8 356.8 L369.6 356.6 L370.4 356.2 L371.2 355.8 L372 355.4 L372.8 354.6 L373.6 354 L374.4 353.6 L375.2 352.9 L375.9 352.1 L376.7 350.9 L377.5 350.2 L378.3 348.8 L379.1 347.8 L379.9 346.2 L380.7 344.9 L381.5 343.4 L382.3 341.7 L383.1 339.5 L383.9 337.4 L384.7 335.3 L385.4 333 L386.2 330.4 L387 327.9 L387.8 325.8 L388.6 323.4 L389.4 321 L390.2 318.6 L391 316.9 L391.8 315.4 L392.6 314 L393.4 312.7 L394.1 311.9 L394.9 311.3 L395.7 310.6 L396.5 310.5 L397.3 310.5 L398.1 310.2 L398.9 310.2 L399.7 310.2 L400.5 310.4 L401.3 310.7 L402.1 311.7 L402.8 312.7 L403.6 313.7 L404.4 314.8 L405.2 316.8 L406 318.9 L406.8 320.6 L407.6 323.2 L408.4 325.3 L409.2 328 L410 330.5 L410.8 333.1 L411.5 335.3 L412.3 337.1 L413.1 339.2 L413.9 341.3 L414.7 342.9 L415.5 344.5 L416.3 345.8 L417.1 347.2 L417.9 348.2 L418.7 349.1 L419.5 349.9 L420.3 351.2 L421 352 L421.8 352.9 L422.6 353.5 L423.4 353.8 L424.2 354.1 L425 354.9 L425.8 355.5 L426.6 356 L427.4 356.1 L428.2 356.3 L429 356.7 L429.7 356.8 L430.5 356.8 L431.3 357 L432.1 357.3 L432.9 357.4 L433.7 357.9" stroke="#0c0c82"/>
</g>
<rect x="362.5" y="380.2" width="71.2" height="57.4" filter="url(#F62)"/>
<rect x="362.5" y="380.2" width="71.2" height="57.4" filter="url(#F63)" mask="url(#mW)"/>
<g clip-path="url(#c25)"><g filter="url(#bl)">
<path d="M416.8 390.7h3M428 391.7h2.8M417.7 427.7h10.8" stroke="#238b45" stroke-opacity="0.4" stroke-width="1"/>
<path d="M409.9 407.7h9.2M382.1 413.7h12.1M400.9 419.7h9M413.3 424.7h5.5M385.2 426.7h1.4" stroke="#157f3b" stroke-opacity="0.4" stroke-width="1"/>
<path d="M419.6 380.7h3M427.3 392.7h3.8M425.6 398.7h1.7M411.7 411.7h6.4M393.4 416.7h4.5" stroke="#077331" stroke-opacity="0.4" stroke-width="1"/>
<path d="M364.9 425.7h11" stroke="#006529" stroke-opacity="0.4" stroke-width="1"/>
<path d="M425.9 387.7h2.7M405.4 412.7h2.2M368.1 434.7h7.2" stroke="#005422" stroke-opacity="0.4" stroke-width="1"/>
</g></g>
<rect x="362.5" y="439.6" width="71.2" height="13.6" filter="url(#F64)"/>
<rect x="362.5" y="439.6" width="71.2" height="13.6" filter="url(#F65)" mask="url(#mW)"/>
<g clip-path="url(#c26)"><g filter="url(#bl)">
<path d="M409.5 447.1h12" stroke="#238b45" stroke-opacity="0.4" stroke-width="1"/>
<path d="M374.1 453.1h6.2" stroke="#157f3b" stroke-opacity="0.4" stroke-width="1"/>
<path d="M410 450.1h10.8M373.6 452.1h8.7" stroke="#077331" stroke-opacity="0.4" stroke-width="1"/>
<path d="M430.6 451.1h3.1" stroke="#005422" stroke-opacity="0.4" stroke-width="1"/>
</g></g>
<rect x="362.5" y="455.2" width="71.2" height="82.6" filter="url(#F66)"/>
<rect x="362.5" y="455.2" width="71.2" height="82.6" filter="url(#F67)" mask="url(#mW)"/>
<g clip-path="url(#c27)"><g filter="url(#bl)">
<path d="M376.8 479.7h5.3M371.3 490.7h1.4M391.5 500.7h20.1M376 502.7h3M422.2 512.7h2.3M387.8 527.7h7.6M418.5 535.7h9.4" stroke="#238b45" stroke-opacity="0.4" stroke-width="1"/>
<path d="M406.2 461.7h11.2M381.1 469.7h3.4M402.2 471.7h10.7M389.5 480.7h10.3M368.1 484.7h1.7M425.8 508.7h2.1M429.4 522.7h4.3M413.2 537.7h5.3" stroke="#157f3b" stroke-opacity="0.4" stroke-width="1"/>
<path d="M391 456.7h8.2M387.2 519.7h6M379.5 523.7h2.3" stroke="#077331" stroke-opacity="0.4" stroke-width="1"/>
<path d="M409.2 474.7h8.4" stroke="#006529" stroke-opacity="0.4" stroke-width="1"/>
<path d="M382.9 520.7h2.8" stroke="#005422" stroke-opacity="0.4" stroke-width="1"/>
</g></g>
<rect x="362.5" y="380.2" width="71.2" height="157.6" fill="none" stroke="#7a7a7a" stroke-width="1"/>
<rect x="362" y="437.6" width="72.2" height="2" fill="#7a7a7a"/>
<rect x="362" y="453.2" width="72.2" height="2" fill="#5e5e5e"/>
<path d="M362.5 537.8v2.6" stroke="#777" stroke-width="0.8"/>
<path d="M398.1 537.8v2.6" stroke="#777" stroke-width="0.8"/>
<path d="M433.7 537.8v2.6" stroke="#777" stroke-width="0.8"/>
<text x="363.7" y="546.8" font-size="7" text-anchor="middle" fill="#222">-2.5</text>
<text x="398.1" y="546.8" font-size="7" text-anchor="middle" fill="#222">peak center</text>
<text x="436.3" y="546.8" font-size="7" text-anchor="end" fill="#222">2.5Kb</text>
<text x="481" y="306.2" font-size="13.3" text-anchor="middle" fill="#000" textLength="31.20" lengthAdjust="spacingAndGlyphs">GMP</text>
<path d="M445.4 370.1V308.4H516.6V370.1" fill="none" stroke="#8a8a8a" stroke-width="1"/>
<path d="M445.4 370.1H516.6" stroke="#666" stroke-width="1"/>
<path d="M445.4 370.1v2.4" stroke="#666" stroke-width="0.9"/>
<path d="M481 370.1v2.4" stroke="#666" stroke-width="0.9"/>
<path d="M516.6 370.1v2.4" stroke="#666" stroke-width="0.9"/>
<g fill="none" stroke-width="1.15" stroke-linejoin="round">
<path d="M445.4 365.7 L446.2 365.6 L447 365.7 L447.8 365.5 L448.6 365.9 L449.4 365.4 L450.1 365.4 L450.9 365.7 L451.7 365.7 L452.5 366.1 L453.3 365.5 L454.1 365.2 L454.9 365 L455.7 364.7 L456.5 364.4 L457.3 364.7 L458.1 364.6 L458.8 364.8 L459.6 365.4 L460.4 365.7 L461.2 365.5 L462 364.8 L462.8 364.4 L463.6 364.8 L464.4 364.1 L465.2 364.3 L466 363.6 L466.8 363.4 L467.6 363.2 L468.3 363.5 L469.1 363.2 L469.9 362.9 L470.7 362 L471.5 361.3 L472.3 361.3 L473.1 360.7 L473.9 360.3 L474.7 359.1 L475.5 358.2 L476.3 357.9 L477 357.5 L477.8 357.2 L478.6 357.6 L479.4 357.9 L480.2 357.3 L481 356.8 L481.8 356.7 L482.6 356.6 L483.4 357.4 L484.2 357.5 L485 358.5 L485.7 358 L486.5 358.7 L487.3 358.8 L488.1 359.9 L488.9 360.2 L489.7 360.5 L490.5 361.2 L491.3 362.1 L492.1 361.8 L492.9 362 L493.7 363 L494.4 363.2 L495.2 362.9 L496 363.9 L496.8 364.5 L497.6 364.3 L498.4 364 L499.2 363.7 L500 364.4 L500.8 364.9 L501.6 365.1 L502.4 365.3 L503.2 365 L503.9 364.7 L504.7 365 L505.5 365.4 L506.3 365.3 L507.1 365.3 L507.9 365.1 L508.7 365.6 L509.5 366 L510.3 365.5 L511.1 366 L511.9 366.1 L512.6 365.7 L513.4 365.3 L514.2 365.6 L515 365.6 L515.8 365.7 L516.6 366.2" stroke="#14d2f5"/>
<path d="M445.4 364.4 L446.2 364.6 L447 364.2 L447.8 364.2 L448.6 364 L449.4 364.1 L450.1 363.9 L450.9 363.8 L451.7 364 L452.5 363.7 L453.3 363.5 L454.1 363.4 L454.9 363.6 L455.7 363.4 L456.5 363.4 L457.3 363.4 L458.1 363 L458.8 362.7 L459.6 362.3 L460.4 362.3 L461.2 361.7 L462 361.6 L462.8 361.2 L463.6 360.8 L464.4 360.1 L465.2 359.8 L466 359 L466.8 358.2 L467.6 357.5 L468.3 356.4 L469.1 355.1 L469.9 353.7 L470.7 352.5 L471.5 351 L472.3 349.3 L473.1 347.5 L473.9 345.9 L474.7 344 L475.5 342.4 L476.3 341.4 L477 340.4 L477.8 339.7 L478.6 339.2 L479.4 338.9 L480.2 338.8 L481 338.7 L481.8 338.9 L482.6 338.8 L483.4 338.9 L484.2 339.3 L485 340 L485.7 341.1 L486.5 342.5 L487.3 343.8 L488.1 345.4 L488.9 347.4 L489.7 349 L490.5 350.8 L491.3 352.3 L492.1 353.6 L492.9 355.2 L493.7 356.4 L494.4 357.2 L495.2 358.1 L496 358.8 L496.8 359.7 L497.6 360 L498.4 360.5 L499.2 361.1 L500 361.6 L500.8 361.7 L501.6 361.8 L502.4 362.2 L503.2 362.6 L503.9 362.8 L504.7 362.8 L505.5 362.9 L506.3 363.3 L507.1 363.4 L507.9 363.8 L508.7 363.5 L509.5 363.7 L510.3 363.9 L511.1 363.9 L511.9 363.7 L512.6 363.8 L513.4 363.9 L514.2 363.8 L515 364.2 L515.8 364 L516.6 363.9" stroke="#ffdf10"/>
<path d="M445.4 358.8 L446.2 358.7 L447 358.3 L447.8 358.4 L448.6 358 L449.4 357.7 L450.1 357.7 L450.9 357.5 L451.7 357.1 L452.5 356.8 L453.3 356.3 L454.1 356 L454.9 355.2 L455.7 354.8 L456.5 354.2 L457.3 353.5 L458.1 352.7 L458.8 351.6 L459.6 350.9 L460.4 349.9 L461.2 349 L462 347.7 L462.8 346.7 L463.6 345.3 L464.4 343.6 L465.2 341.6 L466 339.7 L466.8 338 L467.6 335.6 L468.3 333.1 L469.1 330.7 L469.9 328.1 L470.7 326 L471.5 323.7 L472.3 321.1 L473.1 319.2 L473.9 317.1 L474.7 315.3 L475.5 314.1 L476.3 312.6 L477 311.7 L477.8 311.1 L478.6 311 L479.4 310.7 L480.2 310.6 L481 310.4 L481.8 310.3 L482.6 310.4 L483.4 310.8 L484.2 311.3 L485 312 L485.7 312.5 L486.5 313.6 L487.3 314.8 L488.1 316.8 L488.9 318.6 L489.7 321.1 L490.5 323.5 L491.3 326 L492.1 328.2 L492.9 330.8 L493.7 333.2 L494.4 335.1 L495.2 337.6 L496 339.2 L496.8 341.4 L497.6 342.9 L498.4 344.3 L499.2 345.8 L500 346.8 L500.8 348.3 L501.6 349.5 L502.4 350.1 L503.2 351.2 L503.9 352 L504.7 352.6 L505.5 353.3 L506.3 354 L507.1 354.7 L507.9 355 L508.7 355.2 L509.5 355.7 L510.3 355.9 L511.1 356.2 L511.9 356.4 L512.6 356.8 L513.4 356.9 L514.2 357.3 L515 357.4 L515.8 357.7 L516.6 357.7" stroke="#0c0c82"/>
</g>
<rect x="445.4" y="380.2" width="71.2" height="57.4" filter="url(#F68)"/>
<rect x="445.4" y="380.2" width="71.2" height="57.4" filter="url(#F69)" mask="url(#mW)"/>
<g clip-path="url(#c28)"><g filter="url(#bl)">
<path d="M455.5 398.7h3.5M504.1 402.7h12.4M508.1 405.7h1.8M508.6 408.7h8M470.5 416.7h1.2M469.9 421.7h12.5M497.2 422.7h3.3" stroke="#d94801" stroke-opacity="0.4" stroke-width="1"/>
<path d="M446.6 380.7h22.9M484.8 387.7h2.2M451.8 392.7h18.9M483.5 406.7h1.5M499.6 431.7h17" stroke="#c54102" stroke-opacity="0.4" stroke-width="1"/>
<path d="M458.6 409.7h6.1M465.8 412.7h5.6M492.2 423.7h5.5" stroke="#b03a03" stroke-opacity="0.4" stroke-width="1"/>
<path d="M448.9 384.7h2.2M465.6 395.7h22.5M453.6 413.7h3.6M480.8 425.7h13.8M457.9 427.7h3.3M467.5 428.7h7.1" stroke="#9e3303" stroke-opacity="0.4" stroke-width="1"/>
<path d="M447.5 417.7h5.9" stroke="#8f2d04" stroke-opacity="0.4" stroke-width="1"/>
</g></g>
<rect x="445.4" y="439.6" width="71.2" height="13.6" filter="url(#F70)"/>
<rect x="445.4" y="439.6" width="71.2" height="13.6" filter="url(#F71)" mask="url(#mW)"/>
<g clip-path="url(#c29)"><g filter="url(#bl)">
<path d="M487.8 440.1h3.8" stroke="#d94801" stroke-opacity="0.4" stroke-width="1"/>
<path d="M510.4 443.1h1.1M488 447.1h16.4M486.8 451.1h12.3M493.2 453.1h1.7" stroke="#b03a03" stroke-opacity="0.4" stroke-width="1"/>
</g></g>
<rect x="445.4" y="455.2" width="71.2" height="82.6" filter="url(#F72)"/>
<rect x="445.4" y="455.2" width="71.2" height="82.6" filter="url(#F73)" mask="url(#mW)"/>
<g clip-path="url(#c30)"><g filter="url(#bl)">
<path d="M456 466.7h3.3M452.5 495.7h8.8M485.5 496.7h5.8M482.6 504.7h1.4M486.9 512.7h2.1M464.6 514.7h20.2M459.2 516.7h1.8M474 517.7h7M504.9 521.7h5.7M502.6 534.7h4.1" stroke="#d94801" stroke-opacity="0.4" stroke-width="1"/>
<path d="M459.1 456.7h2.5M494 472.7h8.7M479.5 473.7h6.4M450.7 478.7h1.2M486.4 485.7h8.7M459 489.7h5.5M449.1 510.7h3.4M494.9 526.7h18.5M466.5 528.7h11.9M506.3 532.7h4" stroke="#c54102" stroke-opacity="0.4" stroke-width="1"/>
<path d="M490.1 468.7h8.2M500.6 480.7h2.1M463.1 488.7h9.8M509.1 503.7h7.5M513.5 506.7h3.1M473.5 507.7h19" stroke="#b03a03" stroke-opacity="0.4" stroke-width="1"/>
<path d="M473.5 460.7h11.5" stroke="#9e3303" stroke-opacity="0.4" stroke-width="1"/>
<path d="M449.5 455.7h9.7M470.1 457.7h9.4M460.9 461.7h8" stroke="#8f2d04" stroke-opacity="0.4" stroke-width="1"/>
</g></g>
<rect x="445.4" y="380.2" width="71.2" height="157.6" fill="none" stroke="#7a7a7a" stroke-width="1"/>
<rect x="444.9" y="437.6" width="72.2" height="2" fill="#7a7a7a"/>
<rect x="444.9" y="453.2" width="72.2" height="2" fill="#5e5e5e"/>
<path d="M445.4 537.8v2.6" stroke="#777" stroke-width="0.8"/>
<path d="M481 537.8v2.6" stroke="#777" stroke-width="0.8"/>
<path d="M516.6 537.8v2.6" stroke="#777" stroke-width="0.8"/>
<text x="446.6" y="546.8" font-size="7" text-anchor="middle" fill="#222">-2.5</text>
<text x="481" y="546.8" font-size="7" text-anchor="middle" fill="#222">peak center</text>
<text x="519.2" y="546.8" font-size="7" text-anchor="end" fill="#222">2.5Kb</text>
<text x="563.8" y="306.2" font-size="13.3" text-anchor="middle" fill="#000" textLength="27.92" lengthAdjust="spacingAndGlyphs">ERY</text>
<path d="M528.2 370.1V308.4H599.4V370.1" fill="none" stroke="#8a8a8a" stroke-width="1"/>
<path d="M528.2 370.1H599.4" stroke="#666" stroke-width="1"/>
<path d="M528.2 370.1v2.4" stroke="#666" stroke-width="0.9"/>
<path d="M563.8 370.1v2.4" stroke="#666" stroke-width="0.9"/>
<path d="M599.4 370.1v2.4" stroke="#666" stroke-width="0.9"/>
<g fill="none" stroke-width="1.15" stroke-linejoin="round">
<path d="M528.2 364.5 L529 364.3 L529.8 364.6 L530.6 364.8 L531.4 364.9 L532.2 364.7 L532.9 364.7 L533.7 365 L534.5 365.2 L535.3 364.8 L536.1 364.6 L536.9 364.4 L537.7 364.7 L538.5 364.4 L539.3 364.7 L540.1 365.1 L540.9 365.2 L541.6 364.9 L542.4 365.1 L543.2 364.7 L544 364.9 L544.8 364.6 L545.6 364.8 L546.4 364.4 L547.2 364.6 L548 365 L548.8 364.6 L549.6 364.3 L550.4 364.4 L551.1 364.1 L551.9 364 L552.7 364.4 L553.5 364.8 L554.3 365 L555.1 365 L555.9 364.6 L556.7 364.7 L557.5 364.6 L558.3 364.5 L559.1 364.2 L559.8 364.1 L560.6 363.7 L561.4 363.4 L562.2 363.1 L563 363 L563.8 363.1 L564.6 363.1 L565.4 363.6 L566.2 363.7 L567 363.7 L567.8 364.2 L568.5 364.5 L569.3 364.1 L570.1 364.1 L570.9 364.5 L571.7 364.5 L572.5 364.9 L573.3 365 L574.1 365.3 L574.9 365.2 L575.7 364.8 L576.5 364.5 L577.2 364.6 L578 364.5 L578.8 364.8 L579.6 365.1 L580.4 365.1 L581.2 365.3 L582 364.9 L582.8 365.4 L583.6 365.7 L584.4 365.3 L585.2 365.4 L586 365.4 L586.7 365.4 L587.5 365.2 L588.3 365.1 L589.1 365 L589.9 365 L590.7 365.4 L591.5 365.5 L592.3 365.5 L593.1 365 L593.9 364.8 L594.7 365 L595.4 365.4 L596.2 365.3 L597 365.5 L597.8 365.2 L598.6 365.4 L599.4 365.8" stroke="#14d2f5"/>
<path d="M528.2 362 L529 361.9 L529.8 362 L530.6 361.8 L531.4 362 L532.2 362.1 L532.9 362 L533.7 361.8 L534.5 361.9 L535.3 361.6 L536.1 361.6 L536.9 361.4 L537.7 361.3 L538.5 361.4 L539.3 361.1 L540.1 361.1 L540.9 361 L541.6 360.6 L542.4 360.7 L543.2 360.4 L544 360.2 L544.8 359.8 L545.6 359.6 L546.4 359.5 L547.2 359.1 L548 358.8 L548.8 358.5 L549.6 358.2 L550.4 357.7 L551.1 357 L551.9 356.4 L552.7 355.7 L553.5 355.1 L554.3 354.5 L555.1 353.9 L555.9 352.9 L556.7 352 L557.5 351 L558.3 350.5 L559.1 349.6 L559.8 348.9 L560.6 348.3 L561.4 347.9 L562.2 347.8 L563 347.6 L563.8 347.7 L564.6 347.8 L565.4 347.9 L566.2 348.3 L567 348.7 L567.8 349.3 L568.5 349.9 L569.3 350.7 L570.1 351.5 L570.9 352.2 L571.7 353.1 L572.5 354 L573.3 354.8 L574.1 355.4 L574.9 356 L575.7 356.5 L576.5 357.1 L577.2 357.4 L578 358 L578.8 358.5 L579.6 359 L580.4 359.1 L581.2 359.5 L582 359.8 L582.8 360.1 L583.6 360.2 L584.4 360.2 L585.2 360.7 L586 361 L586.7 360.9 L587.5 361.3 L588.3 361.4 L589.1 361.2 L589.9 361.5 L590.7 361.5 L591.5 361.6 L592.3 361.5 L593.1 361.9 L593.9 362 L594.7 361.9 L595.4 362 L596.2 362.1 L597 362.3 L597.8 362.2 L598.6 362.3 L599.4 362.5" stroke="#ffdf10"/>
<path d="M528.2 348.1 L529 347.9 L529.8 347.6 L530.6 347.3 L531.4 347.1 L532.2 346.9 L532.9 346.5 L533.7 346.1 L534.5 345.7 L535.3 345.1 L536.1 344.8 L536.9 344.4 L537.7 343.8 L538.5 343.2 L539.3 342.3 L540.1 341.9 L540.9 341.2 L541.6 340.4 L542.4 339.5 L543.2 338.7 L544 337.8 L544.8 336.7 L545.6 335.7 L546.4 334.8 L547.2 333.7 L548 332.5 L548.8 331.2 L549.6 330 L550.4 328.6 L551.1 326.8 L551.9 325.3 L552.7 323.6 L553.5 322.3 L554.3 320.8 L555.1 319.2 L555.9 317.6 L556.7 316.2 L557.5 315 L558.3 313.9 L559.1 312.6 L559.8 311.9 L560.6 311.2 L561.4 310.6 L562.2 310.5 L563 310.5 L563.8 310.5 L564.6 310.5 L565.4 310.6 L566.2 310.7 L567 311.2 L567.8 312 L568.5 313 L569.3 313.9 L570.1 314.9 L570.9 316.4 L571.7 317.9 L572.5 319.4 L573.3 320.8 L574.1 322.2 L574.9 323.7 L575.7 325.1 L576.5 326.6 L577.2 328.2 L578 329.8 L578.8 331.2 L579.6 332.4 L580.4 333.4 L581.2 334.8 L582 335.6 L582.8 336.5 L583.6 337.6 L584.4 338.6 L585.2 339.6 L586 340.4 L586.7 341.2 L587.5 341.9 L588.3 342.6 L589.1 343.2 L589.9 343.6 L590.7 344.1 L591.5 344.6 L592.3 344.8 L593.1 345.3 L593.9 345.7 L594.7 346.2 L595.4 346.4 L596.2 346.9 L597 347 L597.8 347.3 L598.6 347.7 L599.4 347.9" stroke="#0c0c82"/>
</g>
<rect x="528.2" y="380.2" width="71.2" height="57.4" filter="url(#F74)"/>
<rect x="528.2" y="380.2" width="71.2" height="57.4" filter="url(#F75)" mask="url(#mX)"/>
<g clip-path="url(#c31)"><g filter="url(#bl)">
<path d="M547.3 380.7h11.6M598.3 383.7h1.1M558.5 385.7h3.8M545.6 388.7h8.7M580.5 427.7h2.8" stroke="#cb181d" stroke-opacity="0.4" stroke-width="1"/>
<path d="M535.7 387.7h2.1M566.9 404.7h1.3M562.3 408.7h8.7M589.1 432.7h5.4" stroke="#bc141a" stroke-opacity="0.4" stroke-width="1"/>
<path d="M575.1 402.7h8.6M543.3 418.7h21.4M563.8 436.7h4.6" stroke="#ad1117" stroke-opacity="0.4" stroke-width="1"/>
<path d="M584.6 399.7h6.3M541.9 401.7h9" stroke="#990c13" stroke-opacity="0.4" stroke-width="1"/>
<path d="M571.9 419.7h2.1M578.2 429.7h2.7" stroke="#800610" stroke-opacity="0.4" stroke-width="1"/>
</g></g>
<rect x="528.2" y="439.6" width="71.2" height="13.6" filter="url(#F76)"/>
<rect x="528.2" y="439.6" width="71.2" height="13.6" filter="url(#F77)" mask="url(#mW)"/>
<g clip-path="url(#c32)"><g filter="url(#bl)">
<path d="M529.1 452.1h8.2" stroke="#bc141a" stroke-opacity="0.4" stroke-width="1"/>
<path d="M559.7 445.1h14.4" stroke="#ad1117" stroke-opacity="0.4" stroke-width="1"/>
<path d="M530 447.1h20.8" stroke="#990c13" stroke-opacity="0.4" stroke-width="1"/>
</g></g>
<rect x="528.2" y="455.2" width="71.2" height="82.6" filter="url(#F78)"/>
<rect x="528.2" y="455.2" width="71.2" height="82.6" filter="url(#F79)" mask="url(#mW)"/>
<g clip-path="url(#c33)"><g filter="url(#bl)">
<path d="M534 487.7h5.9M588.9 503.7h8.5M570.4 516.7h9.2M587.9 533.7h9.4" stroke="#cb181d" stroke-opacity="0.4" stroke-width="1"/>
<path d="M554.5 462.7h4.9M574 463.7h9.8M568.6 473.7h1.8M548.2 476.7h4.5M538 479.7h5M584 498.7h7.6M561.3 501.7h5.4M532.7 531.7h10.3M590.4 534.7h9" stroke="#bc141a" stroke-opacity="0.4" stroke-width="1"/>
<path d="M570.6 456.7h26M565.4 458.7h5.5M563.6 466.7h9.5M588.9 472.7h2.7M572.5 481.7h11.1M593.2 490.7h6.2M566.7 492.7h1.8M554.6 511.7h17.9M575.3 512.7h7.2M580.4 525.7h19M557 530.7h13.3" stroke="#ad1117" stroke-opacity="0.4" stroke-width="1"/>
<path d="M592.6 457.7h1.3M589.6 467.7h5.5M592.3 469.7h7.1M593.9 510.7h5.5M564.7 515.7h4.9M570.8 523.7h2.4M544.6 537.7h8.7" stroke="#990c13" stroke-opacity="0.4" stroke-width="1"/>
<path d="M529.6 491.7h8.3M540.8 499.7h1.4M581.6 505.7h2.2" stroke="#800610" stroke-opacity="0.4" stroke-width="1"/>
</g></g>
<rect x="528.2" y="380.2" width="71.2" height="157.6" fill="none" stroke="#7a7a7a" stroke-width="1"/>
<rect x="527.7" y="437.6" width="72.2" height="2" fill="#7a7a7a"/>
<rect x="527.7" y="453.2" width="72.2" height="2" fill="#5e5e5e"/>
<path d="M528.2 537.8v2.6" stroke="#777" stroke-width="0.8"/>
<path d="M563.8 537.8v2.6" stroke="#777" stroke-width="0.8"/>
<path d="M599.4 537.8v2.6" stroke="#777" stroke-width="0.8"/>
<text x="529.4" y="546.8" font-size="7" text-anchor="middle" fill="#222">-2.5</text>
<text x="563.8" y="546.8" font-size="7" text-anchor="middle" fill="#222">peak center</text>
<text x="602" y="546.8" font-size="7" text-anchor="end" fill="#222">2.5Kb</text>
<text x="650.2" y="306.2" font-size="13.3" text-anchor="middle" fill="#000" textLength="40.73" lengthAdjust="spacingAndGlyphs">T-CD4</text>
<path d="M611.3 370.1V308.4H682.5V370.1" fill="none" stroke="#8a8a8a" stroke-width="1"/>
<path d="M611.3 370.1H682.5" stroke="#666" stroke-width="1"/>
<path d="M611.3 370.1v2.4" stroke="#666" stroke-width="0.9"/>
<path d="M646.9 370.1v2.4" stroke="#666" stroke-width="0.9"/>
<path d="M682.5 370.1v2.4" stroke="#666" stroke-width="0.9"/>
<g fill="none" stroke-width="1.15" stroke-linejoin="round">
<path d="M611.3 358.9 L612.1 359.1 L612.9 359.7 L613.7 359.9 L614.5 359.9 L615.3 359.4 L616 359.7 L616.8 359.3 L617.6 358.2 L618.4 358.3 L619.2 357.6 L620 358.8 L620.8 359.5 L621.6 358.7 L622.4 358.2 L623.2 358.7 L624 357.8 L624.7 357.2 L625.5 356.8 L626.3 356.7 L627.1 357.1 L627.9 357.8 L628.7 356.7 L629.5 357.4 L630.3 357 L631.1 357.5 L631.9 357.4 L632.7 355.8 L633.5 355.3 L634.2 353.5 L635 351.8 L635.8 351.1 L636.6 351.1 L637.4 350.5 L638.2 349.5 L639 350.2 L639.8 350.2 L640.6 348.4 L641.4 347.5 L642.2 347.1 L642.9 347.3 L643.7 346.2 L644.5 346.8 L645.3 348.3 L646.1 348.7 L646.9 349.1 L647.7 349.3 L648.5 348.4 L649.3 347 L650.1 346.5 L650.9 346 L651.6 345.6 L652.4 346.9 L653.2 347.3 L654 348.4 L654.8 350.1 L655.6 351.6 L656.4 352.7 L657.2 352.8 L658 352.1 L658.8 353.4 L659.6 354.6 L660.3 355.5 L661.1 356.5 L661.9 356.8 L662.7 357.1 L663.5 357.3 L664.3 356.6 L665.1 357.4 L665.9 358.3 L666.7 357.7 L667.5 358.7 L668.3 359.2 L669.1 358.6 L669.8 358.3 L670.6 359.1 L671.4 358.8 L672.2 358.8 L673 359.5 L673.8 359.9 L674.6 360.4 L675.4 360.4 L676.2 360 L677 359.3 L677.8 359.3 L678.5 359.4 L679.3 360.2 L680.1 361 L680.9 360.5 L681.7 360.6 L682.5 361.6" stroke="#14d2f5"/>
<path d="M611.3 365.9 L612.1 365.7 L612.9 365.9 L613.7 366 L614.5 365.8 L615.3 365.8 L616 365.5 L616.8 365.3 L617.6 365.2 L618.4 365.3 L619.2 365.1 L620 365.3 L620.8 364.9 L621.6 364.7 L622.4 364.5 L623.2 364.7 L624 364.5 L624.7 364.4 L625.5 364.1 L626.3 364.1 L627.1 363.8 L627.9 363.4 L628.7 363.2 L629.5 362.9 L630.3 362.4 L631.1 362.3 L631.9 362 L632.7 361.5 L633.5 361.1 L634.2 360.3 L635 359.4 L635.8 358.6 L636.6 357.6 L637.4 356.6 L638.2 355.1 L639 353.8 L639.8 352.3 L640.6 350.5 L641.4 348.4 L642.2 346.7 L642.9 344.5 L643.7 342.7 L644.5 340.8 L645.3 339.3 L646.1 338.2 L646.9 337.5 L647.7 337.2 L648.5 337.5 L649.3 337.9 L650.1 338.5 L650.9 339.6 L651.6 341 L652.4 342.8 L653.2 344.9 L654 346.7 L654.8 348.9 L655.6 350.8 L656.4 352.5 L657.2 353.7 L658 355 L658.8 356.1 L659.6 357.3 L660.3 358.7 L661.1 359.7 L661.9 360.5 L662.7 360.8 L663.5 361.5 L664.3 362.1 L665.1 362.6 L665.9 363 L666.7 363 L667.5 363.2 L668.3 363.6 L669.1 364 L669.8 364.3 L670.6 364.4 L671.4 364.7 L672.2 364.5 L673 364.9 L673.8 365.2 L674.6 365 L675.4 364.9 L676.2 365.1 L677 365.3 L677.8 365.3 L678.5 365.2 L679.3 365.2 L680.1 365.6 L680.9 365.4 L681.7 365.8 L682.5 365.6" stroke="#ffdf10"/>
<path d="M611.3 362.5 L612.1 362.6 L612.9 362.3 L613.7 362.5 L614.5 362.5 L615.3 362.2 L616 362.2 L616.8 362.1 L617.6 361.5 L618.4 361.5 L619.2 361.5 L620 361.3 L620.8 361.4 L621.6 361.2 L622.4 360.7 L623.2 360.1 L624 359.5 L624.7 359.7 L625.5 359.4 L626.3 359 L627.1 358.4 L627.9 357.8 L628.7 357 L629.5 356.5 L630.3 355.4 L631.1 354.9 L631.9 354.1 L632.7 353.1 L633.5 351.5 L634.2 349.8 L635 348.2 L635.8 346.7 L636.6 344.6 L637.4 342.4 L638.2 339.5 L639 336.4 L639.8 333.5 L640.6 329.5 L641.4 325.7 L642.2 322.3 L642.9 319.1 L643.7 316.1 L644.5 314 L645.3 312.5 L646.1 311.9 L646.9 311.9 L647.7 312.3 L648.5 313.1 L649.3 314.5 L650.1 316.8 L650.9 318.9 L651.6 321.5 L652.4 324.6 L653.2 327.8 L654 331.1 L654.8 334.9 L655.6 338.4 L656.4 341.8 L657.2 344.4 L658 346.6 L658.8 348.9 L659.6 350.4 L660.3 351.6 L661.1 353.2 L661.9 354.5 L662.7 354.8 L663.5 355.2 L664.3 356.4 L665.1 357.3 L665.9 357.5 L666.7 357.7 L667.5 358.4 L668.3 359.1 L669.1 359 L669.8 359.3 L670.6 359.7 L671.4 359.7 L672.2 359.9 L673 359.9 L673.8 360.2 L674.6 360.2 L675.4 360.2 L676.2 360.5 L677 360.5 L677.8 360.5 L678.5 360.6 L679.3 360.9 L680.1 361 L680.9 361.5 L681.7 361.5 L682.5 361.4" stroke="#0c0c82"/>
</g>
<rect x="611.3" y="380.2" width="71.2" height="57.4" filter="url(#F80)"/>
<rect x="611.3" y="380.2" width="71.2" height="57.4" filter="url(#F81)" mask="url(#mW)"/>
<g clip-path="url(#c34)"><g filter="url(#bl)">
<path d="M622.2 380.7h2M673.8 381.7h8.7M668.5 384.7h10.2M650.7 388.7h6.6M647.9 395.7h6M612 400.7h2M670.6 405.7h2.3M658.9 406.7h2.2M669.6 410.7h3.1M633.4 412.7h10.4M614.6 415.7h15.4M644.6 421.7h6.3M678.4 426.7h4.1M625 432.7h2M658.1 435.7h7" stroke="#6a51a3" stroke-opacity="0.4" stroke-width="1"/>
<path d="M675.6 382.7h6.9M627.6 397.7h14.7M659.9 409.7h22.6M633.1 413.7h2.9M680.1 431.7h2.4" stroke="#61409b" stroke-opacity="0.4" stroke-width="1"/>
<path d="M675.1 390.7h3.4M613 391.7h17.3M630.5 393.7h9.5M619.7 403.7h18.9M656.5 419.7h15.4M663.7 427.7h7.4M674.8 428.7h1.3" stroke="#582f93" stroke-opacity="0.4" stroke-width="1"/>
<path d="M644.6 398.7h10.2M621.9 401.7h5.6M662.3 408.7h5.3M616.4 420.7h5.5M672.6 423.7h6.2M631.2 434.7h1.6" stroke="#501f8b" stroke-opacity="0.4" stroke-width="1"/>
<path d="M623.1 385.7h2.6M659.4 436.7h1.9" stroke="#471084" stroke-opacity="0.4" stroke-width="1"/>
</g></g>
<rect x="611.3" y="439.6" width="71.2" height="13.6" filter="url(#F82)"/>
<rect x="611.3" y="439.6" width="71.2" height="13.6" filter="url(#F83)" mask="url(#mW)"/>
<g clip-path="url(#c35)"><g filter="url(#bl)">
<path d="M666.8 453.1h15.7" stroke="#61409b" stroke-opacity="0.4" stroke-width="1"/>
<path d="M622.4 444.1h4.9M656.1 446.1h10.8" stroke="#582f93" stroke-opacity="0.4" stroke-width="1"/>
<path d="M636.2 445.1h6.5M657.3 448.1h2.3M654.5 449.1h2.4" stroke="#501f8b" stroke-opacity="0.4" stroke-width="1"/>
</g></g>
<rect x="611.3" y="455.2" width="71.2" height="82.6" filter="url(#F84)"/>
<rect x="611.3" y="455.2" width="71.2" height="82.6" filter="url(#F85)" mask="url(#mW)"/>
<g clip-path="url(#c36)"><g filter="url(#bl)">
<path d="M656.5 465.7h12M670.2 476.7h4.4M636.4 494.7h5.8M616.8 508.7h1.9M673.3 524.7h9.2M648.4 527.7h4M672.8 529.7h9.7M680.3 532.7h2.2" stroke="#6a51a3" stroke-opacity="0.4" stroke-width="1"/>
<path d="M662.3 463.7h3.5M680.1 466.7h2.4M614.7 473.7h19M677.1 478.7h5.4M623.9 490.7h1.5M653.8 496.7h15.4M611.9 498.7h2M628.8 502.7h3.6M664.8 505.7h17.7M637.6 517.7h44.9M671.5 531.7h5.2" stroke="#61409b" stroke-opacity="0.4" stroke-width="1"/>
<path d="M638.4 457.7h12.5M655.9 458.7h12.2M631.4 461.7h3.9M653.2 482.7h3M678.4 491.7h2.2M666.4 492.7h1.1M679.3 504.7h3.2M651.2 518.7h11.8M643.6 535.7h3" stroke="#582f93" stroke-opacity="0.4" stroke-width="1"/>
<path d="M632.7 469.7h8.7M630.4 483.7h3.3M637.1 485.7h1.6M676.2 513.7h2.1" stroke="#501f8b" stroke-opacity="0.4" stroke-width="1"/>
<path d="M668.6 462.7h8.6M680.9 522.7h1.6M679.5 537.7h3" stroke="#471084" stroke-opacity="0.4" stroke-width="1"/>
</g></g>
<rect x="611.3" y="380.2" width="71.2" height="157.6" fill="none" stroke="#7a7a7a" stroke-width="1"/>
<rect x="610.8" y="437.6" width="72.2" height="2" fill="#7a7a7a"/>
<rect x="610.8" y="453.2" width="72.2" height="2" fill="#5e5e5e"/>
<path d="M611.3 537.8v2.6" stroke="#777" stroke-width="0.8"/>
<path d="M646.9 537.8v2.6" stroke="#777" stroke-width="0.8"/>
<path d="M682.5 537.8v2.6" stroke="#777" stroke-width="0.8"/>
<text x="612.5" y="546.8" font-size="7" text-anchor="middle" fill="#222">-2.5</text>
<text x="646.9" y="546.8" font-size="7" text-anchor="middle" fill="#222">peak center</text>
<text x="685.1" y="546.8" font-size="7" text-anchor="end" fill="#222">2.5Kb</text>
<text x="359.2" y="409.4" font-size="9.5" text-anchor="middle" fill="#000" font-weight="bold" transform="rotate(-90 359.2 409.4)">14</text>
<text x="359.2" y="446.4" font-size="9.5" text-anchor="middle" fill="#000" font-weight="bold" transform="rotate(-90 359.2 446.4)">4</text>
<text x="359.2" y="496" font-size="9.5" text-anchor="middle" fill="#000" font-weight="bold" transform="rotate(-90 359.2 496)">1</text>
<path d="M23.1 35.7H41.6" stroke="#0c0c82" stroke-width="2.4"/>
<text x="43" y="39.2" font-size="9.5" text-anchor="start" fill="#000" font-weight="bold">14</text>
<path d="M23.1 47.4H41.6" stroke="#14d2f5" stroke-width="2.4"/>
<text x="43" y="50.8" font-size="9.5" text-anchor="start" fill="#000" font-weight="bold">4</text>
<path d="M23.1 58.5H41.6" stroke="#ffdf10" stroke-width="2.4"/>
<text x="43" y="61.9" font-size="9.5" text-anchor="start" fill="#000" font-weight="bold">1</text>
<path d="M350 30V551.5" stroke="#8e8e8e" stroke-width="2"/>
<path d="M11 273.75H683.3" stroke="#858585" stroke-width="1.6"/>
<text x="-1.1" y="579.2" font-size="35.3" text-anchor="start" fill="#000" font-weight="bold">b</text>
<rect x="33.8" y="577.6" width="63.4" height="189.9" fill="#fff"/>
<path d="M33.8 577.6H97.2" stroke="#e3e3e3" stroke-width="0.9"/>
<path d="M33.8 598.7H97.2" stroke="#e3e3e3" stroke-width="0.9"/>
<path d="M33.8 619.8H97.2" stroke="#e3e3e3" stroke-width="0.9"/>
<path d="M33.8 640.9H97.2" stroke="#e3e3e3" stroke-width="0.9"/>
<path d="M33.8 662H97.2" stroke="#e3e3e3" stroke-width="0.9"/>
<path d="M33.8 683.1H97.2" stroke="#e3e3e3" stroke-width="0.9"/>
<path d="M33.8 704.2H97.2" stroke="#e3e3e3" stroke-width="0.9"/>
<path d="M33.8 725.3H97.2" stroke="#e3e3e3" stroke-width="0.9"/>
<path d="M33.8 746.4H97.2" stroke="#e3e3e3" stroke-width="0.9"/>
<path d="M33.8 767.5H97.2" stroke="#e3e3e3" stroke-width="0.9"/>
<path d="M33.8 577.6V767.5" stroke="#e3e3e3" stroke-width="1.2"/>
<path d="M54.9 577.6V767.5" stroke="#e3e3e3" stroke-width="1.2"/>
<path d="M76.1 577.6V767.5" stroke="#e3e3e3" stroke-width="1.2"/>
<path d="M97.2 577.6V767.5" stroke="#e3e3e3" stroke-width="1.2"/>
<rect x="33.8" y="577.6" width="21.1" height="21.1" fill="#ee6aa6" stroke="#b24d7c" stroke-opacity="0.55" stroke-width="0.8"/>
<rect x="33.8" y="598.7" width="21.1" height="21.1" fill="#ec63a0" stroke="#b24d7c" stroke-opacity="0.55" stroke-width="0.8"/>
<rect x="54.9" y="598.7" width="21.1" height="21.1" fill="#f59cc0" stroke="#b24d7c" stroke-opacity="0.55" stroke-width="0.8"/>
<rect x="76.1" y="598.7" width="21.1" height="21.1" fill="#fbc2d7" stroke="#b24d7c" stroke-opacity="0.55" stroke-width="0.8"/>
<rect x="33.8" y="619.8" width="21.1" height="21.1" fill="#ef70aa" stroke="#b24d7c" stroke-opacity="0.55" stroke-width="0.8"/>
<rect x="33.8" y="640.9" width="21.1" height="21.1" fill="#f492bd" stroke="#b24d7c" stroke-opacity="0.55" stroke-width="0.8"/>
<rect x="33.8" y="662" width="21.1" height="21.1" fill="#ee6aa6" stroke="#b24d7c" stroke-opacity="0.55" stroke-width="0.8"/>
<rect x="33.8" y="683.1" width="21.1" height="21.1" fill="#f38fbb" stroke="#b24d7c" stroke-opacity="0.55" stroke-width="0.8"/>
<rect x="33.8" y="704.2" width="21.1" height="21.1" fill="#ed64a1" stroke="#b24d7c" stroke-opacity="0.55" stroke-width="0.8"/>
<rect x="33.8" y="725.3" width="21.1" height="21.1" fill="#f282b3" stroke="#b24d7c" stroke-opacity="0.55" stroke-width="0.8"/>
<rect x="33.8" y="746.4" width="21.1" height="21.1" fill="#f17aaf" stroke="#b24d7c" stroke-opacity="0.55" stroke-width="0.8"/>
<path d="M31.3 577.2V769.3H100.6" fill="none" stroke="#333" stroke-width="1.1"/>
<path d="M29 588.1H31.3" stroke="#333" stroke-width="0.9"/>
<text x="26.4" y="591" font-size="8.1" text-anchor="end" fill="#2a2a2a">T&#160;&#160;CD8</text>
<path d="M29 609.2H31.3" stroke="#333" stroke-width="0.9"/>
<text x="26.4" y="612.1" font-size="8.1" text-anchor="end" fill="#2a2a2a">T&#160;&#160;CD4</text>
<path d="M29 630.4H31.3" stroke="#333" stroke-width="0.9"/>
<text x="26.4" y="633.2" font-size="8.1" text-anchor="end" fill="#2a2a2a">NEU</text>
<path d="M29 651.5H31.3" stroke="#333" stroke-width="0.9"/>
<text x="26.4" y="654.4" font-size="8.1" text-anchor="end" fill="#2a2a2a">MONO</text>
<path d="M29 672.6H31.3" stroke="#333" stroke-width="0.9"/>
<text x="26.4" y="675.5" font-size="8.1" text-anchor="end" fill="#2a2a2a">MK</text>
<path d="M29 693.7H31.3" stroke="#333" stroke-width="0.9"/>
<text x="26.4" y="696.6" font-size="8.1" text-anchor="end" fill="#2a2a2a">MEP</text>
<path d="M29 714.8H31.3" stroke="#333" stroke-width="0.9"/>
<text x="26.4" y="717.6" font-size="8.1" text-anchor="end" fill="#2a2a2a">MEL</text>
<path d="M29 735.9H31.3" stroke="#333" stroke-width="0.9"/>
<text x="26.4" y="738.8" font-size="8.1" text-anchor="end" fill="#2a2a2a">LSK</text>
<path d="M29 757H31.3" stroke="#333" stroke-width="0.9"/>
<text x="26.4" y="759.9" font-size="8.1" text-anchor="end" fill="#2a2a2a">GMP</text>
<path d="M44.4 769.3V771.8" stroke="#333" stroke-width="0.9"/>
<text x="44.4" y="779.8" font-size="8" text-anchor="middle" fill="#2a2a2a">1</text>
<path d="M65.5 769.3V771.8" stroke="#333" stroke-width="0.9"/>
<text x="65.5" y="779.8" font-size="8" text-anchor="middle" fill="#2a2a2a">4</text>
<path d="M86.6 769.3V771.8" stroke="#333" stroke-width="0.9"/>
<text x="86.6" y="779.8" font-size="8" text-anchor="middle" fill="#2a2a2a">14</text>
<rect x="132.7" y="598.3" width="63.6" height="169.3" fill="#fff"/>
<path d="M132.7 598.3H196.3" stroke="#e3e3e3" stroke-width="0.9"/>
<path d="M132.7 619.5H196.3" stroke="#e3e3e3" stroke-width="0.9"/>
<path d="M132.7 640.6H196.3" stroke="#e3e3e3" stroke-width="0.9"/>
<path d="M132.7 661.8H196.3" stroke="#e3e3e3" stroke-width="0.9"/>
<path d="M132.7 682.9H196.3" stroke="#e3e3e3" stroke-width="0.9"/>
<path d="M132.7 704.1H196.3" stroke="#e3e3e3" stroke-width="0.9"/>
<path d="M132.7 725.3H196.3" stroke="#e3e3e3" stroke-width="0.9"/>
<path d="M132.7 746.4H196.3" stroke="#e3e3e3" stroke-width="0.9"/>
<path d="M132.7 767.6H196.3" stroke="#e3e3e3" stroke-width="0.9"/>
<path d="M132.7 598.3V767.6" stroke="#e3e3e3" stroke-width="1.2"/>
<path d="M153.9 598.3V767.6" stroke="#e3e3e3" stroke-width="1.2"/>
<path d="M175.1 598.3V767.6" stroke="#e3e3e3" stroke-width="1.2"/>
<path d="M196.3 598.3V767.6" stroke="#e3e3e3" stroke-width="1.2"/>
<rect x="132.7" y="598.3" width="21.2" height="21.2" fill="#f06fa9" stroke="#b24d7c" stroke-opacity="0.55" stroke-width="0.8"/>
<rect x="153.9" y="598.3" width="21.2" height="21.2" fill="#f7a3c5" stroke="#b24d7c" stroke-opacity="0.55" stroke-width="0.8"/>
<rect x="175.1" y="598.3" width="21.2" height="21.2" fill="#fcd2e2" stroke="#b24d7c" stroke-opacity="0.55" stroke-width="0.8"/>
<rect x="132.7" y="619.5" width="21.2" height="21.2" fill="#ed64a1" stroke="#b24d7c" stroke-opacity="0.55" stroke-width="0.8"/>
<rect x="153.9" y="619.5" width="21.2" height="21.2" fill="#fab9d3" stroke="#b24d7c" stroke-opacity="0.55" stroke-width="0.8"/>
<rect x="175.1" y="619.5" width="21.2" height="21.2" fill="#f8a6c7" stroke="#b24d7c" stroke-opacity="0.55" stroke-width="0.8"/>
<rect x="132.7" y="640.6" width="21.2" height="21.2" fill="#ee6aa5" stroke="#b24d7c" stroke-opacity="0.55" stroke-width="0.8"/>
<rect x="175.1" y="640.6" width="21.2" height="21.2" fill="#f9b3cf" stroke="#b24d7c" stroke-opacity="0.55" stroke-width="0.8"/>
<rect x="132.7" y="661.8" width="21.2" height="21.2" fill="#ef6fa9" stroke="#b24d7c" stroke-opacity="0.55" stroke-width="0.8"/>
<rect x="132.7" y="682.9" width="21.2" height="21.2" fill="#f07bae" stroke="#b24d7c" stroke-opacity="0.55" stroke-width="0.8"/>
<rect x="132.7" y="704.1" width="21.2" height="21.2" fill="#ec5f9e" stroke="#b24d7c" stroke-opacity="0.55" stroke-width="0.8"/>
<rect x="153.9" y="704.1" width="21.2" height="21.2" fill="#f6a0c3" stroke="#b24d7c" stroke-opacity="0.55" stroke-width="0.8"/>
<rect x="132.7" y="725.3" width="21.2" height="21.2" fill="#ee67a3" stroke="#b24d7c" stroke-opacity="0.55" stroke-width="0.8"/>
<rect x="132.7" y="746.4" width="21.2" height="21.2" fill="#f38fbb" stroke="#b24d7c" stroke-opacity="0.55" stroke-width="0.8"/>
<path d="M130.9 590.5V769.3H198.5" fill="none" stroke="#333" stroke-width="1.1"/>
<path d="M128.6 608.9H130.9" stroke="#333" stroke-width="0.9"/>
<text x="126" y="611.8" font-size="8.1" text-anchor="end" fill="#2a2a2a">G1E</text>
<path d="M128.6 630H130.9" stroke="#333" stroke-width="0.9"/>
<text x="126" y="632.9" font-size="8.1" text-anchor="end" fill="#2a2a2a">ERY_fl</text>
<path d="M128.6 651.2H130.9" stroke="#333" stroke-width="0.9"/>
<text x="126" y="654.1" font-size="8.1" text-anchor="end" fill="#2a2a2a">ERY</text>
<path d="M128.6 672.4H130.9" stroke="#333" stroke-width="0.9"/>
<text x="126" y="675.3" font-size="8.1" text-anchor="end" fill="#2a2a2a">ER4</text>
<path d="M128.6 693.5H130.9" stroke="#333" stroke-width="0.9"/>
<text x="126" y="696.4" font-size="8.1" text-anchor="end" fill="#2a2a2a">CMP</text>
<path d="M128.6 714.7H130.9" stroke="#333" stroke-width="0.9"/>
<text x="126" y="717.6" font-size="8.1" text-anchor="end" fill="#2a2a2a">CH12</text>
<path d="M128.6 735.8H130.9" stroke="#333" stroke-width="0.9"/>
<text x="126" y="738.7" font-size="8.1" text-anchor="end" fill="#2a2a2a">CFUMK</text>
<path d="M128.6 757H130.9" stroke="#333" stroke-width="0.9"/>
<text x="126" y="759.9" font-size="8.1" text-anchor="end" fill="#2a2a2a">CFUE</text>
<path d="M143.3 769.3V771.8" stroke="#333" stroke-width="0.9"/>
<text x="143.3" y="779.8" font-size="8" text-anchor="middle" fill="#2a2a2a">1</text>
<path d="M164.5 769.3V771.8" stroke="#333" stroke-width="0.9"/>
<text x="164.5" y="779.8" font-size="8" text-anchor="middle" fill="#2a2a2a">4</text>
<path d="M185.7 769.3V771.8" stroke="#333" stroke-width="0.9"/>
<text x="185.7" y="779.8" font-size="8" text-anchor="middle" fill="#2a2a2a">14</text>
<text x="99.6" y="788.8" font-size="12.4" text-anchor="start" fill="#1a1a1a" textLength="30.23" lengthAdjust="spacingAndGlyphs">class</text>
<defs><linearGradient id="lg" x1="0" y1="0" x2="0" y2="1"><stop offset="0" stop-color="#ee5e9c"/><stop offset="0.5" stop-color="#f6a3c6"/><stop offset="1" stop-color="#ffffff"/></linearGradient></defs>
<text x="200.4" y="640.7" font-size="9.3" text-anchor="start" fill="#1a1a1a" textLength="37.46" lengthAdjust="spacingAndGlyphs">Log avg.</text>
<text x="200.4" y="650.6" font-size="9.3" text-anchor="start" fill="#1a1a1a" textLength="25.51" lengthAdjust="spacingAndGlyphs">signal</text>
<rect x="200.1" y="657" width="10.8" height="51.5" fill="url(#lg)"/>
<path d="M200.1 664.9h2.2M208.7 664.9h2.2" stroke="#fff" stroke-width="0.6" stroke-opacity="0.7"/>
<text x="215.4" y="667.7" font-size="8" text-anchor="start" fill="#2a2a2a">2.0</text>
<path d="M200.1 675.9h2.2M208.7 675.9h2.2" stroke="#fff" stroke-width="0.6" stroke-opacity="0.7"/>
<text x="215.4" y="678.6" font-size="8" text-anchor="start" fill="#2a2a2a">1.5</text>
<path d="M200.1 686.8h2.2M208.7 686.8h2.2" stroke="#fff" stroke-width="0.6" stroke-opacity="0.7"/>
<text x="215.4" y="689.6" font-size="8" text-anchor="start" fill="#2a2a2a">1.0</text>
<path d="M200.1 697.8h2.2M208.7 697.8h2.2" stroke="#fff" stroke-width="0.6" stroke-opacity="0.7"/>
<text x="215.4" y="700.5" font-size="8" text-anchor="start" fill="#2a2a2a">0.5</text>
<path d="M200.1 708.7h2.2M208.7 708.7h2.2" stroke="#fff" stroke-width="0.6" stroke-opacity="0.7"/>
<text x="215.4" y="711.5" font-size="8" text-anchor="start" fill="#2a2a2a">0.0</text>
<text x="204.9" y="579.1" font-size="36.5" text-anchor="start" fill="#000" font-weight="bold">c</text>
<text x="239.9" y="583.4" font-size="15" text-anchor="middle" fill="#1a1a1a" transform="rotate(-90 239.9 583.4)" textLength="36.57" lengthAdjust="spacingAndGlyphs">class</text>
<text x="254.2" y="576.6" font-size="10.5" text-anchor="end" fill="#4d4d4d">14</text>
<text x="254.2" y="597.4" font-size="10.5" text-anchor="end" fill="#4d4d4d">4</text>
<path d="M259 573H685M259 593.6H685" stroke="#ebebeb" stroke-width="1"/>
<path d="M273.4 561V605.5M298.2 561V605.5M322.9 561V605.5M347.7 561V605.5M372.5 561V605.5M397.2 561V605.5M422 561V605.5M446.8 561V605.5M471.6 561V605.5M496.3 561V605.5M521.1 561V605.5M545.9 561V605.5M570.6 561V605.5M595.4 561V605.5M620.2 561V605.5M645 561V605.5M669.7 561V605.5" stroke="#ebebeb" stroke-width="1"/>
<path d="M273.4 567.9l5.1 5.1l-5.1 5.1l-5.1 -5.1z" fill="#d61a0c"/>
<path d="M298.2 567.9l5.1 5.1l-5.1 5.1l-5.1 -5.1z" fill="#d61a0c"/>
<path d="M322.9 567.9l5.1 5.1l-5.1 5.1l-5.1 -5.1z" fill="#d61a0c"/>
<path d="M347.7 567.9l5.1 5.1l-5.1 5.1l-5.1 -5.1z" fill="#d61a0c"/>
<path d="M372.5 567.9l5.1 5.1l-5.1 5.1l-5.1 -5.1z" fill="#d61a0c"/>
<path d="M397.2 567.9l5.1 5.1l-5.1 5.1l-5.1 -5.1z" fill="#d61a0c"/>
<path d="M422 567.9l5.1 5.1l-5.1 5.1l-5.1 -5.1z" fill="#d61a0c"/>
<path d="M446.8 567.9l5.1 5.1l-5.1 5.1l-5.1 -5.1z" fill="#d61a0c"/>
<path d="M471.6 590.7l3 3l-3 3l-3 -3z" fill="#6a0f73"/>
<path d="M496.3 590.1l3.6 3.6l-3.6 3.6l-3.6 -3.6z" fill="#6a0f73"/>
<path d="M521.1 590.4l3.3 3.3l-3.3 3.3l-3.3 -3.3z" fill="#6a0f73"/>
<path d="M545.9 592.4l1.3 1.3l-1.3 1.3l-1.3 -1.3z" fill="#6a0f73"/>
<path d="M570.6 592.1l1.6 1.6l-1.6 1.6l-1.6 -1.6z" fill="#6a0f73"/>
<path d="M595.4 592.1l1.6 1.6l-1.6 1.6l-1.6 -1.6z" fill="#6a0f73"/>
<path d="M620.2 592.2l1.5 1.5l-1.5 1.5l-1.5 -1.5z" fill="#6a0f73"/>
<path d="M645 592.2l1.5 1.5l-1.5 1.5l-1.5 -1.5z" fill="#6a0f73"/>
<path d="M669.7 590.9l2.8 2.8l-2.8 2.8l-2.8 -2.8z" fill="#6a0f73"/>
<text x="276.6" y="610.3" font-size="9.1" text-anchor="end" fill="#4d4d4d" transform="rotate(-90 276.6 610.3)">decreased circulating bicarbonate level</text>
<text x="301.4" y="610.3" font-size="9.1" text-anchor="end" fill="#4d4d4d" transform="rotate(-90 301.4 610.3)">hemolytic anemia</text>
<text x="326.1" y="610.3" font-size="9.1" text-anchor="end" fill="#4d4d4d" transform="rotate(-90 326.1 610.3)">low mean erythrocyte cell number</text>
<text x="350.9" y="610.3" font-size="9.1" text-anchor="end" fill="#4d4d4d" transform="rotate(-90 350.9 610.3)">increased urine calcium level</text>
<text x="375.7" y="610.3" font-size="9.1" text-anchor="end" fill="#4d4d4d" transform="rotate(-90 375.7 610.3)">hemolysis</text>
<text x="400.4" y="610.3" font-size="9.1" text-anchor="end" fill="#4d4d4d" transform="rotate(-90 400.4 610.3)">abnormal renal filtration rate</text>
<text x="425.2" y="610.3" font-size="9.1" text-anchor="end" fill="#4d4d4d" transform="rotate(-90 425.2 610.3)">decreased creatinine clearance</text>
<text x="450" y="610.3" font-size="9.1" text-anchor="end" fill="#4d4d4d" transform="rotate(-90 450 610.3)">abnormal erythrocyte physiology</text>
<text x="474.8" y="610.3" font-size="9.1" text-anchor="end" fill="#4d4d4d" transform="rotate(-90 474.8 610.3)">abnormal thymus cortex morphology</text>
<text x="499.5" y="610.3" font-size="9.1" text-anchor="end" fill="#4d4d4d" transform="rotate(-90 499.5 610.3)">thymus cortex hypoplasia</text>
<text x="524.3" y="610.3" font-size="9.1" text-anchor="end" fill="#4d4d4d" transform="rotate(-90 524.3 610.3)">abnormal memory T cell physiology</text>
<text x="549.1" y="610.3" font-size="9.1" text-anchor="end" fill="#4d4d4d" transform="rotate(-90 549.1 610.3)">abnormal embryonic hematopoiesis</text>
<text x="573.8" y="610.3" font-size="9.1" text-anchor="end" fill="#4d4d4d" transform="rotate(-90 573.8 610.3)">decreased IgD level</text>
<text x="598.6" y="610.3" font-size="9.1" text-anchor="end" fill="#4d4d4d" transform="rotate(-90 598.6 610.3)">decreased naive B cell number</text>
<text x="623.4" y="610.3" font-size="9.1" text-anchor="end" fill="#4d4d4d" transform="rotate(-90 623.4 610.3)">increased CD4&#160; negative NK T cell number</text>
<text x="648.2" y="610.3" font-size="9.1" text-anchor="end" fill="#4d4d4d" transform="rotate(-90 648.2 610.3)">decreased CD4&#160; positive NK T cell number</text>
<text x="672.9" y="610.3" font-size="9.1" text-anchor="end" fill="#4d4d4d" transform="rotate(-90 672.9 610.3)">abnormal type III hypersensitivity reaction</text>
</svg>
</body></html>
